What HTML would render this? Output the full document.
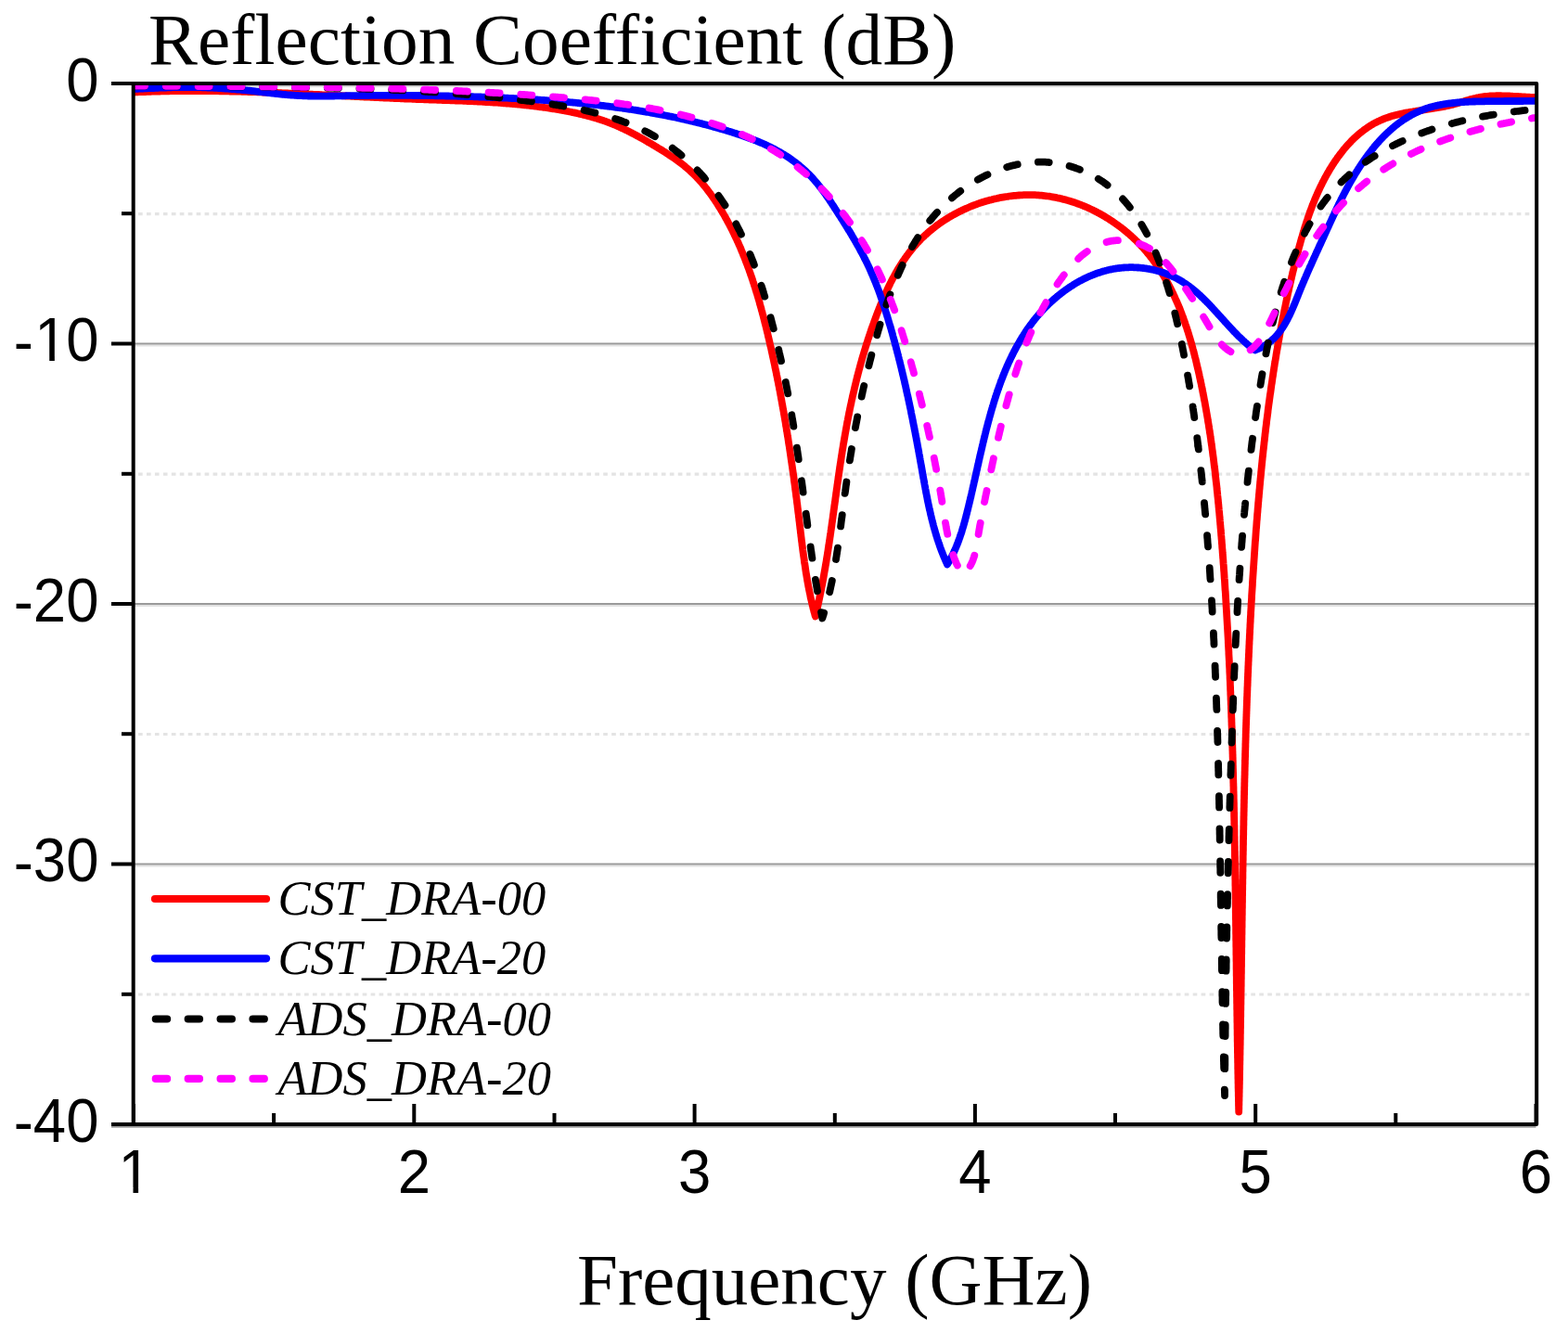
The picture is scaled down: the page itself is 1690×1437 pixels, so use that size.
<!DOCTYPE html>
<html><head><meta charset="utf-8"><title>Reflection Coefficient</title>
<style>html,body{margin:0;padding:0;background:#fff;}svg{display:block;}text{font-variant-ligatures:none;font-feature-settings:'liga' 0,'clig' 0;font-kerning:normal;}</style>
</head><body>
<svg width="1690" height="1437" viewBox="0 0 1690 1437">
<rect width="100%" height="100%" fill="#ffffff"/>
<line x1="149.0" y1="230.6" x2="1652.5" y2="230.6" stroke="#e4e4e4" stroke-width="3.2" stroke-dasharray="4.7 4.25"/>
<line x1="149.0" y1="511.1" x2="1652.5" y2="511.1" stroke="#e4e4e4" stroke-width="3.2" stroke-dasharray="4.7 4.25"/>
<line x1="149.0" y1="791.5" x2="1652.5" y2="791.5" stroke="#e4e4e4" stroke-width="3.2" stroke-dasharray="4.7 4.25"/>
<line x1="149.0" y1="1072.0" x2="1652.5" y2="1072.0" stroke="#e4e4e4" stroke-width="3.2" stroke-dasharray="4.7 4.25"/>
<line x1="144.0" y1="372.5" x2="1655.5" y2="372.5" stroke="#e2e2e2" stroke-width="2"/>
<line x1="144.0" y1="370.5" x2="1655.5" y2="370.5" stroke="#9a9a9a" stroke-width="2"/>
<line x1="144.0" y1="653.0" x2="1655.5" y2="653.0" stroke="#e2e2e2" stroke-width="2"/>
<line x1="144.0" y1="651.0" x2="1655.5" y2="651.0" stroke="#9a9a9a" stroke-width="2"/>
<line x1="144.0" y1="933.5" x2="1655.5" y2="933.5" stroke="#e2e2e2" stroke-width="2"/>
<line x1="144.0" y1="931.5" x2="1655.5" y2="931.5" stroke="#9a9a9a" stroke-width="2"/>
<line x1="144.0" y1="92.8" x2="1653.5" y2="92.8" stroke="#c8c8c8" stroke-width="2"/>
<defs><clipPath id="pc"><rect x="144.0" y="70.0" width="1511.5" height="1162.0"/></clipPath></defs>
<g fill="none" stroke-linejoin="round" clip-path="url(#pc)">
<path d="M144.0,99.5 L145.4,99.4 L146.8,99.4 L148.2,99.3 L149.6,99.2 L151.0,99.2 L152.4,99.1 L153.9,99.1 L155.3,99.0 L156.7,99.0 L158.1,98.9 L159.5,98.9 L160.9,98.8 L162.3,98.8 L163.7,98.7 L165.1,98.7 L166.5,98.6 L167.9,98.6 L169.3,98.6 L170.7,98.5 L172.1,98.5 L173.6,98.4 L175.0,98.4 L176.4,98.4 L177.8,98.4 L179.2,98.3 L180.6,98.3 L182.0,98.3 L183.4,98.2 L184.8,98.2 L186.2,98.2 L187.6,98.2 L189.0,98.2 L190.4,98.1 L191.8,98.1 L193.2,98.1 L194.6,98.1 L196.1,98.1 L197.5,98.1 L198.9,98.1 L200.3,98.1 L201.7,98.1 L203.1,98.0 L204.5,98.0 L205.9,98.0 L207.3,98.0 L208.7,98.0 L210.1,98.0 L211.5,98.0 L212.9,98.0 L214.3,98.0 L215.7,98.0 L217.1,98.1 L218.5,98.1 L219.9,98.1 L221.3,98.1 L222.8,98.1 L224.2,98.1 L225.6,98.1 L227.0,98.1 L228.4,98.1 L229.8,98.2 L231.2,98.2 L232.6,98.2 L234.0,98.2 L235.4,98.2 L236.8,98.3 L238.2,98.3 L239.6,98.3 L241.0,98.3 L242.4,98.4 L243.8,98.4 L245.2,98.4 L246.6,98.4 L248.0,98.5 L249.4,98.5 L250.8,98.5 L252.3,98.6 L253.7,98.6 L255.1,98.6 L256.5,98.7 L257.9,98.7 L259.3,98.7 L260.7,98.8 L262.1,98.8 L263.5,98.8 L264.9,98.9 L266.3,98.9 L267.7,99.0 L269.1,99.0 L270.5,99.0 L271.9,99.1 L273.3,99.1 L274.7,99.2 L276.1,99.2 L277.5,99.3 L278.9,99.3 L280.3,99.4 L281.7,99.4 L283.1,99.5 L284.5,99.5 L286.0,99.6 L287.4,99.6 L288.8,99.7 L290.2,99.7 L291.6,99.8 L293.0,99.8 L294.4,99.9 L295.8,99.9 L297.2,100.0 L298.6,100.0 L300.0,100.1 L301.4,100.2 L302.8,100.2 L304.2,100.3 L305.6,100.3 L307.0,100.4 L308.4,100.4 L309.8,100.5 L311.2,100.6 L312.6,100.6 L314.0,100.7 L315.4,100.7 L316.8,100.8 L318.2,100.9 L319.7,100.9 L321.1,101.0 L322.5,101.1 L323.9,101.1 L325.3,101.2 L326.7,101.3 L328.1,101.3 L329.5,101.4 L330.9,101.4 L332.3,101.5 L333.7,101.6 L335.1,101.6 L336.5,101.7 L337.9,101.8 L339.3,101.8 L340.7,101.9 L342.1,102.0 L343.5,102.0 L344.9,102.1 L346.3,102.2 L347.7,102.3 L349.1,102.3 L350.5,102.4 L352.0,102.5 L353.4,102.5 L354.8,102.6 L356.2,102.7 L357.6,102.7 L359.0,102.8 L360.4,102.9 L361.8,102.9 L363.2,103.0 L364.6,103.1 L366.0,103.1 L367.4,103.2 L368.8,103.3 L370.2,103.4 L371.6,103.4 L373.0,103.5 L374.4,103.6 L375.8,103.6 L377.2,103.7 L378.6,103.8 L380.0,103.8 L381.5,103.9 L382.9,104.0 L384.3,104.1 L385.7,104.1 L387.1,104.2 L388.5,104.3 L389.9,104.3 L391.3,104.4 L392.7,104.5 L394.1,104.5 L395.5,104.6 L396.9,104.7 L398.3,104.7 L399.7,104.8 L401.1,104.9 L402.5,104.9 L403.9,105.0 L405.3,105.1 L406.8,105.1 L408.2,105.2 L409.6,105.3 L411.0,105.3 L412.4,105.4 L413.8,105.5 L415.2,105.5 L416.6,105.6 L418.0,105.7 L419.4,105.7 L420.8,105.8 L422.2,105.8 L423.6,105.9 L425.0,106.0 L426.4,106.0 L427.8,106.1 L429.3,106.2 L430.7,106.2 L432.1,106.3 L433.5,106.3 L434.9,106.4 L436.3,106.5 L437.7,106.5 L439.1,106.6 L440.5,106.6 L441.9,106.7 L443.3,106.7 L444.7,106.8 L446.1,106.8 L447.5,106.9 L449.0,107.0 L450.4,107.0 L451.8,107.1 L453.2,107.1 L454.6,107.2 L456.0,107.2 L457.4,107.3 L458.8,107.3 L460.2,107.4 L461.6,107.4 L463.0,107.5 L464.4,107.5 L465.9,107.6 L467.3,107.6 L468.7,107.7 L470.1,107.7 L471.5,107.8 L472.9,107.8 L474.3,107.9 L475.7,107.9 L477.1,108.0 L478.5,108.0 L479.9,108.1 L481.3,108.1 L482.7,108.2 L484.2,108.2 L485.6,108.3 L487.0,108.3 L488.4,108.4 L489.8,108.4 L491.2,108.5 L492.6,108.5 L494.0,108.6 L495.4,108.6 L496.8,108.7 L498.2,108.7 L499.6,108.8 L501.0,108.9 L502.4,108.9 L503.9,109.0 L505.3,109.0 L506.7,109.1 L508.1,109.2 L509.5,109.2 L510.9,109.3 L512.3,109.4 L513.7,109.4 L515.1,109.5 L516.5,109.6 L517.9,109.7 L519.3,109.7 L520.7,109.8 L522.1,109.9 L523.5,110.0 L524.9,110.0 L526.3,110.1 L527.7,110.2 L529.1,110.3 L530.5,110.4 L532.0,110.5 L533.4,110.6 L534.8,110.7 L536.2,110.7 L537.6,110.8 L539.0,110.9 L540.4,111.0 L541.8,111.1 L543.2,111.3 L544.6,111.4 L546.0,111.5 L547.4,111.6 L548.8,111.7 L550.2,111.8 L551.6,111.9 L553.0,112.1 L554.4,112.2 L555.8,112.3 L557.2,112.4 L558.6,112.6 L560.0,112.7 L561.3,112.8 L562.7,113.0 L564.1,113.1 L565.5,113.3 L566.9,113.4 L568.3,113.6 L569.7,113.7 L571.1,113.9 L572.5,114.0 L573.9,114.2 L575.3,114.4 L576.7,114.5 L578.1,114.7 L579.5,114.9 L580.9,115.1 L582.3,115.3 L583.6,115.4 L585.0,115.6 L586.4,115.8 L587.8,116.0 L589.2,116.2 L590.6,116.4 L592.0,116.6 L593.4,116.8 L594.8,117.1 L596.1,117.3 L597.5,117.5 L598.9,117.7 L600.3,118.0 L601.7,118.2 L603.1,118.4 L604.5,118.7 L605.8,118.9 L607.2,119.2 L608.6,119.4 L610.0,119.7 L611.4,120.0 L612.7,120.2 L614.1,120.5 L615.5,120.8 L616.9,121.1 L618.3,121.3 L619.6,121.6 L621.0,121.9 L622.4,122.2 L623.8,122.6 L625.1,122.9 L626.5,123.2 L627.9,123.5 L629.2,123.9 L630.6,124.2 L631.9,124.5 L633.3,124.9 L634.7,125.3 L636.0,125.6 L637.4,126.0 L638.7,126.4 L640.1,126.8 L641.4,127.2 L642.8,127.6 L644.1,128.0 L645.4,128.4 L646.8,128.8 L648.1,129.3 L649.4,129.7 L650.7,130.2 L652.1,130.6 L653.4,131.1 L654.7,131.6 L656.0,132.1 L657.3,132.6 L658.6,133.1 L659.9,133.6 L661.2,134.1 L662.5,134.7 L663.8,135.2 L665.1,135.8 L666.4,136.3 L667.7,136.9 L668.9,137.5 L670.2,138.1 L671.5,138.7 L672.8,139.3 L674.0,139.9 L675.3,140.5 L676.5,141.1 L677.8,141.7 L679.1,142.4 L680.3,143.0 L681.6,143.7 L682.8,144.3 L684.0,145.0 L685.3,145.6 L686.5,146.3 L687.8,147.0 L689.0,147.7 L690.2,148.3 L691.5,149.0 L692.7,149.7 L693.9,150.4 L695.2,151.1 L696.4,151.8 L697.6,152.6 L698.8,153.3 L700.1,154.0 L701.3,154.7 L702.5,155.4 L703.7,156.1 L705.0,156.9 L706.2,157.6 L707.4,158.3 L708.6,159.1 L709.8,159.8 L711.0,160.5 L712.2,161.3 L713.5,162.0 L714.7,162.8 L715.9,163.5 L717.1,164.3 L718.3,165.1 L719.5,165.8 L720.6,166.6 L721.8,167.4 L723.0,168.2 L724.2,169.0 L725.3,169.7 L726.5,170.5 L727.7,171.4 L728.8,172.2 L730.0,173.0 L731.1,173.8 L732.2,174.7 L733.4,175.5 L734.5,176.4 L735.6,177.2 L736.7,178.1 L737.8,179.0 L738.8,179.9 L739.9,180.8 L741.0,181.7 L742.0,182.6 L743.1,183.5 L744.1,184.5 L745.1,185.4 L746.1,186.4 L747.2,187.4 L748.1,188.3 L749.1,189.3 L750.1,190.3 L751.1,191.3 L752.0,192.3 L753.0,193.4 L753.9,194.4 L754.8,195.4 L755.8,196.5 L756.7,197.5 L757.6,198.6 L758.5,199.7 L759.4,200.8 L760.3,201.9 L761.1,202.9 L762.0,204.0 L762.8,205.2 L763.7,206.3 L764.5,207.4 L765.4,208.5 L766.2,209.7 L767.0,210.8 L767.8,211.9 L768.6,213.1 L769.4,214.2 L770.2,215.4 L771.0,216.6 L771.8,217.7 L772.5,218.9 L773.3,220.1 L774.0,221.3 L774.8,222.5 L775.5,223.6 L776.3,224.8 L777.0,226.0 L777.7,227.2 L778.4,228.4 L779.2,229.7 L779.9,230.9 L780.6,232.1 L781.3,233.3 L781.9,234.5 L782.6,235.7 L783.3,237.0 L784.0,238.2 L784.6,239.4 L785.3,240.7 L786.0,241.9 L786.6,243.1 L787.3,244.4 L787.9,245.6 L788.5,246.9 L789.2,248.1 L789.8,249.4 L790.4,250.6 L791.0,251.9 L791.6,253.2 L792.2,254.4 L792.8,255.7 L793.4,256.9 L794.0,258.2 L794.6,259.5 L795.2,260.8 L795.8,262.0 L796.3,263.3 L796.9,264.6 L797.5,265.9 L798.0,267.2 L798.6,268.5 L799.1,269.8 L799.6,271.1 L800.2,272.4 L800.7,273.7 L801.2,275.0 L801.8,276.3 L802.3,277.6 L802.8,278.9 L803.3,280.2 L803.8,281.5 L804.3,282.8 L804.8,284.1 L805.3,285.4 L805.8,286.7 L806.3,288.1 L806.8,289.4 L807.3,290.7 L807.7,292.0 L808.2,293.4 L808.7,294.7 L809.1,296.0 L809.6,297.3 L810.1,298.7 L810.5,300.0 L811.0,301.3 L811.4,302.7 L811.8,304.0 L812.3,305.4 L812.7,306.7 L813.1,308.0 L813.6,309.4 L814.0,310.7 L814.4,312.1 L814.8,313.4 L815.2,314.8 L815.7,316.1 L816.1,317.5 L816.5,318.8 L816.9,320.2 L817.3,321.5 L817.7,322.9 L818.1,324.3 L818.5,325.6 L818.8,327.0 L819.2,328.3 L819.6,329.7 L820.0,331.1 L820.4,332.4 L820.7,333.8 L821.1,335.1 L821.5,336.5 L821.8,337.9 L822.2,339.2 L822.6,340.6 L822.9,342.0 L823.3,343.4 L823.6,344.7 L824.0,346.1 L824.3,347.5 L824.7,348.8 L825.0,350.2 L825.4,351.6 L825.7,352.9 L826.0,354.3 L826.4,355.7 L826.7,357.1 L827.0,358.4 L827.4,359.8 L827.7,361.2 L828.0,362.6 L828.3,363.9 L828.7,365.3 L829.0,366.7 L829.3,368.1 L829.6,369.4 L829.9,370.8 L830.2,372.2 L830.6,373.6 L830.9,374.9 L831.2,376.3 L831.5,377.7 L831.8,379.1 L832.1,380.5 L832.4,381.8 L832.7,383.2 L833.0,384.6 L833.3,386.0 L833.6,387.3 L833.9,388.7 L834.2,390.1 L834.5,391.5 L834.8,392.8 L835.1,394.2 L835.3,395.6 L835.6,397.0 L835.9,398.4 L836.2,399.7 L836.5,401.1 L836.8,402.5 L837.0,403.9 L837.3,405.2 L837.6,406.6 L837.9,408.0 L838.1,409.4 L838.4,410.8 L838.7,412.1 L839.0,413.5 L839.2,414.9 L839.5,416.3 L839.8,417.6 L840.0,419.0 L840.3,420.4 L840.6,421.8 L840.8,423.2 L841.1,424.5 L841.3,425.9 L841.6,427.3 L841.8,428.7 L842.1,430.1 L842.3,431.4 L842.6,432.8 L842.8,434.2 L843.1,435.6 L843.3,437.0 L843.6,438.3 L843.8,439.7 L844.1,441.1 L844.3,442.5 L844.6,443.9 L844.8,445.2 L845.0,446.6 L845.3,448.0 L845.5,449.4 L845.8,450.8 L846.0,452.2 L846.2,453.5 L846.5,454.9 L846.7,456.3 L846.9,457.7 L847.1,459.1 L847.4,460.4 L847.6,461.8 L847.8,463.2 L848.0,464.6 L848.3,466.0 L848.5,467.4 L848.7,468.8 L848.9,470.1 L849.2,471.5 L849.4,472.9 L849.6,474.3 L849.8,475.7 L850.0,477.1 L850.2,478.4 L850.4,479.8 L850.7,481.2 L850.9,482.6 L851.1,484.0 L851.3,485.4 L851.5,486.8 L851.7,488.1 L851.9,489.5 L852.1,490.9 L852.3,492.3 L852.5,493.7 L852.7,495.1 L852.9,496.5 L853.1,497.9 L853.3,499.2 L853.5,500.6 L853.7,502.0 L853.9,503.4 L854.1,504.8 L854.3,506.2 L854.5,507.6 L854.7,509.0 L854.9,510.4 L855.1,511.8 L855.3,513.1 L855.5,514.5 L855.7,515.9 L855.8,517.3 L856.0,518.7 L856.2,520.1 L856.4,521.5 L856.6,522.9 L856.8,524.3 L857.0,525.7 L857.1,527.1 L857.3,528.5 L857.5,529.8 L857.7,531.2 L857.9,532.6 L858.0,534.0 L858.2,535.4 L858.4,536.8 L858.6,538.2 L858.8,539.6 L858.9,541.0 L859.1,542.4 L859.3,543.8 L859.5,545.2 L859.6,546.6 L859.8,548.0 L860.0,549.4 L860.1,550.8 L860.3,552.2 L860.5,553.6 L860.7,555.0 L860.8,556.4 L861.0,557.8 L861.2,559.2 L861.3,560.6 L861.5,562.0 L861.7,563.4 L861.8,564.8 L862.0,566.2 L862.2,567.6 L862.3,569.0 L862.5,570.4 L862.7,571.8 L862.8,573.2 L863.0,574.6 L863.2,576.0 L863.3,577.4 L863.5,578.8 L863.7,580.2 L863.8,581.6 L864.0,583.0 L864.2,584.4 L864.4,585.8 L864.5,587.2 L864.7,588.6 L864.9,590.0 L865.1,591.4 L865.2,592.8 L865.4,594.2 L865.6,595.6 L865.8,597.0 L866.0,598.4 L866.2,599.8 L866.4,601.1 L866.6,602.5 L866.8,603.9 L866.9,605.3 L867.1,606.7 L867.4,608.1 L867.6,609.5 L867.8,610.9 L868.0,612.3 L868.2,613.7 L868.4,615.1 L868.6,616.5 L868.8,617.9 L869.1,619.3 L869.3,620.6 L869.5,622.0 L869.8,623.4 L870.0,624.8 L870.2,626.2 L870.5,627.6 L870.7,628.9 L871.0,630.3 L871.2,631.7 L871.5,633.1 L871.8,634.5 L872.0,635.8 L872.3,637.2 L872.6,638.6 L872.9,640.0 L873.2,641.3 L873.4,642.7 L873.7,644.1 L874.0,645.5 L874.3,646.8 L874.7,648.2 L875.0,649.6 L875.3,650.9 L875.6,652.3 L876.0,653.7 L876.3,655.0 L876.6,656.4 L877.0,657.7 L877.3,659.1 L877.7,660.4 L878.1,661.8 L878.4,663.1 L878.8,664.5 L878.8,664.5 L879.2,662.8 L879.6,661.1 L880.0,659.4 L880.4,657.8 L880.8,656.1 L881.2,654.4 L881.5,652.7 L881.9,651.0 L882.3,649.3 L882.6,647.6 L883.0,645.9 L883.3,644.2 L883.7,642.5 L884.0,640.9 L884.4,639.2 L884.7,637.5 L885.1,635.8 L885.4,634.1 L885.7,632.4 L886.1,630.7 L886.4,629.0 L886.7,627.3 L887.0,625.6 L887.3,623.9 L887.6,622.2 L887.9,620.5 L888.2,618.8 L888.5,617.1 L888.8,615.4 L889.1,613.7 L889.4,612.0 L889.7,610.2 L890.0,608.5 L890.3,606.8 L890.6,605.1 L890.8,603.4 L891.1,601.7 L891.4,600.0 L891.7,598.3 L891.9,596.6 L892.2,594.9 L892.5,593.2 L892.7,591.5 L893.0,589.8 L893.3,588.0 L893.5,586.3 L893.8,584.6 L894.0,582.9 L894.3,581.2 L894.5,579.5 L894.8,577.8 L895.0,576.1 L895.3,574.3 L895.5,572.6 L895.8,570.9 L896.0,569.2 L896.3,567.5 L896.5,565.8 L896.7,564.1 L897.0,562.4 L897.2,560.6 L897.5,558.9 L897.7,557.2 L897.9,555.5 L898.2,553.8 L898.4,552.1 L898.6,550.3 L898.9,548.6 L899.1,546.9 L899.3,545.2 L899.6,543.5 L899.8,541.8 L900.1,540.1 L900.3,538.3 L900.5,536.6 L900.8,534.9 L901.0,533.2 L901.2,531.5 L901.5,529.8 L901.7,528.0 L902.0,526.3 L902.2,524.6 L902.4,522.9 L902.7,521.2 L902.9,519.5 L903.2,517.8 L903.4,516.0 L903.6,514.3 L903.9,512.6 L904.1,510.9 L904.4,509.2 L904.6,507.5 L904.9,505.8 L905.1,504.0 L905.4,502.3 L905.6,500.6 L905.9,498.9 L906.2,497.2 L906.4,495.5 L906.7,493.8 L906.9,492.1 L907.2,490.3 L907.5,488.6 L907.7,486.9 L908.0,485.2 L908.3,483.5 L908.6,481.8 L908.8,480.1 L909.1,478.4 L909.4,476.7 L909.7,475.0 L910.0,473.3 L910.3,471.5 L910.6,469.8 L910.9,468.1 L911.2,466.4 L911.5,464.7 L911.8,463.0 L912.1,461.3 L912.4,459.6 L912.7,457.9 L913.0,456.2 L913.3,454.5 L913.7,452.8 L914.0,451.1 L914.3,449.4 L914.7,447.7 L915.0,446.0 L915.3,444.3 L915.7,442.6 L916.0,440.9 L916.4,439.2 L916.7,437.5 L917.1,435.8 L917.5,434.1 L917.8,432.4 L918.2,430.7 L918.6,429.0 L918.9,427.3 L919.3,425.7 L919.7,424.0 L920.1,422.3 L920.5,420.6 L920.9,418.9 L921.3,417.2 L921.7,415.5 L922.1,413.8 L922.5,412.2 L922.9,410.5 L923.3,408.8 L923.7,407.1 L924.2,405.4 L924.6,403.8 L925.0,402.1 L925.5,400.4 L925.9,398.7 L926.4,397.1 L926.8,395.4 L927.3,393.7 L927.7,392.0 L928.2,390.4 L928.7,388.7 L929.1,387.0 L929.6,385.4 L930.1,383.7 L930.6,382.0 L931.1,380.4 L931.6,378.7 L932.1,377.0 L932.6,375.4 L933.1,373.7 L933.6,372.1 L934.1,370.4 L934.7,368.7 L935.2,367.1 L935.7,365.4 L936.3,363.8 L936.8,362.1 L937.4,360.5 L937.9,358.8 L938.5,357.2 L939.0,355.5 L939.6,353.9 L940.2,352.2 L940.8,350.6 L941.4,349.0 L942.0,347.3 L942.6,345.7 L943.2,344.1 L943.8,342.4 L944.4,340.8 L945.0,339.2 L945.6,337.5 L946.3,335.9 L946.9,334.3 L947.5,332.6 L948.2,331.0 L948.8,329.4 L949.5,327.8 L950.2,326.2 L950.8,324.6 L951.5,322.9 L952.2,321.3 L952.9,319.7 L953.6,318.1 L954.3,316.5 L955.0,315.0 L955.8,313.4 L956.5,311.8 L957.3,310.2 L958.0,308.6 L958.8,307.1 L959.5,305.5 L960.3,304.0 L961.1,302.4 L961.9,300.9 L962.7,299.4 L963.6,297.8 L964.4,296.3 L965.2,294.8 L966.1,293.3 L966.9,291.8 L967.8,290.3 L968.7,288.8 L969.6,287.4 L970.5,285.9 L971.4,284.5 L972.4,283.0 L973.3,281.6 L974.3,280.2 L975.3,278.8 L976.2,277.4 L977.2,276.0 L978.3,274.6 L979.3,273.2 L980.3,271.9 L981.4,270.5 L982.5,269.2 L983.5,267.9 L984.6,266.6 L985.7,265.3 L986.9,264.0 L988.0,262.7 L989.2,261.4 L990.4,260.2 L991.5,259.0 L992.7,257.7 L994.0,256.5 L995.2,255.4 L996.4,254.2 L997.7,253.0 L999.0,251.9 L1000.3,250.7 L1001.6,249.6 L1002.9,248.5 L1004.2,247.4 L1005.5,246.3 L1006.9,245.3 L1008.3,244.2 L1009.6,243.2 L1011.0,242.1 L1012.4,241.1 L1013.8,240.1 L1015.3,239.2 L1016.7,238.2 L1018.1,237.3 L1019.6,236.3 L1021.1,235.4 L1022.5,234.5 L1024.0,233.6 L1025.5,232.7 L1027.0,231.9 L1028.6,231.0 L1030.1,230.2 L1031.6,229.4 L1033.2,228.6 L1034.7,227.8 L1036.3,227.1 L1037.8,226.3 L1039.4,225.6 L1041.0,224.9 L1042.6,224.2 L1044.2,223.5 L1045.8,222.8 L1047.4,222.1 L1049.0,221.5 L1050.7,220.9 L1052.3,220.3 L1053.9,219.7 L1055.6,219.1 L1057.3,218.6 L1058.9,218.0 L1060.6,217.5 L1062.2,217.0 L1063.9,216.5 L1065.6,216.1 L1067.3,215.6 L1069.0,215.2 L1070.7,214.7 L1072.4,214.3 L1074.1,214.0 L1075.8,213.6 L1077.5,213.2 L1079.2,212.9 L1080.9,212.6 L1082.6,212.3 L1084.4,212.0 L1086.1,211.8 L1087.8,211.5 L1089.5,211.3 L1091.3,211.1 L1093.0,210.9 L1094.7,210.8 L1096.5,210.6 L1098.2,210.5 L1099.9,210.4 L1101.7,210.3 L1103.4,210.2 L1105.2,210.2 L1106.9,210.1 L1108.6,210.1 L1110.4,210.1 L1112.1,210.1 L1113.8,210.2 L1115.6,210.2 L1117.3,210.3 L1119.0,210.4 L1120.8,210.6 L1122.5,210.7 L1124.2,210.9 L1125.9,211.1 L1127.7,211.3 L1129.4,211.5 L1131.1,211.7 L1132.8,212.0 L1134.5,212.3 L1136.2,212.6 L1137.9,212.9 L1139.6,213.3 L1141.3,213.6 L1143.0,214.0 L1144.7,214.4 L1146.4,214.9 L1148.1,215.3 L1149.7,215.8 L1151.4,216.2 L1153.1,216.7 L1154.7,217.2 L1156.4,217.8 L1158.0,218.3 L1159.7,218.9 L1161.3,219.5 L1163.0,220.1 L1164.6,220.7 L1166.2,221.3 L1167.8,222.0 L1169.4,222.6 L1171.0,223.3 L1172.6,224.0 L1174.2,224.8 L1175.8,225.5 L1177.4,226.2 L1178.9,227.0 L1180.5,227.8 L1182.0,228.6 L1183.6,229.4 L1185.1,230.2 L1186.6,231.1 L1188.2,231.9 L1189.7,232.8 L1191.2,233.7 L1192.6,234.6 L1194.1,235.5 L1195.6,236.4 L1197.1,237.4 L1198.5,238.4 L1200.0,239.3 L1201.4,240.3 L1202.8,241.3 L1204.2,242.3 L1205.6,243.4 L1207.0,244.4 L1208.4,245.4 L1209.8,246.5 L1211.2,247.6 L1212.5,248.7 L1213.8,249.8 L1215.2,250.9 L1216.5,252.0 L1217.8,253.2 L1219.1,254.3 L1220.4,255.5 L1221.6,256.6 L1222.9,257.8 L1224.1,259.0 L1225.4,260.2 L1226.6,261.4 L1227.8,262.7 L1229.0,263.9 L1230.1,265.2 L1231.3,266.4 L1232.5,267.7 L1233.6,269.0 L1234.7,270.3 L1235.8,271.6 L1236.9,272.9 L1238.0,274.2 L1239.1,275.5 L1240.1,276.9 L1241.2,278.2 L1242.2,279.6 L1243.2,280.9 L1244.2,282.3 L1245.2,283.7 L1246.2,285.1 L1247.2,286.5 L1248.1,287.9 L1249.1,289.3 L1250.0,290.7 L1250.9,292.1 L1251.8,293.6 L1252.7,295.0 L1253.6,296.5 L1254.5,297.9 L1255.4,299.4 L1256.2,300.9 L1257.1,302.4 L1257.9,303.9 L1258.7,305.4 L1259.5,306.9 L1260.3,308.4 L1261.1,309.9 L1261.9,311.4 L1262.7,313.0 L1263.4,314.5 L1264.2,316.0 L1264.9,317.6 L1265.6,319.1 L1266.3,320.7 L1267.0,322.3 L1267.7,323.8 L1268.4,325.4 L1269.1,327.0 L1269.8,328.6 L1270.5,330.2 L1271.1,331.8 L1271.8,333.4 L1272.4,335.0 L1273.0,336.6 L1273.6,338.2 L1274.2,339.9 L1274.9,341.5 L1275.4,343.1 L1276.0,344.8 L1276.6,346.4 L1277.2,348.1 L1277.7,349.7 L1278.3,351.4 L1278.9,353.0 L1279.4,354.7 L1279.9,356.3 L1280.5,358.0 L1281.0,359.7 L1281.5,361.3 L1282.0,363.0 L1282.5,364.7 L1283.0,366.4 L1283.5,368.1 L1284.0,369.7 L1284.4,371.4 L1284.9,373.1 L1285.4,374.8 L1285.8,376.5 L1286.3,378.2 L1286.7,379.9 L1287.2,381.6 L1287.6,383.3 L1288.0,385.0 L1288.5,386.7 L1288.9,388.4 L1289.3,390.1 L1289.7,391.8 L1290.1,393.6 L1290.5,395.3 L1290.9,397.0 L1291.3,398.7 L1291.7,400.4 L1292.1,402.1 L1292.5,403.8 L1292.8,405.5 L1293.2,407.3 L1293.6,409.0 L1293.9,410.7 L1294.3,412.4 L1294.7,414.1 L1295.0,415.8 L1295.4,417.5 L1295.7,419.2 L1296.1,421.0 L1296.4,422.7 L1296.7,424.4 L1297.1,426.1 L1297.4,427.8 L1297.7,429.5 L1298.0,431.2 L1298.4,432.9 L1298.7,434.7 L1299.0,436.4 L1299.3,438.1 L1299.6,439.8 L1299.9,441.5 L1300.2,443.2 L1300.5,444.9 L1300.8,446.7 L1301.1,448.4 L1301.4,450.1 L1301.7,451.8 L1301.9,453.5 L1302.2,455.2 L1302.5,456.9 L1302.8,458.6 L1303.0,460.4 L1303.3,462.1 L1303.6,463.8 L1303.8,465.5 L1304.1,467.2 L1304.4,468.9 L1304.6,470.6 L1304.9,472.4 L1305.1,474.1 L1305.3,475.8 L1305.6,477.5 L1305.8,479.2 L1306.1,480.9 L1306.3,482.6 L1306.5,484.4 L1306.8,486.1 L1307.0,487.8 L1307.2,489.5 L1307.4,491.2 L1307.7,492.9 L1307.9,494.7 L1308.1,496.4 L1308.3,498.1 L1308.5,499.8 L1308.7,501.5 L1308.9,503.2 L1309.2,504.9 L1309.4,506.7 L1309.6,508.4 L1309.8,510.1 L1310.0,511.8 L1310.1,513.5 L1310.3,515.2 L1310.5,517.0 L1310.7,518.7 L1310.9,520.4 L1311.1,522.1 L1311.3,523.8 L1311.5,525.5 L1311.6,527.3 L1311.8,529.0 L1312.0,530.7 L1312.2,532.4 L1312.3,534.1 L1312.5,535.8 L1312.7,537.6 L1312.9,539.3 L1313.0,541.0 L1313.2,542.7 L1313.4,544.4 L1313.5,546.2 L1313.7,547.9 L1313.8,549.6 L1314.0,551.3 L1314.2,553.0 L1314.3,554.8 L1314.5,556.5 L1314.6,558.2 L1314.8,559.9 L1314.9,561.6 L1315.1,563.3 L1315.2,565.1 L1315.4,566.8 L1315.5,568.5 L1315.7,570.2 L1315.8,571.9 L1316.0,573.7 L1316.1,575.4 L1316.2,577.1 L1316.4,578.8 L1316.5,580.6 L1316.7,582.3 L1316.8,584.0 L1316.9,585.7 L1317.1,587.4 L1317.2,589.2 L1317.3,590.9 L1317.5,592.6 L1317.6,594.3 L1317.7,596.0 L1317.9,597.8 L1318.0,599.5 L1318.1,601.2 L1318.3,602.9 L1318.4,604.7 L1318.5,606.4 L1318.6,608.1 L1318.8,609.8 L1318.9,611.5 L1319.0,613.3 L1319.1,615.0 L1319.3,616.7 L1319.4,618.4 L1319.5,620.2 L1319.6,621.9 L1319.7,623.6 L1319.9,625.3 L1320.0,627.1 L1320.1,628.8 L1320.2,630.5 L1320.3,632.2 L1320.4,634.0 L1320.5,635.7 L1320.7,637.4 L1320.8,639.1 L1320.9,640.9 L1321.0,642.6 L1321.1,644.3 L1321.2,646.0 L1321.3,647.8 L1321.4,649.5 L1321.5,651.2 L1321.6,652.9 L1321.7,654.7 L1321.8,656.4 L1321.9,658.1 L1322.0,659.8 L1322.1,661.6 L1322.2,663.3 L1322.3,665.0 L1322.4,666.8 L1322.5,668.5 L1322.6,670.2 L1322.7,671.9 L1322.8,673.7 L1322.9,675.4 L1323.0,677.1 L1323.1,678.8 L1323.2,680.6 L1323.3,682.3 L1323.4,684.0 L1323.5,685.8 L1323.6,687.5 L1323.7,689.2 L1323.8,690.9 L1323.8,692.7 L1323.9,694.4 L1324.0,696.1 L1324.1,697.9 L1324.2,699.6 L1324.3,701.3 L1324.4,703.0 L1324.4,704.8 L1324.5,706.5 L1324.6,708.2 L1324.7,710.0 L1324.8,711.7 L1324.9,713.4 L1324.9,715.1 L1325.0,716.9 L1325.1,718.6 L1325.2,720.3 L1325.3,722.1 L1325.3,723.8 L1325.4,725.5 L1325.5,727.3 L1325.6,729.0 L1325.6,730.7 L1325.7,732.4 L1325.8,734.2 L1325.9,735.9 L1325.9,737.6 L1326.0,739.4 L1326.1,741.1 L1326.1,742.8 L1326.2,744.6 L1326.3,746.3 L1326.3,748.0 L1326.4,749.7 L1326.5,751.5 L1326.5,753.2 L1326.6,754.9 L1326.7,756.7 L1326.7,758.4 L1326.8,760.1 L1326.9,761.9 L1326.9,763.6 L1327.0,765.3 L1327.1,767.1 L1327.1,768.8 L1327.2,770.5 L1327.2,772.3 L1327.3,774.0 L1327.4,775.7 L1327.4,777.5 L1327.5,779.2 L1327.5,780.9 L1327.6,782.6 L1327.7,784.4 L1327.7,786.1 L1327.8,787.8 L1327.8,789.6 L1327.9,791.3 L1327.9,793.0 L1328.0,794.8 L1328.0,796.5 L1328.1,798.2 L1328.1,800.0 L1328.2,801.7 L1328.3,803.4 L1328.3,805.2 L1328.4,806.9 L1328.4,808.6 L1328.5,810.4 L1328.5,812.1 L1328.6,813.8 L1328.6,815.6 L1328.7,817.3 L1328.7,819.0 L1328.8,820.8 L1328.8,822.5 L1328.8,824.2 L1328.9,826.0 L1328.9,827.7 L1329.0,829.4 L1329.0,831.2 L1329.1,832.9 L1329.1,834.6 L1329.2,836.4 L1329.2,838.1 L1329.2,839.8 L1329.3,841.6 L1329.3,843.3 L1329.4,845.0 L1329.4,846.8 L1329.5,848.5 L1329.5,850.2 L1329.5,852.0 L1329.6,853.7 L1329.6,855.4 L1329.7,857.2 L1329.7,858.9 L1329.7,860.6 L1329.8,862.4 L1329.8,864.1 L1329.9,865.8 L1329.9,867.6 L1329.9,869.3 L1330.0,871.0 L1330.0,872.8 L1330.0,874.5 L1330.1,876.3 L1330.1,878.0 L1330.1,879.7 L1330.2,881.5 L1330.2,883.2 L1330.3,884.9 L1330.3,886.7 L1330.3,888.4 L1330.4,890.1 L1330.4,891.9 L1330.4,893.6 L1330.5,895.3 L1330.5,897.1 L1330.5,898.8 L1330.5,900.5 L1330.6,902.3 L1330.6,904.0 L1330.6,905.7 L1330.7,907.5 L1330.7,909.2 L1330.7,910.9 L1330.8,912.7 L1330.8,914.4 L1330.8,916.1 L1330.9,917.9 L1330.9,919.6 L1330.9,921.3 L1330.9,923.1 L1331.0,924.8 L1331.0,926.6 L1331.0,928.3 L1331.1,930.0 L1331.1,931.8 L1331.1,933.5 L1331.1,935.2 L1331.2,937.0 L1331.2,938.7 L1331.2,940.4 L1331.2,942.2 L1331.3,943.9 L1331.3,945.6 L1331.3,947.4 L1331.4,949.1 L1331.4,950.8 L1331.4,952.6 L1331.4,954.3 L1331.5,956.0 L1331.5,957.8 L1331.5,959.5 L1331.5,961.2 L1331.6,963.0 L1331.6,964.7 L1331.6,966.4 L1331.6,968.2 L1331.7,969.9 L1331.7,971.7 L1331.7,973.4 L1331.7,975.1 L1331.8,976.9 L1331.8,978.6 L1331.8,980.3 L1331.8,982.1 L1331.8,983.8 L1331.9,985.5 L1331.9,987.3 L1331.9,989.0 L1331.9,990.7 L1332.0,992.5 L1332.0,994.2 L1332.0,995.9 L1332.0,997.7 L1332.1,999.4 L1332.1,1001.1 L1332.1,1002.9 L1332.1,1004.6 L1332.1,1006.3 L1332.2,1008.1 L1332.2,1009.8 L1332.2,1011.5 L1332.2,1013.3 L1332.3,1015.0 L1332.3,1016.7 L1332.3,1018.5 L1332.3,1020.2 L1332.4,1021.9 L1332.4,1023.7 L1332.4,1025.4 L1332.4,1027.1 L1332.4,1028.9 L1332.5,1030.6 L1332.5,1032.3 L1332.5,1034.1 L1332.5,1035.8 L1332.6,1037.5 L1332.6,1039.3 L1332.6,1041.0 L1332.6,1042.7 L1332.6,1044.5 L1332.7,1046.2 L1332.7,1047.9 L1332.7,1049.7 L1332.7,1051.4 L1332.8,1053.1 L1332.8,1054.9 L1332.8,1056.6 L1332.8,1058.3 L1332.8,1060.1 L1332.9,1061.8 L1332.9,1063.5 L1332.9,1065.3 L1332.9,1067.0 L1333.0,1068.7 L1333.0,1070.5 L1333.0,1072.2 L1333.0,1073.9 L1333.1,1075.7 L1333.1,1077.4 L1333.1,1079.1 L1333.1,1080.9 L1333.2,1082.6 L1333.2,1084.3 L1333.2,1086.1 L1333.2,1087.8 L1333.3,1089.5 L1333.3,1091.3 L1333.3,1093.0 L1333.3,1094.7 L1333.4,1096.5 L1333.4,1098.2 L1333.4,1099.9 L1333.4,1101.7 L1333.5,1103.4 L1333.5,1105.1 L1333.5,1106.8 L1333.5,1108.6 L1333.6,1110.3 L1333.6,1112.0 L1333.6,1113.8 L1333.6,1115.5 L1333.7,1117.2 L1333.7,1119.0 L1333.7,1120.7 L1333.7,1122.4 L1333.8,1124.2 L1333.8,1125.9 L1333.8,1127.6 L1333.9,1129.3 L1333.9,1131.1 L1333.9,1132.8 L1333.9,1134.5 L1334.0,1136.3 L1334.0,1138.0 L1334.0,1139.7 L1334.1,1141.5 L1334.1,1143.2 L1334.1,1144.9 L1334.2,1146.6 L1334.2,1148.4 L1334.2,1150.1 L1334.2,1151.8 L1334.3,1153.6 L1334.3,1155.3 L1334.3,1157.0 L1334.4,1158.8 L1334.4,1160.5 L1334.4,1162.2 L1334.5,1163.9 L1334.5,1165.7 L1334.5,1167.4 L1334.6,1169.1 L1334.6,1170.9 L1334.6,1172.6 L1334.7,1174.3 L1334.7,1176.0 L1334.8,1177.8 L1334.8,1179.5 L1334.8,1181.2 L1334.9,1183.0 L1334.9,1184.7 L1334.9,1186.4 L1335.0,1188.1 L1335.0,1189.9 L1335.0,1191.6 L1335.1,1193.3 L1335.1,1195.0 L1335.2,1196.8 L1335.2,1198.5 L1335.2,1198.5 L1335.2,1197.0 L1335.3,1195.5 L1335.3,1194.0 L1335.3,1192.5 L1335.4,1191.0 L1335.4,1189.5 L1335.4,1188.0 L1335.5,1186.4 L1335.5,1184.9 L1335.5,1183.4 L1335.6,1181.9 L1335.6,1180.4 L1335.6,1178.9 L1335.7,1177.4 L1335.7,1175.9 L1335.7,1174.4 L1335.8,1172.9 L1335.8,1171.4 L1335.8,1169.9 L1335.9,1168.4 L1335.9,1166.9 L1335.9,1165.4 L1336.0,1163.9 L1336.0,1162.3 L1336.0,1160.8 L1336.0,1159.3 L1336.1,1157.8 L1336.1,1156.3 L1336.1,1154.8 L1336.2,1153.3 L1336.2,1151.8 L1336.2,1150.3 L1336.2,1148.8 L1336.3,1147.3 L1336.3,1145.8 L1336.3,1144.3 L1336.4,1142.8 L1336.4,1141.2 L1336.4,1139.7 L1336.4,1138.2 L1336.5,1136.7 L1336.5,1135.2 L1336.5,1133.7 L1336.5,1132.2 L1336.6,1130.7 L1336.6,1129.2 L1336.6,1127.7 L1336.7,1126.2 L1336.7,1124.7 L1336.7,1123.2 L1336.7,1121.7 L1336.8,1120.2 L1336.8,1118.6 L1336.8,1117.1 L1336.8,1115.6 L1336.9,1114.1 L1336.9,1112.6 L1336.9,1111.1 L1336.9,1109.6 L1337.0,1108.1 L1337.0,1106.6 L1337.0,1105.1 L1337.0,1103.6 L1337.1,1102.1 L1337.1,1100.6 L1337.1,1099.1 L1337.1,1097.5 L1337.2,1096.0 L1337.2,1094.5 L1337.2,1093.0 L1337.2,1091.5 L1337.2,1090.0 L1337.3,1088.5 L1337.3,1087.0 L1337.3,1085.5 L1337.3,1084.0 L1337.4,1082.5 L1337.4,1081.0 L1337.4,1079.5 L1337.4,1078.0 L1337.5,1076.4 L1337.5,1074.9 L1337.5,1073.4 L1337.5,1071.9 L1337.5,1070.4 L1337.6,1068.9 L1337.6,1067.4 L1337.6,1065.9 L1337.6,1064.4 L1337.7,1062.9 L1337.7,1061.4 L1337.7,1059.9 L1337.7,1058.4 L1337.7,1056.8 L1337.8,1055.3 L1337.8,1053.8 L1337.8,1052.3 L1337.8,1050.8 L1337.9,1049.3 L1337.9,1047.8 L1337.9,1046.3 L1337.9,1044.8 L1337.9,1043.3 L1338.0,1041.8 L1338.0,1040.3 L1338.0,1038.8 L1338.0,1037.3 L1338.0,1035.7 L1338.1,1034.2 L1338.1,1032.7 L1338.1,1031.2 L1338.1,1029.7 L1338.2,1028.2 L1338.2,1026.7 L1338.2,1025.2 L1338.2,1023.7 L1338.2,1022.2 L1338.3,1020.7 L1338.3,1019.2 L1338.3,1017.7 L1338.3,1016.1 L1338.3,1014.6 L1338.4,1013.1 L1338.4,1011.6 L1338.4,1010.1 L1338.4,1008.6 L1338.5,1007.1 L1338.5,1005.6 L1338.5,1004.1 L1338.5,1002.6 L1338.5,1001.1 L1338.6,999.6 L1338.6,998.1 L1338.6,996.6 L1338.6,995.0 L1338.6,993.5 L1338.7,992.0 L1338.7,990.5 L1338.7,989.0 L1338.7,987.5 L1338.8,986.0 L1338.8,984.5 L1338.8,983.0 L1338.8,981.5 L1338.8,980.0 L1338.9,978.5 L1338.9,977.0 L1338.9,975.4 L1338.9,973.9 L1339.0,972.4 L1339.0,970.9 L1339.0,969.4 L1339.0,967.9 L1339.0,966.4 L1339.1,964.9 L1339.1,963.4 L1339.1,961.9 L1339.1,960.4 L1339.2,958.9 L1339.2,957.4 L1339.2,955.8 L1339.2,954.3 L1339.3,952.8 L1339.3,951.3 L1339.3,949.8 L1339.3,948.3 L1339.4,946.8 L1339.4,945.3 L1339.4,943.8 L1339.4,942.3 L1339.4,940.8 L1339.5,939.3 L1339.5,937.8 L1339.5,936.3 L1339.5,934.7 L1339.6,933.2 L1339.6,931.7 L1339.6,930.2 L1339.6,928.7 L1339.7,927.2 L1339.7,925.7 L1339.7,924.2 L1339.7,922.7 L1339.8,921.2 L1339.8,919.7 L1339.8,918.2 L1339.9,916.7 L1339.9,915.1 L1339.9,913.6 L1339.9,912.1 L1340.0,910.6 L1340.0,909.1 L1340.0,907.6 L1340.0,906.1 L1340.1,904.6 L1340.1,903.1 L1340.1,901.6 L1340.2,900.1 L1340.2,898.6 L1340.2,897.1 L1340.2,895.6 L1340.3,894.0 L1340.3,892.5 L1340.3,891.0 L1340.4,889.5 L1340.4,888.0 L1340.4,886.5 L1340.4,885.0 L1340.5,883.5 L1340.5,882.0 L1340.5,880.5 L1340.6,879.0 L1340.6,877.5 L1340.6,876.0 L1340.7,874.4 L1340.7,872.9 L1340.7,871.4 L1340.8,869.9 L1340.8,868.4 L1340.8,866.9 L1340.9,865.4 L1340.9,863.9 L1340.9,862.4 L1341.0,860.9 L1341.0,859.4 L1341.0,857.9 L1341.1,856.4 L1341.1,854.9 L1341.1,853.3 L1341.2,851.8 L1341.2,850.3 L1341.2,848.8 L1341.3,847.3 L1341.3,845.8 L1341.3,844.3 L1341.4,842.8 L1341.4,841.3 L1341.4,839.8 L1341.5,838.3 L1341.5,836.8 L1341.6,835.3 L1341.6,833.8 L1341.6,832.2 L1341.7,830.7 L1341.7,829.2 L1341.7,827.7 L1341.8,826.2 L1341.8,824.7 L1341.9,823.2 L1341.9,821.7 L1341.9,820.2 L1342.0,818.7 L1342.0,817.2 L1342.1,815.7 L1342.1,814.2 L1342.1,812.7 L1342.2,811.2 L1342.2,809.6 L1342.3,808.1 L1342.3,806.6 L1342.4,805.1 L1342.4,803.6 L1342.4,802.1 L1342.5,800.6 L1342.5,799.1 L1342.6,797.6 L1342.6,796.1 L1342.7,794.6 L1342.7,793.1 L1342.7,791.6 L1342.8,790.1 L1342.8,788.6 L1342.9,787.0 L1342.9,785.5 L1343.0,784.0 L1343.0,782.5 L1343.1,781.0 L1343.1,779.5 L1343.2,778.0 L1343.2,776.5 L1343.3,775.0 L1343.3,773.5 L1343.4,772.0 L1343.4,770.5 L1343.5,769.0 L1343.5,767.5 L1343.6,766.0 L1343.6,764.4 L1343.7,762.9 L1343.7,761.4 L1343.8,759.9 L1343.8,758.4 L1343.9,756.9 L1343.9,755.4 L1344.0,753.9 L1344.0,752.4 L1344.1,750.9 L1344.2,749.4 L1344.2,747.9 L1344.3,746.4 L1344.3,744.9 L1344.4,743.4 L1344.4,741.9 L1344.5,740.3 L1344.6,738.8 L1344.6,737.3 L1344.7,735.8 L1344.7,734.3 L1344.8,732.8 L1344.8,731.3 L1344.9,729.8 L1345.0,728.3 L1345.0,726.8 L1345.1,725.3 L1345.2,723.8 L1345.2,722.3 L1345.3,720.8 L1345.3,719.3 L1345.4,717.8 L1345.5,716.3 L1345.5,714.7 L1345.6,713.2 L1345.7,711.7 L1345.7,710.2 L1345.8,708.7 L1345.9,707.2 L1345.9,705.7 L1346.0,704.2 L1346.1,702.7 L1346.1,701.2 L1346.2,699.7 L1346.3,698.2 L1346.3,696.7 L1346.4,695.2 L1346.5,693.7 L1346.5,692.2 L1346.6,690.7 L1346.7,689.2 L1346.8,687.6 L1346.8,686.1 L1346.9,684.6 L1347.0,683.1 L1347.1,681.6 L1347.1,680.1 L1347.2,678.6 L1347.3,677.1 L1347.4,675.6 L1347.4,674.1 L1347.5,672.6 L1347.6,671.1 L1347.7,669.6 L1347.7,668.1 L1347.8,666.6 L1347.9,665.1 L1348.0,663.6 L1348.1,662.1 L1348.1,660.6 L1348.2,659.0 L1348.3,657.5 L1348.4,656.0 L1348.5,654.5 L1348.5,653.0 L1348.6,651.5 L1348.7,650.0 L1348.8,648.5 L1348.9,647.0 L1349.0,645.5 L1349.1,644.0 L1349.1,642.5 L1349.2,641.0 L1349.3,639.5 L1349.4,638.0 L1349.5,636.5 L1349.6,635.0 L1349.7,633.5 L1349.8,632.0 L1349.9,630.5 L1349.9,629.0 L1350.0,627.4 L1350.1,625.9 L1350.2,624.4 L1350.3,622.9 L1350.4,621.4 L1350.5,619.9 L1350.6,618.4 L1350.7,616.9 L1350.8,615.4 L1350.9,613.9 L1351.0,612.4 L1351.1,610.9 L1351.2,609.4 L1351.3,607.9 L1351.4,606.4 L1351.5,604.9 L1351.6,603.4 L1351.7,601.9 L1351.8,600.4 L1351.9,598.9 L1352.0,597.4 L1352.1,595.9 L1352.2,594.4 L1352.3,592.9 L1352.4,591.3 L1352.5,589.8 L1352.6,588.3 L1352.7,586.8 L1352.8,585.3 L1352.9,583.8 L1353.1,582.3 L1353.2,580.8 L1353.3,579.3 L1353.4,577.8 L1353.5,576.3 L1353.6,574.8 L1353.7,573.3 L1353.8,571.8 L1353.9,570.3 L1354.1,568.8 L1354.2,567.3 L1354.3,565.8 L1354.4,564.3 L1354.5,562.8 L1354.6,561.3 L1354.8,559.8 L1354.9,558.3 L1355.0,556.8 L1355.1,555.3 L1355.2,553.8 L1355.4,552.3 L1355.5,550.8 L1355.6,549.3 L1355.7,547.8 L1355.9,546.2 L1356.0,544.7 L1356.1,543.2 L1356.2,541.7 L1356.4,540.2 L1356.5,538.7 L1356.6,537.2 L1356.8,535.7 L1356.9,534.2 L1357.0,532.7 L1357.2,531.2 L1357.3,529.7 L1357.4,528.2 L1357.6,526.7 L1357.7,525.2 L1357.8,523.7 L1358.0,522.2 L1358.1,520.7 L1358.2,519.2 L1358.4,517.7 L1358.5,516.2 L1358.7,514.7 L1358.8,513.2 L1359.0,511.7 L1359.1,510.2 L1359.2,508.7 L1359.4,507.2 L1359.5,505.7 L1359.7,504.2 L1359.8,502.7 L1360.0,501.2 L1360.1,499.7 L1360.3,498.2 L1360.4,496.7 L1360.6,495.2 L1360.7,493.7 L1360.9,492.2 L1361.1,490.7 L1361.2,489.2 L1361.4,487.7 L1361.5,486.2 L1361.7,484.7 L1361.9,483.2 L1362.0,481.7 L1362.2,480.2 L1362.4,478.7 L1362.5,477.2 L1362.7,475.7 L1362.9,474.2 L1363.0,472.7 L1363.2,471.2 L1363.4,469.7 L1363.5,468.2 L1363.7,466.7 L1363.9,465.2 L1364.1,463.8 L1364.2,462.3 L1364.4,460.8 L1364.6,459.3 L1364.8,457.8 L1365.0,456.3 L1365.1,454.8 L1365.3,453.3 L1365.5,451.8 L1365.7,450.3 L1365.9,448.8 L1366.1,447.3 L1366.3,445.8 L1366.5,444.3 L1366.6,442.8 L1366.8,441.3 L1367.0,439.8 L1367.2,438.3 L1367.4,436.8 L1367.6,435.3 L1367.8,433.9 L1368.0,432.4 L1368.2,430.9 L1368.4,429.4 L1368.6,427.9 L1368.8,426.4 L1369.0,424.9 L1369.3,423.4 L1369.5,421.9 L1369.7,420.4 L1369.9,418.9 L1370.1,417.4 L1370.3,416.0 L1370.5,414.5 L1370.8,413.0 L1371.0,411.5 L1371.2,410.0 L1371.4,408.5 L1371.6,407.0 L1371.9,405.5 L1372.1,404.0 L1372.3,402.5 L1372.5,401.1 L1372.8,399.6 L1373.0,398.1 L1373.2,396.6 L1373.5,395.1 L1373.7,393.6 L1373.9,392.1 L1374.2,390.6 L1374.4,389.2 L1374.7,387.7 L1374.9,386.2 L1375.2,384.7 L1375.4,383.2 L1375.6,381.7 L1375.9,380.2 L1376.1,378.8 L1376.4,377.3 L1376.7,375.8 L1376.9,374.3 L1377.2,372.8 L1377.4,371.3 L1377.7,369.9 L1377.9,368.4 L1378.2,366.9 L1378.5,365.4 L1378.7,363.9 L1379.0,362.4 L1379.3,361.0 L1379.5,359.5 L1379.8,358.0 L1380.1,356.5 L1380.4,355.0 L1380.6,353.6 L1380.9,352.1 L1381.2,350.6 L1381.5,349.1 L1381.8,347.6 L1382.1,346.2 L1382.3,344.7 L1382.6,343.2 L1382.9,341.7 L1383.2,340.2 L1383.5,338.8 L1383.8,337.3 L1384.1,335.8 L1384.4,334.3 L1384.7,332.9 L1385.0,331.4 L1385.3,329.9 L1385.6,328.4 L1385.9,327.0 L1386.2,325.5 L1386.5,324.0 L1386.9,322.5 L1387.2,321.1 L1387.5,319.6 L1387.8,318.1 L1388.1,316.6 L1388.4,315.2 L1388.8,313.7 L1389.1,312.2 L1389.4,310.8 L1389.7,309.3 L1390.1,307.8 L1390.4,306.3 L1390.7,304.9 L1391.1,303.4 L1391.4,301.9 L1391.8,300.5 L1392.1,299.0 L1392.4,297.5 L1392.8,296.1 L1393.1,294.6 L1393.5,293.1 L1393.8,291.7 L1394.2,290.2 L1394.6,288.7 L1394.9,287.3 L1395.3,285.8 L1395.6,284.3 L1396.0,282.9 L1396.4,281.4 L1396.7,279.9 L1397.1,278.5 L1397.5,277.0 L1397.8,275.5 L1398.2,274.1 L1398.6,272.6 L1399.0,271.2 L1399.4,269.7 L1399.7,268.2 L1400.1,266.8 L1400.5,265.3 L1400.9,263.9 L1401.3,262.4 L1401.7,261.0 L1402.1,259.5 L1402.5,258.1 L1402.9,256.6 L1403.4,255.2 L1403.8,253.7 L1404.2,252.3 L1404.6,250.8 L1405.1,249.4 L1405.5,247.9 L1405.9,246.5 L1406.4,245.0 L1406.8,243.6 L1407.3,242.2 L1407.7,240.7 L1408.2,239.3 L1408.7,237.9 L1409.2,236.4 L1409.6,235.0 L1410.1,233.6 L1410.6,232.2 L1411.1,230.8 L1411.6,229.3 L1412.1,227.9 L1412.7,226.5 L1413.2,225.1 L1413.7,223.7 L1414.2,222.3 L1414.8,220.9 L1415.3,219.5 L1415.9,218.1 L1416.5,216.7 L1417.0,215.3 L1417.6,213.9 L1418.2,212.5 L1418.8,211.2 L1419.4,209.8 L1420.0,208.4 L1420.6,207.0 L1421.2,205.7 L1421.9,204.3 L1422.5,202.9 L1423.1,201.6 L1423.8,200.2 L1424.5,198.9 L1425.1,197.5 L1425.8,196.2 L1426.5,194.8 L1427.2,193.5 L1427.9,192.2 L1428.6,190.8 L1429.4,189.5 L1430.1,188.2 L1430.8,186.9 L1431.6,185.6 L1432.4,184.2 L1433.1,182.9 L1433.9,181.6 L1434.7,180.4 L1435.5,179.1 L1436.3,177.8 L1437.2,176.5 L1438.0,175.2 L1438.8,174.0 L1439.7,172.7 L1440.6,171.5 L1441.4,170.2 L1442.3,169.0 L1443.2,167.8 L1444.1,166.6 L1445.0,165.4 L1446.0,164.2 L1446.9,163.0 L1447.8,161.8 L1448.8,160.6 L1449.8,159.5 L1450.7,158.3 L1451.7,157.2 L1452.7,156.1 L1453.8,155.0 L1454.8,153.9 L1455.8,152.8 L1456.8,151.7 L1457.9,150.7 L1459.0,149.6 L1460.0,148.6 L1461.1,147.6 L1462.2,146.6 L1463.3,145.6 L1464.5,144.7 L1465.6,143.7 L1466.7,142.8 L1467.9,141.9 L1469.1,141.0 L1470.2,140.1 L1471.4,139.2 L1472.6,138.4 L1473.8,137.5 L1475.0,136.7 L1476.3,135.9 L1477.5,135.1 L1478.8,134.4 L1480.0,133.6 L1481.3,132.9 L1482.6,132.2 L1483.9,131.6 L1485.2,130.9 L1486.6,130.3 L1487.9,129.7 L1489.3,129.1 L1490.6,128.5 L1492.0,128.0 L1493.4,127.4 L1494.8,126.9 L1496.2,126.5 L1497.6,126.0 L1499.0,125.5 L1500.4,125.1 L1501.9,124.7 L1503.3,124.3 L1504.8,123.9 L1506.3,123.6 L1507.7,123.2 L1509.2,122.9 L1510.7,122.5 L1512.2,122.2 L1513.7,121.9 L1515.2,121.6 L1516.7,121.3 L1518.2,121.1 L1519.7,120.8 L1521.3,120.5 L1522.8,120.3 L1524.3,120.0 L1525.8,119.8 L1527.4,119.5 L1528.9,119.3 L1530.4,119.1 L1532.0,118.8 L1533.5,118.6 L1535.0,118.4 L1536.6,118.1 L1538.1,117.9 L1539.6,117.7 L1541.2,117.5 L1542.7,117.2 L1544.2,117.0 L1545.8,116.7 L1547.3,116.5 L1548.8,116.2 L1550.3,116.0 L1551.8,115.7 L1553.3,115.4 L1554.8,115.1 L1556.3,114.9 L1557.8,114.6 L1559.3,114.2 L1560.8,113.9 L1562.3,113.6 L1563.7,113.2 L1565.2,112.9 L1566.6,112.5 L1568.1,112.1 L1569.5,111.7 L1570.9,111.3 L1572.3,110.9 L1573.8,110.4 L1575.2,110.0 L1576.6,109.6 L1578.0,109.2 L1579.4,108.7 L1580.8,108.3 L1582.2,107.9 L1583.6,107.5 L1585.0,107.1 L1586.4,106.7 L1587.9,106.4 L1589.3,106.0 L1590.7,105.7 L1592.1,105.3 L1593.6,105.1 L1595.0,104.8 L1596.5,104.5 L1598.0,104.3 L1599.4,104.1 L1600.9,103.9 L1602.4,103.8 L1603.9,103.7 L1605.4,103.5 L1606.9,103.5 L1608.4,103.4 L1609.9,103.3 L1611.4,103.3 L1612.9,103.2 L1614.5,103.2 L1616.0,103.2 L1617.5,103.2 L1619.1,103.3 L1620.6,103.3 L1622.1,103.4 L1623.7,103.4 L1625.2,103.5 L1626.8,103.5 L1628.3,103.6 L1629.8,103.7 L1631.4,103.8 L1632.9,103.9 L1634.5,104.0 L1636.0,104.0 L1637.5,104.1 L1639.1,104.2 L1640.6,104.3 L1642.1,104.4 L1643.6,104.5 L1645.1,104.6 L1646.7,104.7 L1648.2,104.7 L1649.7,104.8 L1651.2,104.9 L1652.7,104.9 L1654.1,104.9 L1655.6,105.0 L1657.1,105.0 L1658.5,105.0 L1660.0,105.0" stroke="#ff0000" stroke-width="7.8" stroke-linecap="round"/>
<path d="M144.0,96.0 L145.4,95.9 L146.9,95.9 L148.3,95.8 L149.8,95.7 L151.2,95.7 L152.7,95.6 L154.1,95.5 L155.6,95.4 L157.0,95.4 L158.5,95.3 L159.9,95.2 L161.4,95.2 L162.9,95.1 L164.3,95.0 L165.8,95.0 L167.2,94.9 L168.7,94.8 L170.1,94.8 L171.6,94.7 L173.0,94.7 L174.5,94.6 L175.9,94.6 L177.4,94.5 L178.8,94.5 L180.3,94.4 L181.7,94.4 L183.2,94.3 L184.6,94.3 L186.1,94.2 L187.5,94.2 L189.0,94.2 L190.4,94.1 L191.9,94.1 L193.4,94.1 L194.8,94.1 L196.3,94.1 L197.7,94.1 L199.2,94.0 L200.6,94.0 L202.1,94.0 L203.5,94.0 L205.0,94.0 L206.4,94.1 L207.9,94.1 L209.3,94.1 L210.8,94.1 L212.2,94.1 L213.7,94.2 L215.1,94.2 L216.6,94.2 L218.0,94.3 L219.5,94.3 L220.9,94.4 L222.4,94.4 L223.8,94.5 L225.3,94.5 L226.7,94.6 L228.2,94.6 L229.6,94.7 L231.1,94.8 L232.5,94.9 L234.0,94.9 L235.4,95.0 L236.9,95.1 L238.3,95.2 L239.8,95.3 L241.2,95.4 L242.7,95.5 L244.1,95.6 L245.6,95.7 L247.0,95.8 L248.5,95.9 L249.9,96.0 L251.4,96.1 L252.8,96.2 L254.2,96.4 L255.7,96.5 L257.1,96.6 L258.6,96.7 L260.0,96.9 L261.5,97.0 L262.9,97.2 L264.4,97.3 L265.8,97.4 L267.3,97.6 L268.7,97.7 L270.2,97.9 L271.6,98.0 L273.0,98.2 L274.5,98.4 L275.9,98.5 L277.4,98.7 L278.8,98.9 L280.3,99.0 L281.7,99.2 L283.2,99.4 L284.6,99.5 L286.0,99.7 L287.5,99.9 L288.9,100.0 L290.4,100.2 L291.8,100.4 L293.3,100.5 L294.7,100.7 L296.2,100.9 L297.6,101.0 L299.0,101.2 L300.5,101.3 L301.9,101.5 L303.4,101.6 L304.8,101.8 L306.3,101.9 L307.7,102.0 L309.2,102.2 L310.6,102.3 L312.1,102.4 L313.5,102.5 L315.0,102.6 L316.4,102.7 L317.8,102.8 L319.3,102.9 L320.7,103.0 L322.2,103.1 L323.6,103.2 L325.1,103.2 L326.5,103.3 L328.0,103.3 L329.4,103.4 L330.9,103.4 L332.3,103.5 L333.8,103.5 L335.2,103.5 L336.7,103.5 L338.1,103.6 L339.6,103.6 L341.0,103.6 L342.5,103.6 L343.9,103.6 L345.4,103.6 L346.8,103.6 L348.3,103.6 L349.8,103.6 L351.2,103.6 L352.7,103.6 L354.1,103.5 L355.6,103.5 L357.0,103.5 L358.5,103.5 L359.9,103.5 L361.4,103.4 L362.8,103.4 L364.3,103.4 L365.7,103.4 L367.2,103.3 L368.6,103.3 L370.1,103.3 L371.5,103.3 L373.0,103.2 L374.4,103.2 L375.9,103.2 L377.4,103.2 L378.8,103.2 L380.3,103.1 L381.7,103.1 L383.2,103.1 L384.6,103.1 L386.1,103.1 L387.5,103.0 L389.0,103.0 L390.4,103.0 L391.9,103.0 L393.3,103.0 L394.8,103.0 L396.2,103.0 L397.7,103.0 L399.1,102.9 L400.6,102.9 L402.0,102.9 L403.5,102.9 L404.9,102.9 L406.4,102.9 L407.8,102.9 L409.3,102.9 L410.8,102.9 L412.2,102.9 L413.7,102.9 L415.1,102.9 L416.6,102.9 L418.0,102.9 L419.5,102.9 L420.9,102.9 L422.4,102.9 L423.8,102.9 L425.3,102.9 L426.7,102.9 L428.2,102.9 L429.6,102.9 L431.1,102.9 L432.5,102.9 L434.0,102.9 L435.4,102.9 L436.9,102.9 L438.3,102.9 L439.8,102.9 L441.2,102.9 L442.7,102.9 L444.1,102.9 L445.6,103.0 L447.0,103.0 L448.5,103.0 L449.9,103.0 L451.4,103.0 L452.8,103.0 L454.3,103.0 L455.8,103.1 L457.2,103.1 L458.7,103.1 L460.1,103.1 L461.6,103.1 L463.0,103.2 L464.5,103.2 L465.9,103.2 L467.4,103.2 L468.8,103.3 L470.3,103.3 L471.7,103.3 L473.2,103.3 L474.6,103.4 L476.1,103.4 L477.5,103.4 L479.0,103.4 L480.4,103.5 L481.9,103.5 L483.3,103.5 L484.8,103.6 L486.2,103.6 L487.7,103.6 L489.1,103.7 L490.6,103.7 L492.0,103.7 L493.5,103.8 L494.9,103.8 L496.4,103.9 L497.8,103.9 L499.3,103.9 L500.7,104.0 L502.2,104.0 L503.6,104.1 L505.1,104.1 L506.5,104.2 L508.0,104.2 L509.4,104.2 L510.9,104.3 L512.3,104.3 L513.8,104.4 L515.2,104.4 L516.7,104.5 L518.2,104.5 L519.6,104.6 L521.1,104.6 L522.5,104.7 L524.0,104.8 L525.4,104.8 L526.9,104.9 L528.3,104.9 L529.8,105.0 L531.2,105.0 L532.7,105.1 L534.1,105.2 L535.6,105.2 L537.0,105.3 L538.5,105.3 L539.9,105.4 L541.4,105.5 L542.8,105.5 L544.3,105.6 L545.7,105.7 L547.2,105.7 L548.6,105.8 L550.1,105.9 L551.5,106.0 L553.0,106.0 L554.4,106.1 L555.9,106.2 L557.3,106.3 L558.8,106.3 L560.2,106.4 L561.7,106.5 L563.1,106.6 L564.6,106.7 L566.0,106.7 L567.5,106.8 L568.9,106.9 L570.4,107.0 L571.8,107.1 L573.3,107.2 L574.7,107.3 L576.2,107.3 L577.6,107.4 L579.1,107.5 L580.5,107.6 L582.0,107.7 L583.4,107.8 L584.9,107.9 L586.3,108.0 L587.8,108.1 L589.2,108.2 L590.7,108.3 L592.1,108.4 L593.6,108.5 L595.0,108.6 L596.5,108.7 L597.9,108.9 L599.4,109.0 L600.8,109.1 L602.3,109.2 L603.7,109.3 L605.2,109.4 L606.6,109.6 L608.1,109.7 L609.5,109.8 L611.0,109.9 L612.4,110.0 L613.9,110.2 L615.3,110.3 L616.7,110.4 L618.2,110.6 L619.6,110.7 L621.1,110.8 L622.5,111.0 L624.0,111.1 L625.4,111.3 L626.9,111.4 L628.3,111.5 L629.8,111.7 L631.2,111.8 L632.6,112.0 L634.1,112.1 L635.5,112.3 L637.0,112.4 L638.4,112.6 L639.9,112.8 L641.3,112.9 L642.7,113.1 L644.2,113.2 L645.6,113.4 L647.1,113.6 L648.5,113.8 L650.0,113.9 L651.4,114.1 L652.8,114.3 L654.3,114.5 L655.7,114.6 L657.2,114.8 L658.6,115.0 L660.0,115.2 L661.5,115.4 L662.9,115.6 L664.4,115.8 L665.8,116.0 L667.2,116.1 L668.7,116.3 L670.1,116.5 L671.5,116.8 L673.0,117.0 L674.4,117.2 L675.8,117.4 L677.3,117.6 L678.7,117.8 L680.1,118.0 L681.6,118.2 L683.0,118.5 L684.4,118.7 L685.9,118.9 L687.3,119.1 L688.7,119.4 L690.2,119.6 L691.6,119.8 L693.0,120.1 L694.5,120.3 L695.9,120.6 L697.3,120.8 L698.8,121.0 L700.2,121.3 L701.6,121.6 L703.0,121.8 L704.5,122.1 L705.9,122.3 L707.3,122.6 L708.8,122.9 L710.2,123.1 L711.6,123.4 L713.0,123.7 L714.5,123.9 L715.9,124.2 L717.3,124.5 L718.7,124.8 L720.2,125.1 L721.6,125.4 L723.0,125.6 L724.4,125.9 L725.8,126.2 L727.3,126.5 L728.7,126.8 L730.1,127.1 L731.5,127.5 L732.9,127.8 L734.4,128.1 L735.8,128.4 L737.2,128.7 L738.6,129.0 L740.0,129.4 L741.4,129.7 L742.9,130.0 L744.3,130.4 L745.7,130.7 L747.1,131.0 L748.5,131.4 L749.9,131.7 L751.3,132.1 L752.8,132.4 L754.2,132.8 L755.6,133.1 L757.0,133.5 L758.4,133.9 L759.8,134.2 L761.2,134.6 L762.6,135.0 L764.0,135.3 L765.4,135.7 L766.8,136.1 L768.2,136.5 L769.6,136.9 L771.1,137.3 L772.5,137.7 L773.9,138.1 L775.3,138.5 L776.7,138.9 L778.1,139.3 L779.5,139.7 L780.9,140.1 L782.3,140.5 L783.7,140.9 L785.1,141.4 L786.5,141.8 L787.9,142.2 L789.3,142.7 L790.6,143.1 L792.0,143.6 L793.4,144.0 L794.8,144.5 L796.2,144.9 L797.6,145.4 L799.0,145.8 L800.4,146.3 L801.7,146.8 L803.1,147.3 L804.5,147.8 L805.9,148.3 L807.2,148.8 L808.6,149.3 L810.0,149.8 L811.3,150.3 L812.7,150.8 L814.0,151.4 L815.4,151.9 L816.7,152.5 L818.1,153.0 L819.4,153.6 L820.7,154.2 L822.1,154.7 L823.4,155.3 L824.7,155.9 L826.0,156.5 L827.3,157.1 L828.6,157.8 L829.9,158.4 L831.2,159.0 L832.5,159.7 L833.8,160.3 L835.1,161.0 L836.3,161.7 L837.6,162.4 L838.9,163.1 L840.1,163.8 L841.4,164.5 L842.6,165.2 L843.9,166.0 L845.1,166.7 L846.3,167.5 L847.5,168.2 L848.7,169.0 L849.9,169.8 L851.1,170.6 L852.3,171.5 L853.5,172.3 L854.6,173.1 L855.8,174.0 L857.0,174.9 L858.1,175.7 L859.2,176.6 L860.4,177.5 L861.5,178.5 L862.6,179.4 L863.7,180.3 L864.8,181.3 L865.9,182.2 L866.9,183.2 L868.0,184.2 L869.1,185.2 L870.1,186.2 L871.1,187.2 L872.2,188.2 L873.2,189.3 L874.2,190.3 L875.2,191.3 L876.2,192.4 L877.1,193.5 L878.1,194.6 L879.0,195.7 L880.0,196.8 L880.9,197.9 L881.8,199.0 L882.7,200.1 L883.6,201.3 L884.5,202.4 L885.4,203.6 L886.3,204.7 L887.2,205.9 L888.0,207.1 L888.9,208.2 L889.7,209.4 L890.5,210.6 L891.4,211.8 L892.2,213.0 L893.0,214.2 L893.8,215.4 L894.6,216.6 L895.5,217.8 L896.3,219.1 L897.1,220.3 L897.9,221.5 L898.7,222.7 L899.4,223.9 L900.2,225.2 L901.0,226.4 L901.8,227.6 L902.6,228.8 L903.4,230.1 L904.2,231.3 L905.0,232.5 L905.8,233.7 L906.5,235.0 L907.3,236.2 L908.1,237.4 L908.9,238.6 L909.6,239.9 L910.4,241.1 L911.2,242.3 L912.0,243.6 L912.7,244.8 L913.5,246.0 L914.2,247.3 L915.0,248.5 L915.8,249.7 L916.5,251.0 L917.3,252.2 L918.0,253.5 L918.7,254.7 L919.5,256.0 L920.2,257.2 L921.0,258.5 L921.7,259.7 L922.4,261.0 L923.1,262.2 L923.8,263.5 L924.5,264.7 L925.3,266.0 L926.0,267.3 L926.7,268.5 L927.3,269.8 L928.0,271.1 L928.7,272.4 L929.4,273.6 L930.1,274.9 L930.7,276.2 L931.4,277.5 L932.0,278.8 L932.7,280.1 L933.3,281.3 L934.0,282.6 L934.6,283.9 L935.2,285.2 L935.9,286.6 L936.5,287.9 L937.1,289.2 L937.7,290.5 L938.3,291.8 L938.8,293.1 L939.4,294.5 L940.0,295.8 L940.6,297.1 L941.1,298.5 L941.7,299.8 L942.2,301.1 L942.8,302.5 L943.3,303.8 L943.9,305.2 L944.4,306.5 L944.9,307.9 L945.5,309.2 L946.0,310.6 L946.5,311.9 L947.0,313.3 L947.5,314.7 L948.0,316.0 L948.5,317.4 L949.0,318.8 L949.4,320.1 L949.9,321.5 L950.4,322.9 L950.9,324.3 L951.3,325.6 L951.8,327.0 L952.3,328.4 L952.7,329.8 L953.2,331.2 L953.6,332.6 L954.1,333.9 L954.5,335.3 L954.9,336.7 L955.4,338.1 L955.8,339.5 L956.2,340.9 L956.7,342.3 L957.1,343.7 L957.5,345.1 L957.9,346.5 L958.3,347.9 L958.7,349.3 L959.2,350.7 L959.6,352.0 L960.0,353.4 L960.4,354.8 L960.8,356.2 L961.2,357.6 L961.6,359.0 L962.0,360.4 L962.3,361.8 L962.7,363.2 L963.1,364.6 L963.5,366.0 L963.9,367.4 L964.3,368.8 L964.6,370.2 L965.0,371.6 L965.4,373.0 L965.8,374.5 L966.1,375.9 L966.5,377.3 L966.9,378.7 L967.2,380.1 L967.6,381.5 L968.0,382.9 L968.3,384.3 L968.7,385.7 L969.0,387.1 L969.4,388.5 L969.7,389.9 L970.1,391.3 L970.4,392.7 L970.8,394.1 L971.1,395.5 L971.5,396.9 L971.8,398.4 L972.1,399.8 L972.5,401.2 L972.8,402.6 L973.1,404.0 L973.5,405.4 L973.8,406.8 L974.1,408.2 L974.5,409.6 L974.8,411.1 L975.1,412.5 L975.4,413.9 L975.8,415.3 L976.1,416.7 L976.4,418.1 L976.7,419.5 L977.0,420.9 L977.3,422.4 L977.6,423.8 L977.9,425.2 L978.3,426.6 L978.6,428.0 L978.9,429.4 L979.2,430.9 L979.5,432.3 L979.8,433.7 L980.1,435.1 L980.4,436.5 L980.7,438.0 L981.0,439.4 L981.3,440.8 L981.6,442.2 L981.9,443.6 L982.1,445.1 L982.4,446.5 L982.7,447.9 L983.0,449.3 L983.3,450.7 L983.6,452.2 L983.9,453.6 L984.1,455.0 L984.4,456.4 L984.7,457.9 L985.0,459.3 L985.3,460.7 L985.5,462.1 L985.8,463.6 L986.1,465.0 L986.4,466.4 L986.6,467.8 L986.9,469.3 L987.2,470.7 L987.5,472.1 L987.7,473.5 L988.0,475.0 L988.3,476.4 L988.5,477.8 L988.8,479.3 L989.1,480.7 L989.3,482.1 L989.6,483.5 L989.9,485.0 L990.1,486.4 L990.4,487.8 L990.6,489.3 L990.9,490.7 L991.2,492.1 L991.4,493.6 L991.7,495.0 L991.9,496.4 L992.2,497.9 L992.4,499.3 L992.7,500.7 L993.0,502.2 L993.2,503.6 L993.5,505.0 L993.7,506.5 L994.0,507.9 L994.2,509.4 L994.5,510.8 L994.7,512.2 L995.0,513.7 L995.2,515.1 L995.5,516.5 L995.8,518.0 L996.0,519.4 L996.3,520.8 L996.5,522.3 L996.8,523.7 L997.1,525.1 L997.3,526.6 L997.6,528.0 L997.9,529.4 L998.1,530.9 L998.4,532.3 L998.7,533.7 L999.0,535.2 L999.3,536.6 L999.5,538.0 L999.8,539.4 L1000.1,540.9 L1000.4,542.3 L1000.7,543.7 L1001.0,545.1 L1001.3,546.6 L1001.6,548.0 L1001.9,549.4 L1002.3,550.8 L1002.6,552.2 L1002.9,553.6 L1003.2,555.1 L1003.6,556.5 L1003.9,557.9 L1004.2,559.3 L1004.6,560.7 L1005.0,562.1 L1005.3,563.5 L1005.7,564.9 L1006.0,566.3 L1006.4,567.7 L1006.8,569.1 L1007.2,570.5 L1007.6,571.9 L1008.0,573.3 L1008.4,574.7 L1008.8,576.0 L1009.2,577.4 L1009.6,578.8 L1010.1,580.2 L1010.5,581.6 L1011.0,582.9 L1011.4,584.3 L1011.9,585.7 L1012.4,587.0 L1012.8,588.4 L1013.3,589.8 L1013.8,591.1 L1014.3,592.5 L1014.8,593.8 L1015.3,595.2 L1015.9,596.5 L1016.4,597.9 L1016.9,599.2 L1017.5,600.5 L1018.1,601.9 L1018.6,603.2 L1019.2,604.5 L1019.8,605.9 L1020.4,607.2 L1021.0,608.5 L1021.0,608.5 L1021.5,607.7 L1022.0,606.8 L1022.5,605.9 L1023.0,605.1 L1023.5,604.2 L1024.0,603.4 L1024.5,602.5 L1024.9,601.6 L1025.4,600.8 L1025.8,599.9 L1026.3,599.0 L1026.7,598.1 L1027.2,597.2 L1027.6,596.3 L1028.0,595.4 L1028.4,594.6 L1028.8,593.7 L1029.2,592.8 L1029.6,591.9 L1030.0,591.0 L1030.4,590.0 L1030.8,589.1 L1031.1,588.2 L1031.5,587.3 L1031.9,586.4 L1032.2,585.5 L1032.6,584.6 L1032.9,583.6 L1033.3,582.7 L1033.6,581.8 L1033.9,580.9 L1034.3,579.9 L1034.6,579.0 L1034.9,578.1 L1035.2,577.1 L1035.5,576.2 L1035.9,575.2 L1036.2,574.3 L1036.5,573.4 L1036.8,572.4 L1037.0,571.5 L1037.3,570.5 L1037.6,569.6 L1037.9,568.6 L1038.2,567.7 L1038.5,566.7 L1038.7,565.8 L1039.0,564.8 L1039.3,563.9 L1039.5,562.9 L1039.8,561.9 L1040.1,561.0 L1040.3,560.0 L1040.6,559.1 L1040.8,558.1 L1041.1,557.1 L1041.3,556.2 L1041.6,555.2 L1041.8,554.2 L1042.1,553.3 L1042.3,552.3 L1042.5,551.3 L1042.8,550.4 L1043.0,549.4 L1043.3,548.4 L1043.5,547.5 L1043.7,546.5 L1044.0,545.5 L1044.2,544.6 L1044.4,543.6 L1044.7,542.6 L1044.9,541.7 L1045.1,540.7 L1045.4,539.7 L1045.6,538.8 L1045.8,537.8 L1046.0,536.8 L1046.3,535.9 L1046.5,534.9 L1046.7,533.9 L1046.9,533.0 L1047.2,532.0 L1047.4,531.0 L1047.6,530.0 L1047.8,529.1 L1048.1,528.1 L1048.3,527.1 L1048.5,526.2 L1048.7,525.2 L1048.9,524.2 L1049.2,523.2 L1049.4,522.3 L1049.6,521.3 L1049.8,520.3 L1050.0,519.4 L1050.3,518.4 L1050.5,517.4 L1050.7,516.4 L1050.9,515.5 L1051.1,514.5 L1051.3,513.5 L1051.6,512.6 L1051.8,511.6 L1052.0,510.6 L1052.2,509.6 L1052.4,508.7 L1052.6,507.7 L1052.9,506.7 L1053.1,505.8 L1053.3,504.8 L1053.5,503.8 L1053.7,502.8 L1053.9,501.9 L1054.2,500.9 L1054.4,499.9 L1054.6,499.0 L1054.8,498.0 L1055.0,497.0 L1055.2,496.0 L1055.5,495.1 L1055.7,494.1 L1055.9,493.1 L1056.1,492.2 L1056.3,491.2 L1056.6,490.2 L1056.8,489.2 L1057.0,488.3 L1057.2,487.3 L1057.5,486.3 L1057.7,485.4 L1057.9,484.4 L1058.1,483.4 L1058.4,482.5 L1058.6,481.5 L1058.8,480.5 L1059.0,479.6 L1059.3,478.6 L1059.5,477.6 L1059.7,476.6 L1060.0,475.7 L1060.2,474.7 L1060.4,473.7 L1060.7,472.8 L1060.9,471.8 L1061.1,470.8 L1061.4,469.9 L1061.6,468.9 L1061.8,468.0 L1062.1,467.0 L1062.3,466.0 L1062.6,465.1 L1062.8,464.1 L1063.0,463.1 L1063.3,462.2 L1063.5,461.2 L1063.8,460.2 L1064.0,459.3 L1064.3,458.3 L1064.5,457.4 L1064.8,456.4 L1065.0,455.4 L1065.3,454.5 L1065.6,453.5 L1065.8,452.6 L1066.1,451.6 L1066.3,450.6 L1066.6,449.7 L1066.9,448.7 L1067.1,447.8 L1067.4,446.8 L1067.7,445.8 L1067.9,444.9 L1068.2,443.9 L1068.5,443.0 L1068.8,442.0 L1069.0,441.1 L1069.3,440.1 L1069.6,439.2 L1069.9,438.2 L1070.2,437.3 L1070.5,436.3 L1070.7,435.3 L1071.0,434.4 L1071.3,433.4 L1071.6,432.5 L1071.9,431.5 L1072.2,430.6 L1072.5,429.7 L1072.8,428.7 L1073.1,427.8 L1073.4,426.8 L1073.7,425.9 L1074.0,424.9 L1074.4,424.0 L1074.7,423.0 L1075.0,422.1 L1075.3,421.1 L1075.6,420.2 L1076.0,419.3 L1076.3,418.3 L1076.6,417.4 L1077.0,416.4 L1077.3,415.5 L1077.6,414.6 L1078.0,413.6 L1078.3,412.7 L1078.6,411.8 L1079.0,410.8 L1079.3,409.9 L1079.7,409.0 L1080.1,408.0 L1080.4,407.1 L1080.8,406.2 L1081.1,405.3 L1081.5,404.3 L1081.9,403.4 L1082.2,402.5 L1082.6,401.6 L1083.0,400.6 L1083.4,399.7 L1083.7,398.8 L1084.1,397.9 L1084.5,397.0 L1084.9,396.1 L1085.3,395.2 L1085.7,394.2 L1086.1,393.3 L1086.5,392.4 L1086.9,391.5 L1087.3,390.6 L1087.7,389.7 L1088.2,388.8 L1088.6,387.9 L1089.0,387.0 L1089.4,386.1 L1089.9,385.2 L1090.3,384.3 L1090.7,383.4 L1091.2,382.6 L1091.6,381.7 L1092.0,380.8 L1092.5,379.9 L1092.9,379.0 L1093.4,378.1 L1093.9,377.3 L1094.3,376.4 L1094.8,375.5 L1095.3,374.6 L1095.7,373.8 L1096.2,372.9 L1096.7,372.0 L1097.2,371.2 L1097.7,370.3 L1098.2,369.5 L1098.7,368.6 L1099.2,367.8 L1099.7,366.9 L1100.2,366.0 L1100.7,365.2 L1101.2,364.4 L1101.7,363.5 L1102.2,362.7 L1102.8,361.8 L1103.3,361.0 L1103.8,360.2 L1104.4,359.3 L1104.9,358.5 L1105.5,357.7 L1106.0,356.9 L1106.6,356.0 L1107.1,355.2 L1107.7,354.4 L1108.3,353.6 L1108.8,352.8 L1109.4,352.0 L1110.0,351.2 L1110.6,350.4 L1111.2,349.6 L1111.8,348.8 L1112.4,348.0 L1113.0,347.2 L1113.6,346.4 L1114.2,345.6 L1114.8,344.9 L1115.4,344.1 L1116.1,343.3 L1116.7,342.5 L1117.3,341.8 L1118.0,341.0 L1118.6,340.2 L1119.3,339.5 L1119.9,338.7 L1120.6,338.0 L1121.2,337.2 L1121.9,336.5 L1122.6,335.7 L1123.3,335.0 L1124.0,334.3 L1124.6,333.5 L1125.3,332.8 L1126.0,332.1 L1126.7,331.4 L1127.4,330.6 L1128.1,329.9 L1128.9,329.2 L1129.6,328.5 L1130.3,327.8 L1131.0,327.1 L1131.8,326.4 L1132.5,325.7 L1133.2,325.0 L1134.0,324.4 L1134.7,323.7 L1135.5,323.0 L1136.3,322.3 L1137.0,321.7 L1137.8,321.0 L1138.6,320.4 L1139.3,319.7 L1140.1,319.1 L1140.9,318.4 L1141.7,317.8 L1142.5,317.2 L1143.3,316.5 L1144.1,315.9 L1144.9,315.3 L1145.7,314.7 L1146.5,314.1 L1147.3,313.5 L1148.1,312.9 L1148.9,312.3 L1149.8,311.7 L1150.6,311.2 L1151.4,310.6 L1152.2,310.0 L1153.1,309.5 L1153.9,308.9 L1154.8,308.4 L1155.6,307.8 L1156.5,307.3 L1157.3,306.7 L1158.2,306.2 L1159.0,305.7 L1159.9,305.2 L1160.8,304.7 L1161.6,304.2 L1162.5,303.7 L1163.4,303.2 L1164.3,302.7 L1165.1,302.3 L1166.0,301.8 L1166.9,301.3 L1167.8,300.9 L1168.7,300.4 L1169.6,300.0 L1170.5,299.6 L1171.4,299.1 L1172.3,298.7 L1173.2,298.3 L1174.1,297.9 L1175.0,297.5 L1176.0,297.1 L1176.9,296.7 L1177.8,296.4 L1178.7,296.0 L1179.6,295.7 L1180.6,295.3 L1181.5,295.0 L1182.4,294.6 L1183.4,294.3 L1184.3,294.0 L1185.2,293.7 L1186.2,293.4 L1187.1,293.1 L1188.1,292.8 L1189.0,292.5 L1190.0,292.2 L1190.9,292.0 L1191.9,291.7 L1192.8,291.5 L1193.8,291.2 L1194.7,291.0 L1195.7,290.8 L1196.7,290.6 L1197.6,290.4 L1198.6,290.2 L1199.6,290.0 L1200.5,289.8 L1201.5,289.7 L1202.5,289.5 L1203.4,289.4 L1204.4,289.2 L1205.4,289.1 L1206.4,289.0 L1207.4,288.9 L1208.3,288.8 L1209.3,288.7 L1210.3,288.6 L1211.3,288.5 L1212.3,288.4 L1213.2,288.4 L1214.2,288.3 L1215.2,288.3 L1216.2,288.3 L1217.2,288.2 L1218.2,288.2 L1219.2,288.2 L1220.2,288.2 L1221.1,288.2 L1222.1,288.3 L1223.1,288.3 L1224.1,288.3 L1225.1,288.4 L1226.1,288.5 L1227.0,288.5 L1228.0,288.6 L1229.0,288.7 L1230.0,288.8 L1231.0,288.9 L1232.0,289.0 L1232.9,289.1 L1233.9,289.3 L1234.9,289.4 L1235.9,289.5 L1236.8,289.7 L1237.8,289.9 L1238.8,290.0 L1239.7,290.2 L1240.7,290.4 L1241.7,290.6 L1242.6,290.8 L1243.6,291.0 L1244.6,291.3 L1245.5,291.5 L1246.5,291.8 L1247.4,292.0 L1248.4,292.3 L1249.3,292.5 L1250.2,292.8 L1251.2,293.1 L1252.1,293.4 L1253.1,293.7 L1254.0,294.0 L1254.9,294.3 L1255.8,294.7 L1256.8,295.0 L1257.7,295.4 L1258.6,295.7 L1259.5,296.1 L1260.4,296.5 L1261.3,296.9 L1262.2,297.2 L1263.1,297.6 L1264.0,298.1 L1264.9,298.5 L1265.8,298.9 L1266.7,299.3 L1267.5,299.8 L1268.4,300.2 L1269.3,300.7 L1270.1,301.2 L1271.0,301.6 L1271.8,302.1 L1272.7,302.6 L1273.5,303.1 L1274.3,303.6 L1275.2,304.2 L1276.0,304.7 L1276.8,305.2 L1277.6,305.8 L1278.4,306.3 L1279.3,306.9 L1280.1,307.5 L1280.9,308.0 L1281.6,308.6 L1282.4,309.2 L1283.2,309.8 L1284.0,310.4 L1284.8,311.0 L1285.5,311.6 L1286.3,312.3 L1287.1,312.9 L1287.8,313.5 L1288.6,314.2 L1289.3,314.8 L1290.1,315.5 L1290.8,316.1 L1291.6,316.8 L1292.3,317.5 L1293.1,318.1 L1293.8,318.8 L1294.5,319.5 L1295.2,320.2 L1296.0,320.9 L1296.7,321.6 L1297.4,322.3 L1298.1,323.0 L1298.8,323.7 L1299.6,324.4 L1300.3,325.1 L1301.0,325.9 L1301.7,326.6 L1302.4,327.3 L1303.1,328.0 L1303.8,328.8 L1304.5,329.5 L1305.2,330.2 L1305.9,331.0 L1306.6,331.7 L1307.3,332.5 L1307.9,333.2 L1308.6,334.0 L1309.3,334.7 L1310.0,335.5 L1310.7,336.2 L1311.4,337.0 L1312.1,337.7 L1312.7,338.5 L1313.4,339.2 L1314.1,340.0 L1314.8,340.7 L1315.5,341.5 L1316.2,342.2 L1316.8,343.0 L1317.5,343.8 L1318.2,344.5 L1318.9,345.3 L1319.6,346.0 L1320.2,346.8 L1320.9,347.5 L1321.6,348.3 L1322.3,349.0 L1323.0,349.8 L1323.6,350.5 L1324.3,351.3 L1325.0,352.0 L1325.7,352.8 L1326.4,353.5 L1327.1,354.2 L1327.8,355.0 L1328.5,355.7 L1329.1,356.4 L1329.8,357.2 L1330.5,357.9 L1331.2,358.6 L1331.9,359.3 L1332.6,360.1 L1333.3,360.8 L1334.0,361.5 L1334.7,362.2 L1335.4,362.9 L1336.2,363.6 L1336.9,364.3 L1337.6,364.9 L1338.3,365.6 L1339.0,366.3 L1339.7,367.0 L1340.5,367.6 L1341.2,368.3 L1341.9,369.0 L1342.7,369.6 L1343.4,370.3 L1344.1,370.9 L1344.9,371.5 L1345.6,372.2 L1346.4,372.8 L1347.1,373.4 L1347.9,374.0 L1348.6,374.6 L1349.4,375.2 L1350.2,375.8 L1350.9,376.4 L1351.7,376.9 L1352.5,377.5 L1352.5,377.5 L1353.4,377.2 L1354.2,376.9 L1355.1,376.5 L1355.9,376.2 L1356.7,375.8 L1357.6,375.5 L1358.4,375.1 L1359.2,374.7 L1359.9,374.3 L1360.7,373.9 L1361.5,373.5 L1362.2,373.1 L1362.9,372.6 L1363.7,372.2 L1364.4,371.7 L1365.1,371.3 L1365.8,370.8 L1366.5,370.3 L1367.2,369.8 L1367.8,369.3 L1368.5,368.8 L1369.1,368.3 L1369.8,367.7 L1370.4,367.2 L1371.0,366.6 L1371.6,366.1 L1372.3,365.5 L1372.8,364.9 L1373.4,364.4 L1374.0,363.8 L1374.6,363.2 L1375.2,362.6 L1375.7,361.9 L1376.3,361.3 L1376.8,360.7 L1377.3,360.1 L1377.9,359.4 L1378.4,358.8 L1378.9,358.1 L1379.4,357.5 L1379.9,356.8 L1380.4,356.1 L1380.9,355.4 L1381.3,354.8 L1381.8,354.1 L1382.3,353.4 L1382.7,352.7 L1383.2,352.0 L1383.6,351.2 L1384.1,350.5 L1384.5,349.8 L1385.0,349.1 L1385.4,348.3 L1385.8,347.6 L1386.2,346.9 L1386.6,346.1 L1387.0,345.4 L1387.5,344.6 L1387.9,343.8 L1388.2,343.1 L1388.6,342.3 L1389.0,341.5 L1389.4,340.8 L1389.8,340.0 L1390.2,339.2 L1390.5,338.4 L1390.9,337.6 L1391.3,336.8 L1391.6,336.0 L1392.0,335.2 L1392.3,334.4 L1392.7,333.6 L1393.1,332.8 L1393.4,332.0 L1393.7,331.2 L1394.1,330.4 L1394.4,329.6 L1394.8,328.8 L1395.1,328.0 L1395.5,327.2 L1395.8,326.3 L1396.1,325.5 L1396.5,324.7 L1396.8,323.9 L1397.1,323.1 L1397.5,322.2 L1397.8,321.4 L1398.1,320.6 L1398.4,319.8 L1398.8,319.0 L1399.1,318.1 L1399.4,317.3 L1399.8,316.5 L1400.1,315.7 L1400.4,314.9 L1400.7,314.0 L1401.1,313.2 L1401.4,312.4 L1401.7,311.6 L1402.1,310.8 L1402.4,310.0 L1402.7,309.1 L1403.1,308.3 L1403.4,307.5 L1403.8,306.7 L1404.1,305.9 L1404.4,305.1 L1404.8,304.3 L1405.1,303.5 L1405.5,302.7 L1405.8,301.9 L1406.1,301.1 L1406.5,300.3 L1406.8,299.5 L1407.2,298.7 L1407.5,297.9 L1407.9,297.1 L1408.2,296.3 L1408.6,295.5 L1408.9,294.7 L1409.2,293.9 L1409.6,293.1 L1409.9,292.3 L1410.3,291.5 L1410.6,290.7 L1411.0,289.9 L1411.3,289.1 L1411.7,288.3 L1412.0,287.5 L1412.4,286.7 L1412.8,285.9 L1413.1,285.2 L1413.5,284.4 L1413.8,283.6 L1414.2,282.8 L1414.5,282.0 L1414.9,281.2 L1415.2,280.4 L1415.6,279.6 L1415.9,278.9 L1416.3,278.1 L1416.6,277.3 L1417.0,276.5 L1417.4,275.7 L1417.7,274.9 L1418.1,274.2 L1418.4,273.4 L1418.8,272.6 L1419.1,271.8 L1419.5,271.0 L1419.9,270.3 L1420.2,269.5 L1420.6,268.7 L1420.9,267.9 L1421.3,267.2 L1421.6,266.4 L1422.0,265.6 L1422.3,264.8 L1422.7,264.0 L1423.1,263.3 L1423.4,262.5 L1423.8,261.7 L1424.1,260.9 L1424.5,260.2 L1424.8,259.4 L1425.2,258.6 L1425.5,257.8 L1425.9,257.1 L1426.3,256.3 L1426.6,255.5 L1427.0,254.7 L1427.3,253.9 L1427.7,253.2 L1428.0,252.4 L1428.4,251.6 L1428.7,250.8 L1429.1,250.1 L1429.4,249.3 L1429.8,248.5 L1430.1,247.7 L1430.5,247.0 L1430.8,246.2 L1431.2,245.4 L1431.6,244.6 L1431.9,243.9 L1432.3,243.1 L1432.6,242.3 L1433.0,241.5 L1433.3,240.8 L1433.7,240.0 L1434.0,239.2 L1434.4,238.4 L1434.7,237.7 L1435.1,236.9 L1435.5,236.1 L1435.8,235.3 L1436.2,234.6 L1436.5,233.8 L1436.9,233.0 L1437.3,232.2 L1437.6,231.5 L1438.0,230.7 L1438.3,229.9 L1438.7,229.1 L1439.1,228.4 L1439.4,227.6 L1439.8,226.8 L1440.2,226.1 L1440.5,225.3 L1440.9,224.5 L1441.3,223.7 L1441.6,223.0 L1442.0,222.2 L1442.4,221.4 L1442.8,220.6 L1443.1,219.9 L1443.5,219.1 L1443.9,218.3 L1444.3,217.6 L1444.7,216.8 L1445.1,216.0 L1445.4,215.2 L1445.8,214.5 L1446.2,213.7 L1446.6,212.9 L1447.0,212.2 L1447.4,211.4 L1447.8,210.6 L1448.2,209.8 L1448.6,209.1 L1449.0,208.3 L1449.4,207.5 L1449.8,206.8 L1450.2,206.0 L1450.6,205.2 L1451.0,204.4 L1451.4,203.7 L1451.8,202.9 L1452.3,202.1 L1452.7,201.4 L1453.1,200.6 L1453.5,199.8 L1453.9,199.1 L1454.4,198.3 L1454.8,197.5 L1455.2,196.8 L1455.7,196.0 L1456.1,195.2 L1456.5,194.5 L1457.0,193.7 L1457.4,192.9 L1457.9,192.2 L1458.3,191.4 L1458.8,190.7 L1459.2,189.9 L1459.7,189.1 L1460.1,188.4 L1460.6,187.6 L1461.0,186.9 L1461.5,186.1 L1462.0,185.4 L1462.4,184.6 L1462.9,183.9 L1463.4,183.1 L1463.8,182.4 L1464.3,181.6 L1464.8,180.9 L1465.3,180.1 L1465.7,179.4 L1466.2,178.7 L1466.7,177.9 L1467.2,177.2 L1467.7,176.5 L1468.2,175.7 L1468.7,175.0 L1469.2,174.3 L1469.7,173.5 L1470.2,172.8 L1470.7,172.1 L1471.2,171.4 L1471.7,170.7 L1472.2,169.9 L1472.7,169.2 L1473.3,168.5 L1473.8,167.8 L1474.3,167.1 L1474.8,166.4 L1475.4,165.7 L1475.9,165.0 L1476.4,164.3 L1477.0,163.6 L1477.5,162.9 L1478.0,162.2 L1478.6,161.5 L1479.1,160.8 L1479.7,160.2 L1480.2,159.5 L1480.8,158.8 L1481.3,158.1 L1481.9,157.5 L1482.4,156.8 L1483.0,156.1 L1483.6,155.5 L1484.1,154.8 L1484.7,154.2 L1485.3,153.5 L1485.9,152.9 L1486.4,152.2 L1487.0,151.6 L1487.6,151.0 L1488.2,150.3 L1488.8,149.7 L1489.4,149.1 L1490.0,148.4 L1490.6,147.8 L1491.2,147.2 L1491.8,146.6 L1492.4,146.0 L1493.0,145.4 L1493.6,144.8 L1494.2,144.2 L1494.9,143.6 L1495.5,143.0 L1496.1,142.4 L1496.7,141.8 L1497.4,141.3 L1498.0,140.7 L1498.6,140.1 L1499.3,139.6 L1499.9,139.0 L1500.5,138.4 L1501.2,137.9 L1501.8,137.3 L1502.5,136.8 L1503.1,136.3 L1503.8,135.7 L1504.5,135.2 L1505.1,134.7 L1505.8,134.2 L1506.5,133.6 L1507.1,133.1 L1507.8,132.6 L1508.5,132.1 L1509.2,131.6 L1509.9,131.1 L1510.6,130.7 L1511.2,130.2 L1511.9,129.7 L1512.6,129.2 L1513.3,128.8 L1514.0,128.3 L1514.7,127.9 L1515.5,127.4 L1516.2,127.0 L1516.9,126.5 L1517.6,126.1 L1518.3,125.7 L1519.1,125.3 L1519.8,124.8 L1520.5,124.4 L1521.2,124.0 L1522.0,123.6 L1522.7,123.2 L1523.5,122.8 L1524.2,122.5 L1525.0,122.1 L1525.7,121.7 L1526.5,121.4 L1527.2,121.0 L1528.0,120.6 L1528.8,120.3 L1529.5,120.0 L1530.3,119.6 L1531.1,119.3 L1531.9,119.0 L1532.7,118.7 L1533.4,118.4 L1534.2,118.1 L1535.0,117.8 L1535.8,117.5 L1536.6,117.2 L1537.4,116.9 L1538.2,116.7 L1539.0,116.4 L1539.9,116.1 L1540.7,115.9 L1541.5,115.6 L1542.3,115.4 L1543.1,115.2 L1544.0,115.0 L1544.8,114.7 L1545.6,114.5 L1546.5,114.3 L1547.3,114.1 L1548.2,113.9 L1549.0,113.7 L1549.8,113.5 L1550.7,113.4 L1551.5,113.2 L1552.4,113.0 L1553.3,112.9 L1554.1,112.7 L1555.0,112.5 L1555.8,112.4 L1556.7,112.3 L1557.6,112.1 L1558.4,112.0 L1559.3,111.8 L1560.2,111.7 L1561.0,111.6 L1561.9,111.5 L1562.8,111.4 L1563.7,111.3 L1564.5,111.2 L1565.4,111.1 L1566.3,111.0 L1567.2,110.9 L1568.1,110.8 L1568.9,110.7 L1569.8,110.6 L1570.7,110.5 L1571.6,110.4 L1572.5,110.4 L1573.4,110.3 L1574.3,110.2 L1575.1,110.2 L1576.0,110.1 L1576.9,110.1 L1577.8,110.0 L1578.7,109.9 L1579.6,109.9 L1580.5,109.8 L1581.4,109.8 L1582.3,109.8 L1583.1,109.7 L1584.0,109.7 L1584.9,109.6 L1585.8,109.6 L1586.7,109.6 L1587.6,109.5 L1588.5,109.5 L1589.4,109.5 L1590.3,109.5 L1591.1,109.4 L1592.0,109.4 L1592.9,109.4 L1593.8,109.4 L1594.7,109.4 L1595.6,109.3 L1596.4,109.3 L1597.3,109.3 L1598.2,109.3 L1599.1,109.3 L1599.9,109.3 L1600.8,109.2 L1601.7,109.2 L1602.6,109.2 L1603.4,109.2 L1604.3,109.2 L1605.2,109.2 L1606.0,109.2 L1606.9,109.2 L1607.8,109.2 L1608.6,109.1 L1609.5,109.1 L1610.4,109.1 L1611.2,109.1 L1612.1,109.1 L1612.9,109.1 L1613.8,109.1 L1614.6,109.1 L1615.5,109.1 L1616.4,109.1 L1617.2,109.1 L1618.1,109.1 L1618.9,109.1 L1619.8,109.1 L1620.6,109.1 L1621.5,109.0 L1622.3,109.0 L1623.2,109.0 L1624.0,109.0 L1624.9,109.0 L1625.7,109.0 L1626.6,109.0 L1627.4,109.0 L1628.3,109.0 L1629.1,109.0 L1630.0,109.0 L1630.8,109.0 L1631.7,109.0 L1632.5,109.0 L1633.4,109.0 L1634.2,109.0 L1635.1,109.0 L1635.9,109.0 L1636.8,109.0 L1637.6,109.0 L1638.5,109.0 L1639.3,109.0 L1640.2,109.0 L1641.0,109.0 L1641.9,109.0 L1642.7,108.9 L1643.6,108.9 L1644.4,108.9 L1645.3,108.9 L1646.2,108.9 L1647.0,108.9 L1647.9,108.9 L1648.7,108.9 L1649.6,108.9 L1650.5,108.9 L1651.3,108.9 L1652.2,108.9 L1653.0,108.9 L1653.9,108.9 L1654.8,108.9 L1655.6,108.9 L1656.5,108.8 L1657.4,108.8 L1658.3,108.8 L1659.1,108.8 L1660.0,108.8" stroke="#0000ff" stroke-width="7.8" stroke-linecap="butt"/>
<path d="M144.0,92.5 L145.6,92.5 L147.2,92.5 L148.7,92.6 L150.3,92.6 L151.9,92.6 L153.5,92.6 L155.1,92.6 L156.7,92.7 L158.2,92.7 L159.8,92.7 L161.4,92.7 L163.0,92.7 L164.6,92.7 L166.1,92.8 L167.7,92.8 L169.3,92.8 L170.9,92.8 L172.4,92.8 L174.0,92.8 L175.6,92.8 L177.2,92.9 L178.8,92.9 L180.3,92.9 L181.9,92.9 L183.5,92.9 L185.1,92.9 L186.6,92.9 L188.2,93.0 L189.8,93.0 L191.4,93.0 L192.9,93.0 L194.5,93.0 L196.1,93.0 L197.7,93.0 L199.2,93.0 L200.8,93.0 L202.4,93.1 L203.9,93.1 L205.5,93.1 L207.1,93.1 L208.7,93.1 L210.2,93.1 L211.8,93.1 L213.4,93.1 L215.0,93.1 L216.5,93.1 L218.1,93.2 L219.7,93.2 L221.2,93.2 L222.8,93.2 L224.4,93.2 L225.9,93.2 L227.5,93.2 L229.1,93.2 L230.7,93.2 L232.2,93.2 L233.8,93.2 L235.4,93.3 L236.9,93.3 L238.5,93.3 L240.1,93.3 L241.6,93.3 L243.2,93.3 L244.8,93.3 L246.3,93.3 L247.9,93.3 L249.5,93.3 L251.0,93.4 L252.6,93.4 L254.2,93.4 L255.7,93.4 L257.3,93.4 L258.9,93.4 L260.4,93.4 L262.0,93.4 L263.6,93.4 L265.1,93.4 L266.7,93.5 L268.3,93.5 L269.8,93.5 L271.4,93.5 L273.0,93.5 L274.5,93.5 L276.1,93.5 L277.7,93.5 L279.2,93.6 L280.8,93.6 L282.4,93.6 L283.9,93.6 L285.5,93.6 L287.0,93.6 L288.6,93.6 L290.2,93.7 L291.7,93.7 L293.3,93.7 L294.9,93.7 L296.4,93.7 L298.0,93.7 L299.6,93.8 L301.1,93.8 L302.7,93.8 L304.2,93.8 L305.8,93.8 L307.4,93.8 L308.9,93.9 L310.5,93.9 L312.1,93.9 L313.6,93.9 L315.2,93.9 L316.7,94.0 L318.3,94.0 L319.9,94.0 L321.4,94.0 L323.0,94.1 L324.6,94.1 L326.1,94.1 L327.7,94.1 L329.2,94.2 L330.8,94.2 L332.4,94.2 L333.9,94.2 L335.5,94.3 L337.0,94.3 L338.6,94.3 L340.2,94.3 L341.7,94.4 L343.3,94.4 L344.9,94.4 L346.4,94.5 L348.0,94.5 L349.5,94.5 L351.1,94.6 L352.7,94.6 L354.2,94.6 L355.8,94.7 L357.3,94.7 L358.9,94.7 L360.5,94.8 L362.0,94.8 L363.6,94.9 L365.1,94.9 L366.7,94.9 L368.3,95.0 L369.8,95.0 L371.4,95.1 L373.0,95.1 L374.5,95.1 L376.1,95.2 L377.6,95.2 L379.2,95.3 L380.8,95.3 L382.3,95.4 L383.9,95.4 L385.4,95.5 L387.0,95.5 L388.6,95.6 L390.1,95.6 L391.7,95.7 L393.2,95.7 L394.8,95.8 L396.4,95.8 L397.9,95.9 L399.5,95.9 L401.0,96.0 L402.6,96.1 L404.2,96.1 L405.7,96.2 L407.3,96.2 L408.9,96.3 L410.4,96.4 L412.0,96.4 L413.5,96.5 L415.1,96.5 L416.7,96.6 L418.2,96.7 L419.8,96.7 L421.3,96.8 L422.9,96.9 L424.5,97.0 L426.0,97.0 L427.6,97.1 L429.2,97.2 L430.7,97.3 L432.3,97.3 L433.8,97.4 L435.4,97.5 L437.0,97.6 L438.5,97.6 L440.1,97.7 L441.7,97.8 L443.2,97.9 L444.8,98.0 L446.3,98.1 L447.9,98.1 L449.5,98.2 L451.0,98.3 L452.6,98.4 L454.2,98.5 L455.7,98.6 L457.3,98.7 L458.9,98.8 L460.4,98.9 L462.0,99.0 L463.6,99.1 L465.1,99.2 L466.7,99.3 L468.2,99.4 L469.8,99.5 L471.4,99.6 L472.9,99.7 L474.5,99.8 L476.1,99.9 L477.6,100.0 L479.2,100.1 L480.8,100.2 L482.3,100.4 L483.9,100.5 L485.5,100.6 L487.0,100.7 L488.6,100.8 L490.2,100.9 L491.7,101.1 L493.3,101.2 L494.9,101.3 L496.4,101.4 L498.0,101.6 L499.6,101.7 L501.1,101.8 L502.7,102.0 L504.3,102.1 L505.8,102.2 L507.4,102.4 L509.0,102.5 L510.5,102.6 L512.1,102.8 L513.7,102.9 L515.3,103.1 L516.8,103.2 L518.4,103.3 L520.0,103.5 L521.5,103.6 L523.1,103.8 L524.7,103.9 L526.2,104.1 L527.8,104.2 L529.4,104.4 L531.0,104.6 L532.5,104.7 L534.1,104.9 L535.7,105.0 L537.2,105.2 L538.8,105.4 L540.4,105.5 L542.0,105.7 L543.5,105.9 L545.1,106.1 L546.7,106.2 L548.3,106.4 L549.8,106.6 L551.4,106.8 L553.0,106.9 L554.6,107.1 L556.1,107.3 L557.7,107.5 L559.3,107.7 L560.9,107.9 L562.4,108.1 L564.0,108.2 L565.6,108.4 L567.2,108.6 L568.7,108.8 L570.3,109.0 L571.9,109.2 L573.5,109.4 L575.1,109.6 L576.6,109.8 L578.2,110.1 L579.8,110.3 L581.4,110.5 L582.9,110.7 L584.5,110.9 L586.1,111.1 L587.7,111.4 L589.2,111.6 L590.8,111.8 L592.4,112.1 L594.0,112.3 L595.5,112.5 L597.1,112.8 L598.7,113.0 L600.3,113.3 L601.8,113.5 L603.4,113.8 L605.0,114.0 L606.5,114.3 L608.1,114.6 L609.6,114.9 L611.2,115.1 L612.8,115.4 L614.3,115.7 L615.9,116.0 L617.4,116.3 L619.0,116.6 L620.5,116.9 L622.1,117.2 L623.6,117.5 L625.2,117.9 L626.7,118.2 L628.3,118.5 L629.8,118.9 L631.3,119.2 L632.9,119.6 L634.4,119.9 L635.9,120.3 L637.5,120.7 L639.0,121.0 L640.5,121.4 L642.0,121.8 L643.6,122.2 L645.1,122.6 L646.6,123.0 L648.1,123.4 L649.6,123.8 L651.1,124.3 L652.6,124.7 L654.1,125.2 L655.6,125.6 L657.1,126.1 L658.5,126.5 L660.0,127.0 L661.5,127.5 L663.0,128.0 L664.4,128.5 L665.9,129.0 L667.4,129.5 L668.8,130.0 L670.3,130.5 L671.7,131.1 L673.2,131.6 L674.6,132.2 L676.1,132.7 L677.5,133.3 L678.9,133.9 L680.4,134.5 L681.8,135.1 L683.2,135.7 L684.6,136.3 L686.0,136.9 L687.4,137.6 L688.8,138.2 L690.2,138.9 L691.6,139.5 L693.0,140.2 L694.4,140.9 L695.7,141.6 L697.1,142.3 L698.5,143.0 L699.8,143.7 L701.2,144.5 L702.5,145.2 L703.9,146.0 L705.2,146.7 L706.5,147.5 L707.8,148.3 L709.2,149.1 L710.5,149.9 L711.8,150.8 L713.1,151.6 L714.4,152.4 L715.7,153.3 L716.9,154.1 L718.2,155.0 L719.5,155.9 L720.8,156.8 L722.0,157.7 L723.3,158.6 L724.5,159.5 L725.8,160.5 L727.0,161.4 L728.2,162.4 L729.4,163.3 L730.6,164.3" stroke="#000000" stroke-width="7.8" stroke-linecap="round" stroke-dasharray="12.100 22.700" stroke-dashoffset="0.00"/>
<path d="M730.6,164.3 L731.9,165.3 L733.1,166.3 L734.3,167.3 L735.4,168.3 L736.6,169.3 L737.8,170.3 L739.0,171.3 L740.1,172.4 L741.3,173.4 L742.4,174.5 L743.6,175.5 L744.7,176.6 L745.8,177.7 L747.0,178.8 L748.1,179.9 L749.2,181.0 L750.3,182.1 L751.4,183.2 L752.5,184.4 L753.5,185.5 L754.6,186.6 L755.7,187.8 L756.7,188.9 L757.8,190.1 L758.8,191.3 L759.8,192.5 L760.9,193.6 L761.9,194.8 L762.9,196.0 L763.9,197.2 L764.9,198.5 L765.9,199.7 L766.9,200.9 L767.8,202.1 L768.8,203.4 L769.8,204.6 L770.7,205.9 L771.7,207.1 L772.6,208.4 L773.5,209.7 L774.4,210.9 L775.3,212.2 L776.2,213.5 L777.1,214.8 L778.0,216.1 L778.9,217.4 L779.8,218.7 L780.6,220.0 L781.5,221.3 L782.3,222.6 L783.2,223.9 L784.0,225.3 L784.8,226.6 L785.6,228.0 L786.4,229.3 L787.2,230.6 L788.0,232.0 L788.8,233.4 L789.6,234.7 L790.4,236.1 L791.1,237.5 L791.9,238.8 L792.6,240.2 L793.4,241.6 L794.1,243.0 L794.8,244.4 L795.5,245.8 L796.2,247.2 L797.0,248.6 L797.7,250.0 L798.3,251.4 L799.0,252.8 L799.7,254.2 L800.4,255.7 L801.1,257.1 L801.7,258.5 L802.4,260.0 L803.0,261.4 L803.7,262.8 L804.3,264.3 L804.9,265.7 L805.6,267.2 L806.2,268.6 L806.8,270.1 L807.4,271.5 L808.0,273.0 L808.6,274.5 L809.2,275.9 L809.8,277.4 L810.3,278.9 L810.9,280.3 L811.5,281.8 L812.0,283.3 L812.6,284.8 L813.2,286.3 L813.7,287.8 L814.2,289.2 L814.8,290.7 L815.3,292.2 L815.8,293.7 L816.4,295.2 L816.9,296.7 L817.4,298.2 L817.9,299.7 L818.4,301.2 L818.9,302.7 L819.4,304.2 L819.9,305.7 L820.4,307.3 L820.9,308.8 L821.4,310.3 L821.8,311.8 L822.3,313.3 L822.8,314.8 L823.2,316.3 L823.7,317.9 L824.2,319.4 L824.6,320.9 L825.1,322.4 L825.5,324.0 L826.0,325.5 L826.4,327.0 L826.8,328.5 L827.3,330.1 L827.7,331.6 L828.1,333.1 L828.5,334.6 L829.0,336.2 L829.4,337.7 L829.8,339.2 L830.2,340.7 L830.6,342.3 L831.0,343.8 L831.4,345.3 L831.8,346.9 L832.2,348.4 L832.6,349.9 L833.0,351.4 L833.4,353.0 L833.8,354.5 L834.2,356.0 L834.6,357.6 L834.9,359.1 L835.3,360.6 L835.7,362.1 L836.1,363.7 L836.4,365.2 L836.8,366.7 L837.2,368.2 L837.6,369.8 L837.9,371.3 L838.3,372.8 L838.6,374.3 L839.0,375.9 L839.3,377.4 L839.7,378.9 L840.0,380.5 L840.4,382.0 L840.7,383.5 L841.1,385.0 L841.4,386.6 L841.8,388.1 L842.1,389.6 L842.4,391.1 L842.8,392.7 L843.1,394.2 L843.4,395.7 L843.7,397.3 L844.1,398.8 L844.4,400.3 L844.7,401.8 L845.0,403.4 L845.3,404.9 L845.7,406.4 L846.0,408.0 L846.3,409.5 L846.6,411.0 L846.9,412.5 L847.2,414.1 L847.5,415.6 L847.8,417.1 L848.1,418.7 L848.4,420.2 L848.7,421.7 L849.0,423.3 L849.3,424.8 L849.5,426.3 L849.8,427.9 L850.1,429.4 L850.4,430.9 L850.7,432.5 L851.0,434.0 L851.2,435.5 L851.5,437.1 L851.8,438.6 L852.1,440.1 L852.3,441.7 L852.6,443.2 L852.9,444.7 L853.1,446.3 L853.4,447.8 L853.6,449.4 L853.9,450.9 L854.2,452.4 L854.4,454.0 L854.7,455.5 L854.9,457.1 L855.2,458.6 L855.4,460.2 L855.7,461.7 L855.9,463.2 L856.2,464.8 L856.4,466.3 L856.6,467.9 L856.9,469.4 L857.1,471.0 L857.4,472.5 L857.6,474.1 L857.8,475.6 L858.1,477.2 L858.3,478.7 L858.5,480.2 L858.8,481.8 L859.0,483.3 L859.2,484.9 L859.5,486.4 L859.7,488.0 L859.9,489.5 L860.1,491.1 L860.4,492.6 L860.6,494.2 L860.8,495.8 L861.0,497.3 L861.2,498.9 L861.5,500.4 L861.7,502.0 L861.9,503.5 L862.1,505.1 L862.3,506.6 L862.5,508.2 L862.8,509.7 L863.0,511.3 L863.2,512.8 L863.4,514.4 L863.6,515.9 L863.8,517.5 L864.0,519.1 L864.3,520.6 L864.5,522.2 L864.7,523.7 L864.9,525.3 L865.1,526.8 L865.3,528.4 L865.5,529.9 L865.7,531.5 L865.9,533.1 L866.1,534.6 L866.4,536.2 L866.6,537.7 L866.8,539.3 L867.0,540.8 L867.2,542.4 L867.4,544.0 L867.6,545.5 L867.8,547.1 L868.0,548.6 L868.2,550.2 L868.4,551.7 L868.6,553.3 L868.9,554.9 L869.1,556.4 L869.3,558.0 L869.5,559.5 L869.7,561.1 L869.9,562.6 L870.1,564.2 L870.3,565.8 L870.5,567.3 L870.8,568.9 L871.0,570.4 L871.2,572.0 L871.4,573.5 L871.6,575.1 L871.8,576.7 L872.0,578.2 L872.3,579.8 L872.5,581.3 L872.7,582.9 L872.9,584.4 L873.1,586.0 L873.4,587.6 L873.6,589.1 L873.8,590.7 L874.0,592.2 L874.2,593.8 L874.5,595.3 L874.7,596.9 L874.9,598.4 L875.1,600.0 L875.4,601.5 L875.6,603.1 L875.8,604.7 L876.1,606.2 L876.3,607.8 L876.5,609.3 L876.8,610.9 L877.0,612.4 L877.2,614.0 L877.5,615.5 L877.7,617.1 L878.0,618.6 L878.2,620.2 L878.5,621.7 L878.7,623.3 L878.9,624.8 L879.2,626.4 L879.4,627.9 L879.7,629.5 L880.0,631.0 L880.2,632.6 L880.5,634.1 L880.7,635.7 L881.0,637.2 L881.2,638.7 L881.5,640.3 L881.8,641.8 L882.0,643.4 L882.3,644.9 L882.6,646.5 L882.9,648.0 L883.1,649.6 L883.4,651.1 L883.7,652.6 L884.0,654.2 L884.3,655.7 L884.5,657.3 L884.8,658.8 L885.1,660.3 L885.4,661.9 L885.7,663.4 L886.0,665.0 L886.3,666.5 L886.8,665.0 L887.3,663.4 L887.8,661.9 L888.2,660.3 L888.7,658.8 L889.2,657.2 L889.6,655.7 L890.1,654.1 L890.5,652.6 L890.9,651.0 L891.3,649.5 L891.8,647.9 L892.2,646.3 L892.6,644.8 L893.0,643.2 L893.3,641.6 L893.7,640.0 L894.1,638.4 L894.5,636.9 L894.8,635.3 L895.2,633.7 L895.5,632.1 L895.9,630.5 L896.2,628.9 L896.6,627.3 L896.9,625.7 L897.2,624.1 L897.5,622.5 L897.8,620.9 L898.1,619.3 L898.4,617.7 L898.7,616.1 L899.0,614.5 L899.3,612.9 L899.6,611.3 L899.9,609.7 L900.2,608.1 L900.4,606.5 L900.7,604.9 L901.0,603.2 L901.2,601.6 L901.5,600.0 L901.7,598.4 L902.0,596.8 L902.2,595.1 L902.5,593.5 L902.7,591.9 L903.0,590.3 L903.2,588.6 L903.4,587.0 L903.7,585.4 L903.9,583.8 L904.1,582.1 L904.4,580.5 L904.6,578.9 L904.8,577.3 L905.0,575.6 L905.2,574.0 L905.4,572.4 L905.7,570.7 L905.9,569.1 L906.1,567.5 L906.3,565.9 L906.5,564.2 L906.7,562.6 L906.9,561.0 L907.1,559.3 L907.4,557.7 L907.6,556.1 L907.8,554.5 L908.0,552.8 L908.2,551.2 L908.4,549.6 L908.6,547.9 L908.8,546.3 L909.0,544.7 L909.2,543.1 L909.4,541.4 L909.7,539.8 L909.9,538.2 L910.1,536.6 L910.3,535.0 L910.5,533.3 L910.7,531.7 L911.0,530.1 L911.2,528.5 L911.4,526.9 L911.6,525.3 L911.8,523.6 L912.1,522.0 L912.3,520.4 L912.5,518.8 L912.8,517.2 L913.0,515.6 L913.2,514.0 L913.5,512.4 L913.7,510.8 L913.9,509.1 L914.2,507.5 L914.4,505.9 L914.7,504.3 L914.9,502.7 L915.2,501.1 L915.4,499.5 L915.7,497.9 L915.9,496.3 L916.2,494.7 L916.4,493.1 L916.7,491.5 L916.9,489.9 L917.2,488.3 L917.5,486.7 L917.7,485.1 L918.0,483.5 L918.3,481.9 L918.5,480.3 L918.8,478.7 L919.1,477.1 L919.3,475.5 L919.6,474.0 L919.9,472.4 L920.2,470.8 L920.5,469.2 L920.7,467.6" stroke="#000000" stroke-width="7.8" stroke-linecap="round" stroke-dasharray="12.477 23.407" stroke-dashoffset="7.50"/>
<path d="M920.7,467.6 L921.0,466.0 L921.3,464.4 L921.6,462.8 L921.9,461.2 L922.2,459.6 L922.5,458.0 L922.8,456.4 L923.1,454.9 L923.4,453.3 L923.7,451.7 L924.0,450.1 L924.3,448.5 L924.6,446.9 L925.0,445.3 L925.3,443.8 L925.6,442.2 L925.9,440.6 L926.2,439.0 L926.6,437.4 L926.9,435.8 L927.2,434.2 L927.5,432.7 L927.9,431.1 L928.2,429.5 L928.6,427.9 L928.9,426.3 L929.2,424.7 L929.6,423.2 L929.9,421.6 L930.3,420.0 L930.6,418.4 L931.0,416.8 L931.4,415.2 L931.7,413.7 L932.1,412.1 L932.5,410.5 L932.8,408.9 L933.2,407.3 L933.6,405.7 L933.9,404.2 L934.3,402.6 L934.7,401.0 L935.1,399.4 L935.5,397.8 L935.9,396.3 L936.3,394.7 L936.7,393.1 L937.1,391.5 L937.5,389.9 L937.9,388.3 L938.3,386.8 L938.7,385.2 L939.1,383.6 L939.5,382.0 L939.9,380.4 L940.3,378.8 L940.8,377.3 L941.2,375.7 L941.6,374.1 L942.0,372.5 L942.5,370.9 L942.9,369.3 L943.4,367.8 L943.8,366.2 L944.3,364.6 L944.7,363.0 L945.2,361.4 L945.6,359.8 L946.1,358.2 L946.5,356.7 L947.0,355.1 L947.5,353.5 L947.9,351.9 L948.4,350.3 L948.9,348.7 L949.4,347.2 L949.9,345.6 L950.4,344.0 L950.9,342.4 L951.4,340.8 L951.9,339.3 L952.4,337.7 L952.9,336.1 L953.4,334.5 L953.9,333.0 L954.5,331.4 L955.0,329.8 L955.5,328.3 L956.1,326.7 L956.6,325.1 L957.2,323.6 L957.7,322.0 L958.3,320.5 L958.8,318.9 L959.4,317.4 L960.0,315.8 L960.6,314.3 L961.2,312.7 L961.8,311.2 L962.4,309.7 L963.0,308.1 L963.6,306.6 L964.2,305.1 L964.8,303.5 L965.5,302.0 L966.1,300.5 L966.7,299.0 L967.4,297.5 L968.1,296.0 L968.7,294.5 L969.4,293.0 L970.1,291.5 L970.7,290.0 L971.4,288.5 L972.1,287.0 L972.8,285.6 L973.6,284.1 L974.3,282.6 L975.0,281.2 L975.7,279.7 L976.5,278.3 L977.2,276.8 L978.0,275.4 L978.7,273.9 L979.5,272.5 L980.3,271.1 L981.1,269.7 L981.9,268.2 L982.7,266.8 L983.5,265.4 L984.3,264.0 L985.2,262.6 L986.0,261.3 L986.8,259.9 L987.7,258.5 L988.6,257.2 L989.4,255.8 L990.3,254.4 L991.2,253.1 L992.1,251.8 L993.0,250.4 L993.9,249.1 L994.9,247.8 L995.8,246.5 L996.8,245.2 L997.7,243.9 L998.7,242.6 L999.6,241.3 L1000.6,240.0 L1001.6,238.8 L1002.6,237.5 L1003.7,236.3 L1004.7,235.0 L1005.7,233.8 L1006.8,232.6 L1007.8,231.4 L1008.9,230.2 L1010.0,229.0 L1011.1,227.8 L1012.2,226.6 L1013.3,225.4 L1014.4,224.3 L1015.5,223.1 L1016.7,222.0 L1017.8,220.8 L1019.0,219.7 L1020.2,218.6 L1021.3,217.5 L1022.5,216.4 L1023.8,215.3 L1025.0,214.2 L1026.2,213.1 L1027.5,212.1 L1028.7,211.0 L1030.0,210.0 L1031.3,209.0 L1032.6,207.9 L1033.9,206.9 L1035.2,205.9 L1036.5,205.0 L1037.8,204.0 L1039.2,203.0 L1040.5,202.1 L1041.9,201.1 L1043.3,200.2 L1044.7,199.3 L1046.1,198.4 L1047.5,197.5 L1048.9,196.7 L1050.3,195.8 L1051.7,195.0 L1053.2,194.1 L1054.6,193.3 L1056.1,192.5 L1057.5,191.7 L1059.0,190.9 L1060.5,190.2 L1061.9,189.4 L1063.4,188.7 L1064.9,188.0 L1066.4,187.3 L1067.9,186.6 L1069.5,186.0 L1071.0,185.3 L1072.5,184.7 L1074.0,184.1 L1075.6,183.5 L1077.1,182.9 L1078.7,182.4 L1080.2,181.8 L1081.8,181.3 L1083.3,180.8 L1084.9,180.3 L1086.5,179.8 L1088.1,179.4 L1089.6,178.9 L1091.2,178.5 L1092.8,178.1 L1094.4,177.8 L1096.0,177.4 L1097.6,177.1 L1099.2,176.8 L1100.8,176.5 L1102.4,176.2 L1104.0,175.9 L1105.6,175.7 L1107.2,175.5 L1108.8,175.3 L1110.4,175.2 L1112.0,175.0 L1113.6,174.9 L1115.3,174.8 L1116.9,174.7 L1118.5,174.7 L1120.1,174.6 L1121.7,174.6 L1123.3,174.6 L1124.9,174.7 L1126.5,174.7 L1128.2,174.8 L1129.8,174.9 L1131.4,175.1 L1133.0,175.2 L1134.6,175.4 L1136.2,175.6 L1137.8,175.8 L1139.4,176.1 L1141.0,176.4 L1142.6,176.7 L1144.2,177.0 L1145.7,177.3 L1147.3,177.7 L1148.9,178.1 L1150.5,178.5 L1152.0,178.9 L1153.6,179.3 L1155.1,179.8 L1156.7,180.3 L1158.2,180.8 L1159.7,181.3 L1161.3,181.9 L1162.8,182.4 L1164.3,183.0 L1165.8,183.6 L1167.3,184.3 L1168.8,184.9 L1170.3,185.6 L1171.7,186.3 L1173.2,187.0 L1174.6,187.7 L1176.1,188.4 L1177.5,189.2 L1178.9,190.0 L1180.4,190.8 L1181.8,191.6 L1183.1,192.4 L1184.5,193.3 L1185.9,194.1 L1187.2,195.0 L1188.6,195.9 L1189.9,196.8 L1191.2,197.8 L1192.5,198.7 L1193.8,199.7 L1195.1,200.7 L1196.3,201.7 L1197.6,202.7 L1198.8,203.7 L1200.0,204.8 L1201.2,205.8 L1202.4,206.9 L1203.6,208.0 L1204.8,209.1 L1205.9,210.2 L1207.1,211.3 L1208.2,212.5 L1209.3,213.7 L1210.4,214.8 L1211.5,216.0 L1212.5,217.2 L1213.6,218.4 L1214.6,219.7 L1215.7,220.9 L1216.7,222.2 L1217.7,223.4 L1218.7,224.7 L1219.7,226.0 L1220.6,227.3 L1221.6,228.6 L1222.5,229.9 L1223.5,231.2 L1224.4,232.6 L1225.3,233.9 L1226.2,235.3 L1227.1,236.7 L1228.0,238.1 L1228.8,239.4 L1229.7,240.8 L1230.5,242.2 L1231.4,243.7 L1232.2,245.1 L1233.0,246.5 L1233.8,248.0 L1234.6,249.4 L1235.4,250.9 L1236.2,252.3 L1236.9,253.8 L1237.7,255.3 L1238.4,256.8 L1239.1,258.3 L1239.9,259.8 L1240.6,261.3 L1241.3,262.8 L1242.0,264.3 L1242.7,265.8 L1243.3,267.3 L1244.0,268.9 L1244.7,270.4 L1245.3,271.9 L1246.0,273.5 L1246.6,275.0 L1247.2,276.6 L1247.8,278.1 L1248.5,279.7 L1249.1,281.2 L1249.7,282.8 L1250.2,284.4 L1250.8,285.9 L1251.4,287.5 L1252.0,289.1 L1252.5,290.7 L1253.1,292.2 L1253.6,293.8 L1254.2,295.4 L1254.7,297.0 L1255.2,298.5 L1255.7,300.1 L1256.2,301.7 L1256.7,303.3 L1257.2,304.9 L1257.7,306.4 L1258.2,308.0 L1258.7,309.6 L1259.2,311.2 L1259.6,312.8 L1260.1,314.3 L1260.6,315.9 L1261.0,317.5 L1261.5,319.1 L1261.9,320.7 L1262.3,322.2 L1262.8,323.8 L1263.2,325.4 L1263.6,327.0 L1264.0,328.6 L1264.4,330.1 L1264.9,331.7 L1265.3,333.3 L1265.7,334.9 L1266.1,336.5 L1266.4,338.0 L1266.8,339.6 L1267.2,341.2 L1267.6,342.8 L1268.0,344.4 L1268.3,346.0 L1268.7,347.5 L1269.1,349.1 L1269.4,350.7 L1269.8,352.3 L1270.1,353.9 L1270.5,355.4 L1270.8,357.0 L1271.2,358.6 L1271.5,360.2 L1271.9,361.8 L1272.2,363.4 L1272.5,365.0 L1272.8,366.5 L1273.2,368.1 L1273.5,369.7 L1273.8,371.3 L1274.1,372.9 L1274.5,374.5 L1274.8,376.1 L1275.1,377.7 L1275.4,379.3 L1275.7,380.8 L1276.0,382.4 L1276.3,384.0 L1276.6,385.6 L1276.9,387.2 L1277.2,388.8 L1277.5,390.4 L1277.8,392.0 L1278.1,393.6 L1278.4,395.2 L1278.7,396.8 L1279.0,398.4 L1279.3,400.0 L1279.6,401.6 L1279.9,403.2 L1280.1,404.8 L1280.4,406.4 L1280.7,408.0 L1281.0,409.6 L1281.2,411.2 L1281.5,412.8 L1281.8,414.4 L1282.0,416.0 L1282.3,417.6 L1282.6,419.2 L1282.8,420.8 L1283.1,422.4 L1283.4,424.0 L1283.6,425.6 L1283.9,427.2 L1284.1,428.8 L1284.4,430.4 L1284.6,432.0 L1284.9,433.6 L1285.1,435.3 L1285.4,436.9 L1285.6,438.5 L1285.8,440.1 L1286.1,441.7 L1286.3,443.3 L1286.5,444.9 L1286.8,446.5 L1287.0,448.1 L1287.2,449.7 L1287.5,451.4 L1287.7,453.0 L1287.9,454.6 L1288.1,456.2 L1288.4,457.8 L1288.6,459.4 L1288.8,461.0 L1289.0,462.6 L1289.2,464.3 L1289.5,465.9 L1289.7,467.5 L1289.9,469.1 L1290.1,470.7 L1290.3,472.3 L1290.5,474.0 L1290.7,475.6 L1290.9,477.2 L1291.1,478.8 L1291.3,480.4" stroke="#000000" stroke-width="7.8" stroke-linecap="round" stroke-dasharray="11.892 22.309" stroke-dashoffset="27.58"/>
<path d="M1291.3,480.4 L1291.5,482.0 L1291.7,483.7 L1291.9,485.3 L1292.1,486.9 L1292.3,488.5 L1292.5,490.1 L1292.7,491.8 L1292.9,493.4 L1293.1,495.0 L1293.3,496.6 L1293.4,498.2 L1293.6,499.9 L1293.8,501.5 L1294.0,503.1 L1294.2,504.7 L1294.3,506.3 L1294.5,508.0 L1294.7,509.6 L1294.9,511.2 L1295.1,512.8 L1295.2,514.5 L1295.4,516.1 L1295.6,517.7 L1295.7,519.3 L1295.9,520.9 L1296.1,522.6 L1296.2,524.2 L1296.4,525.8 L1296.6,527.4 L1296.7,529.1 L1296.9,530.7 L1297.0,532.3 L1297.2,533.9 L1297.4,535.6 L1297.5,537.2 L1297.7,538.8 L1297.8,540.4 L1298.0,542.1 L1298.1,543.7 L1298.3,545.3 L1298.4,546.9 L1298.6,548.6 L1298.7,550.2 L1298.9,551.8 L1299.0,553.4 L1299.2,555.1 L1299.3,556.7 L1299.5,558.3 L1299.6,560.0 L1299.7,561.6 L1299.9,563.2 L1300.0,564.8 L1300.2,566.5 L1300.3,568.1 L1300.4,569.7 L1300.6,571.3 L1300.7,573.0 L1300.8,574.6 L1301.0,576.2 L1301.1,577.8 L1301.2,579.5 L1301.4,581.1 L1301.5,582.7 L1301.6,584.4 L1301.7,586.0 L1301.9,587.6 L1302.0,589.2 L1302.1,590.9 L1302.2,592.5 L1302.4,594.1 L1302.5,595.8 L1302.6,597.4 L1302.7,599.0 L1302.8,600.6 L1303.0,602.3 L1303.1,603.9 L1303.2,605.5 L1303.3,607.1 L1303.4,608.8 L1303.6,610.4 L1303.7,612.0 L1303.8,613.7 L1303.9,615.3 L1304.0,616.9 L1304.1,618.5 L1304.2,620.2 L1304.3,621.8 L1304.4,623.4 L1304.6,625.0 L1304.7,626.7 L1304.8,628.3 L1304.9,629.9 L1305.0,631.6 L1305.1,633.2 L1305.2,634.8 L1305.3,636.4 L1305.4,638.1 L1305.5,639.7 L1305.6,641.3 L1305.7,643.0 L1305.8,644.6 L1305.9,646.2 L1306.0,647.8 L1306.1,649.5 L1306.2,651.1 L1306.3,652.7 L1306.4,654.4 L1306.5,656.0 L1306.6,657.6 L1306.6,659.2 L1306.7,660.9 L1306.8,662.5 L1306.9,664.1 L1307.0,665.8 L1307.1,667.4 L1307.2,669.0 L1307.3,670.6 L1307.4,672.3 L1307.5,673.9 L1307.5,675.5 L1307.6,677.2 L1307.7,678.8 L1307.8,680.4 L1307.9,682.0 L1308.0,683.7 L1308.0,685.3 L1308.1,686.9 L1308.2,688.6 L1308.3,690.2 L1308.4,691.8 L1308.4,693.4 L1308.5,695.1 L1308.6,696.7 L1308.7,698.3 L1308.8,700.0 L1308.8,701.6 L1308.9,703.2 L1309.0,704.9 L1309.1,706.5 L1309.1,708.1 L1309.2,709.7 L1309.3,711.4 L1309.3,713.0 L1309.4,714.6 L1309.5,716.3 L1309.6,717.9 L1309.6,719.5 L1309.7,721.1 L1309.8,722.8 L1309.8,724.4 L1309.9,726.0 L1310.0,727.7 L1310.0,729.3 L1310.1,730.9 L1310.2,732.6 L1310.2,734.2 L1310.3,735.8 L1310.4,737.4 L1310.4,739.1 L1310.5,740.7 L1310.5,742.3 L1310.6,744.0 L1310.7,745.6 L1310.7,747.2 L1310.8,748.9 L1310.8,750.5 L1310.9,752.1 L1311.0,753.7 L1311.0,755.4 L1311.1,757.0 L1311.1,758.6 L1311.2,760.3 L1311.2,761.9 L1311.3,763.5 L1311.4,765.1 L1311.4,766.8 L1311.5,768.4 L1311.5,770.0 L1311.6,771.7 L1311.6,773.3 L1311.7,774.9 L1311.7,776.6 L1311.8,778.2 L1311.8,779.8 L1311.9,781.4 L1311.9,783.1 L1312.0,784.7 L1312.0,786.3 L1312.1,788.0 L1312.1,789.6 L1312.2,791.2 L1312.2,792.9 L1312.3,794.5 L1312.3,796.1 L1312.4,797.8 L1312.4,799.4 L1312.5,801.0 L1312.5,802.6 L1312.6,804.3 L1312.6,805.9 L1312.6,807.5 L1312.7,809.2 L1312.7,810.8 L1312.8,812.4 L1312.8,814.1 L1312.9,815.7 L1312.9,817.3 L1312.9,818.9 L1313.0,820.6 L1313.0,822.2 L1313.1,823.8 L1313.1,825.5 L1313.1,827.1 L1313.2,828.7 L1313.2,830.4 L1313.3,832.0 L1313.3,833.6 L1313.3,835.3 L1313.4,836.9 L1313.4,838.5 L1313.5,840.1 L1313.5,841.8 L1313.5,843.4 L1313.6,845.0 L1313.6,846.7 L1313.6,848.3 L1313.7,849.9 L1313.7,851.6 L1313.7,853.2 L1313.8,854.8 L1313.8,856.4 L1313.9,858.1 L1313.9,859.7 L1313.9,861.3 L1314.0,863.0 L1314.0,864.6 L1314.0,866.2 L1314.1,867.9 L1314.1,869.5 L1314.1,871.1 L1314.1,872.8 L1314.2,874.4 L1314.2,876.0 L1314.2,877.6 L1314.3,879.3 L1314.3,880.9 L1314.3,882.5 L1314.4,884.2 L1314.4,885.8 L1314.4,887.4 L1314.5,889.1 L1314.5,890.7 L1314.5,892.3 L1314.5,894.0 L1314.6,895.6 L1314.6,897.2 L1314.6,898.9 L1314.7,900.5 L1314.7,902.1 L1314.7,903.7 L1314.7,905.4 L1314.8,907.0 L1314.8,908.6 L1314.8,910.3 L1314.9,911.9 L1314.9,913.5 L1314.9,915.2 L1314.9,916.8 L1315.0,918.4 L1315.0,920.1 L1315.0,921.7 L1315.1,923.3 L1315.1,924.9 L1315.1,926.6 L1315.1,928.2 L1315.2,929.8 L1315.2,931.5 L1315.2,933.1 L1315.2,934.7 L1315.3,936.4 L1315.3,938.0 L1315.3,939.6 L1315.3,941.3 L1315.4,942.9 L1315.4,944.5 L1315.4,946.2 L1315.4,947.8 L1315.5,949.4 L1315.5,951.0 L1315.5,952.7 L1315.5,954.3 L1315.6,955.9 L1315.6,957.6 L1315.6,959.2 L1315.6,960.8 L1315.7,962.5 L1315.7,964.1 L1315.7,965.7 L1315.7,967.4 L1315.8,969.0 L1315.8,970.6 L1315.8,972.2 L1315.8,973.9 L1315.9,975.5 L1315.9,977.1 L1315.9,978.8 L1315.9,980.4 L1316.0,982.0 L1316.0,983.7 L1316.0,985.3 L1316.0,986.9 L1316.1,988.6 L1316.1,990.2 L1316.1,991.8 L1316.1,993.5 L1316.1,995.1 L1316.2,996.7 L1316.2,998.3 L1316.2,1000.0 L1316.2,1001.6 L1316.3,1003.2 L1316.3,1004.9 L1316.3,1006.5 L1316.3,1008.1 L1316.4,1009.8 L1316.4,1011.4 L1316.4,1013.0 L1316.4,1014.7 L1316.5,1016.3 L1316.5,1017.9 L1316.5,1019.6 L1316.5,1021.2 L1316.6,1022.8 L1316.6,1024.4 L1316.6,1026.1 L1316.6,1027.7 L1316.7,1029.3 L1316.7,1031.0 L1316.7,1032.6 L1316.8,1034.2 L1316.8,1035.9 L1316.8,1037.5 L1316.8,1039.1 L1316.9,1040.8 L1316.9,1042.4 L1316.9,1044.0 L1316.9,1045.6 L1317.0,1047.3 L1317.0,1048.9 L1317.0,1050.5 L1317.1,1052.2 L1317.1,1053.8 L1317.1,1055.4 L1317.1,1057.1 L1317.2,1058.7 L1317.2,1060.3 L1317.2,1062.0 L1317.2,1063.6 L1317.3,1065.2 L1317.3,1066.9 L1317.3,1068.5 L1317.4,1070.1 L1317.4,1071.7 L1317.4,1073.4 L1317.5,1075.0 L1317.5,1076.6 L1317.5,1078.3 L1317.5,1079.9 L1317.6,1081.5 L1317.6,1083.2 L1317.6,1084.8 L1317.7,1086.4 L1317.7,1088.1 L1317.7,1089.7 L1317.8,1091.3 L1317.8,1092.9 L1317.8,1094.6 L1317.9,1096.2 L1317.9,1097.8 L1317.9,1099.5 L1318.0,1101.1 L1318.0,1102.7 L1318.0,1104.4 L1318.1,1106.0 L1318.1,1107.6 L1318.1,1109.3 L1318.2,1110.9 L1318.2,1112.5 L1318.2,1114.1 L1318.3,1115.8 L1318.3,1117.4 L1318.4,1119.0 L1318.4,1120.7 L1318.4,1122.3 L1318.5,1123.9 L1318.5,1125.6 L1318.5,1127.2 L1318.6,1128.8 L1318.6,1130.5 L1318.7,1132.1 L1318.7,1133.7 L1318.7,1135.3 L1318.8,1137.0 L1318.8,1138.6 L1318.9,1140.2 L1318.9,1141.9 L1318.9,1143.5 L1319.0,1145.1 L1319.0,1146.8 L1319.1,1148.4 L1319.1,1150.0 L1319.2,1151.7 L1319.2,1153.3 L1319.2,1154.9 L1319.3,1156.5 L1319.3,1158.2 L1319.4,1159.8 L1319.4,1161.4 L1319.5,1163.1 L1319.5,1164.7 L1319.6,1166.3 L1319.6,1168.0 L1319.7,1169.6 L1319.7,1171.2 L1319.8,1172.8 L1319.8,1174.5 L1319.9,1176.1 L1319.9,1177.7 L1320.0,1179.4 L1320.0,1181.0 L1320.0,1179.3 L1320.0,1177.6 L1320.0,1175.9 L1320.0,1174.2 L1320.1,1172.4 L1320.1,1170.7 L1320.1,1169.0 L1320.1,1167.3 L1320.1,1165.6 L1320.1,1163.9 L1320.1,1162.2 L1320.2,1160.5 L1320.2,1158.7 L1320.2,1157.0 L1320.2,1155.3 L1320.2,1153.6 L1320.2,1151.9 L1320.2,1150.2 L1320.3,1148.5 L1320.3,1146.8 L1320.3,1145.1 L1320.3,1143.3 L1320.3,1141.6 L1320.3,1139.9 L1320.4,1138.2 L1320.4,1136.5 L1320.4,1134.8 L1320.4,1133.1 L1320.4,1131.4 L1320.4,1129.6 L1320.5,1127.9 L1320.5,1126.2 L1320.5,1124.5 L1320.5,1122.8 L1320.5,1121.1 L1320.5,1119.4 L1320.6,1117.7 L1320.6,1115.9 L1320.6,1114.2 L1320.6,1112.5 L1320.6,1110.8 L1320.7,1109.1 L1320.7,1107.4 L1320.7,1105.7 L1320.7,1104.0 L1320.7,1102.2 L1320.8,1100.5 L1320.8,1098.8 L1320.8,1097.1 L1320.8,1095.4 L1320.9,1093.7 L1320.9,1092.0 L1320.9,1090.3 L1320.9,1088.6 L1320.9,1086.8 L1321.0,1085.1 L1321.0,1083.4 L1321.0,1081.7 L1321.0,1080.0 L1321.1,1078.3 L1321.1,1076.6 L1321.1,1074.9 L1321.1,1073.1 L1321.1,1071.4 L1321.2,1069.7 L1321.2,1068.0 L1321.2,1066.3 L1321.2,1064.6 L1321.3,1062.9 L1321.3,1061.2 L1321.3,1059.4 L1321.3,1057.7 L1321.4,1056.0 L1321.4,1054.3 L1321.4,1052.6 L1321.5,1050.9 L1321.5,1049.2 L1321.5,1047.5 L1321.5,1045.7 L1321.6,1044.0 L1321.6,1042.3 L1321.6,1040.6 L1321.6,1038.9 L1321.7,1037.2 L1321.7,1035.5 L1321.7,1033.8 L1321.8,1032.0 L1321.8,1030.3 L1321.8,1028.6 L1321.8,1026.9 L1321.9,1025.2 L1321.9,1023.5 L1321.9,1021.8 L1322.0,1020.1 L1322.0,1018.3 L1322.0,1016.6 L1322.1,1014.9 L1322.1,1013.2 L1322.1,1011.5 L1322.2,1009.8 L1322.2,1008.1 L1322.2,1006.4 L1322.2,1004.6 L1322.3,1002.9 L1322.3,1001.2 L1322.3,999.5 L1322.4,997.8 L1322.4,996.1 L1322.4,994.4 L1322.5,992.7 L1322.5,990.9 L1322.5,989.2 L1322.6,987.5 L1322.6,985.8 L1322.6,984.1 L1322.7,982.4 L1322.7,980.7 L1322.8,979.0 L1322.8,977.2 L1322.8,975.5 L1322.9,973.8 L1322.9,972.1 L1322.9,970.4 L1323.0,968.7 L1323.0,967.0 L1323.0,965.3 L1323.1,963.5 L1323.1,961.8 L1323.1,960.1 L1323.2,958.4 L1323.2,956.7 L1323.3,955.0 L1323.3,953.3 L1323.3,951.6 L1323.4,949.8 L1323.4,948.1 L1323.5,946.4 L1323.5,944.7 L1323.5,943.0 L1323.6,941.3 L1323.6,939.6 L1323.7,937.9 L1323.7,936.1 L1323.7,934.4 L1323.8,932.7 L1323.8,931.0 L1323.9,929.3 L1323.9,927.6 L1323.9,925.9 L1324.0,924.2 L1324.0,922.5 L1324.1,920.7 L1324.1,919.0 L1324.2,917.3 L1324.2,915.6 L1324.2,913.9 L1324.3,912.2 L1324.3,910.5 L1324.4,908.8 L1324.4,907.0 L1324.5,905.3 L1324.5,903.6 L1324.5,901.9 L1324.6,900.2 L1324.6,898.5 L1324.7,896.8 L1324.7,895.1 L1324.8,893.3 L1324.8,891.6 L1324.9,889.9 L1324.9,888.2 L1325.0,886.5 L1325.0,884.8 L1325.0,883.1 L1325.1,881.4 L1325.1,879.6 L1325.2,877.9 L1325.2,876.2 L1325.3,874.5 L1325.3,872.8 L1325.4,871.1 L1325.4,869.4 L1325.5,867.7 L1325.5,865.9 L1325.6,864.2 L1325.6,862.5 L1325.7,860.8 L1325.7,859.1 L1325.8,857.4 L1325.8,855.7 L1325.9,854.0 L1325.9,852.2 L1326.0,850.5 L1326.0,848.8 L1326.1,847.1 L1326.1,845.4 L1326.2,843.7 L1326.2,842.0 L1326.3,840.3 L1326.3,838.6 L1326.4,836.8 L1326.4,835.1 L1326.5,833.4 L1326.6,831.7 L1326.6,830.0 L1326.7,828.3 L1326.7,826.6 L1326.8,824.9 L1326.8,823.1 L1326.9,821.4 L1326.9,819.7 L1327.0,818.0 L1327.0,816.3 L1327.1,814.6 L1327.2,812.9 L1327.2,811.2 L1327.3,809.5 L1327.3,807.7 L1327.4,806.0 L1327.4,804.3 L1327.5,802.6 L1327.5,800.9 L1327.6,799.2 L1327.7,797.5 L1327.7,795.8 L1327.8,794.0 L1327.8,792.3 L1327.9,790.6 L1328.0,788.9 L1328.0,787.2 L1328.1,785.5 L1328.1,783.8 L1328.2,782.1 L1328.3,780.4 L1328.3,778.6 L1328.4,776.9 L1328.4,775.2 L1328.5,773.5 L1328.6,771.8 L1328.6,770.1 L1328.7,768.4 L1328.7,766.7 L1328.8,764.9 L1328.9,763.2 L1328.9,761.5 L1329.0,759.8 L1329.1,758.1 L1329.1,756.4 L1329.2,754.7 L1329.2,753.0 L1329.3,751.3 L1329.4,749.5 L1329.4,747.8 L1329.5,746.1 L1329.6,744.4 L1329.6,742.7 L1329.7,741.0 L1329.8,739.3 L1329.8,737.6 L1329.9,735.9 L1330.0,734.1 L1330.1,732.4 L1330.1,730.7 L1330.2,729.0 L1330.3,727.3 L1330.3,725.6 L1330.4,723.9 L1330.5,722.2 L1330.6,720.5 L1330.6,718.8 L1330.7,717.0 L1330.8,715.3 L1330.8,713.6 L1330.9,711.9 L1331.0,710.2 L1331.1,708.5 L1331.2,706.8 L1331.2,705.1 L1331.3,703.4 L1331.4,701.6 L1331.5,699.9 L1331.5,698.2 L1331.6,696.5 L1331.7,694.8 L1331.8,693.1 L1331.9,691.4 L1331.9,689.7 L1332.0,688.0 L1332.1,686.3 L1332.2,684.5 L1332.3,682.8 L1332.4,681.1 L1332.5,679.4 L1332.5,677.7 L1332.6,676.0 L1332.7,674.3 L1332.8,672.6 L1332.9,670.9 L1333.0,669.2 L1333.1,667.5 L1333.2,665.7 L1333.3,664.0 L1333.4,662.3 L1333.5,660.6 L1333.5,658.9 L1333.6,657.2 L1333.7,655.5 L1333.8,653.8 L1333.9,652.1 L1334.0,650.4 L1334.1,648.7 L1334.2,646.9 L1334.3,645.2 L1334.4,643.5 L1334.5,641.8 L1334.6,640.1 L1334.7,638.4 L1334.9,636.7 L1335.0,635.0 L1335.1,633.3 L1335.2,631.6 L1335.3,629.9 L1335.4,628.2 L1335.5,626.5 L1335.6,624.7 L1335.7,623.0 L1335.8,621.3 L1336.0,619.6 L1336.1,617.9 L1336.2,616.2 L1336.3,614.5 L1336.4,612.8 L1336.5,611.1 L1336.7,609.4 L1336.8,607.7 L1336.9,606.0 L1337.0,604.3 L1337.1,602.6 L1337.3,600.8 L1337.4,599.1 L1337.5,597.4 L1337.6,595.7 L1337.8,594.0 L1337.9,592.3 L1338.0,590.6 L1338.2,588.9 L1338.3,587.2 L1338.4,585.5 L1338.6,583.8 L1338.7,582.1 L1338.8,580.4 L1339.0,578.7 L1339.1,577.0 L1339.3,575.3 L1339.4,573.6 L1339.5,571.9 L1339.7,570.1 L1339.8,568.4 L1340.0,566.7 L1340.1,565.0 L1340.3,563.3 L1340.4,561.6 L1340.6,559.9 L1340.7,558.2 L1340.9,556.5 L1341.0,554.8 L1341.2,553.1 L1341.3,551.4 L1341.5,549.7 L1341.7,548.0 L1341.8,546.3 L1342.0,544.6 L1342.1,542.9 L1342.3,541.2 L1342.5,539.5 L1342.6,537.8 L1342.8,536.1 L1343.0,534.4 L1343.1,532.7 L1343.3,531.0 L1343.5,529.3 L1343.7,527.6 L1343.8,525.9 L1344.0,524.2 L1344.2,522.5 L1344.4,520.7 L1344.6,519.0 L1344.7,517.3 L1344.9,515.6 L1345.1,513.9 L1345.3,512.2 L1345.5,510.5 L1345.7,508.8 L1345.9,507.1 L1346.1,505.4 L1346.2,503.7 L1346.4,502.0 L1346.6,500.3 L1346.8,498.6 L1347.0,496.9 L1347.2,495.2 L1347.4,493.5 L1347.6,491.8 L1347.8,490.1 L1348.0,488.4 L1348.3,486.7 L1348.5,485.0 L1348.7,483.3 L1348.9,481.6 L1349.1,479.9 L1349.3,478.2 L1349.5,476.5 L1349.8,474.8 L1350.0,473.1 L1350.2,471.4 L1350.4,469.7 L1350.6,468.1 L1350.9,466.4 L1351.1,464.7 L1351.3,463.0 L1351.6,461.3 L1351.8,459.6 L1352.0,457.9 L1352.3,456.2 L1352.5,454.5 L1352.7,452.8 L1353.0,451.1 L1353.2,449.4 L1353.5,447.7 L1353.7,446.0 L1353.9,444.3 L1354.2,442.6 L1354.4,440.9 L1354.7,439.2 L1355.0,437.5 L1355.2,435.8 L1355.5,434.1 L1355.7,432.4 L1356.0,430.7 L1356.2,429.0 L1356.5,427.3 L1356.8,425.6 L1357.0,424.0 L1357.3,422.3 L1357.6,420.6 L1357.9,418.9" stroke="#000000" stroke-width="7.8" stroke-linecap="round" stroke-dasharray="12.232 22.948" stroke-dashoffset="8.24"/>
<path d="M1357.9,418.9 L1358.1,417.2 L1358.4,415.5 L1358.7,413.8 L1359.0,412.1 L1359.2,410.4 L1359.5,408.7 L1359.8,407.0 L1360.1,405.3 L1360.4,403.6 L1360.7,401.9 L1361.0,400.3 L1361.3,398.6 L1361.6,396.9 L1361.9,395.2 L1362.2,393.5 L1362.5,391.8 L1362.8,390.1 L1363.1,388.4 L1363.4,386.7 L1363.8,385.1 L1364.1,383.4 L1364.4,381.7 L1364.7,380.0 L1365.1,378.3 L1365.4,376.6 L1365.7,375.0 L1366.1,373.3 L1366.4,371.6 L1366.8,369.9 L1367.1,368.2 L1367.5,366.6 L1367.8,364.9 L1368.2,363.2 L1368.6,361.5 L1369.0,359.9 L1369.3,358.2 L1369.7,356.5 L1370.1,354.8 L1370.5,353.2 L1370.9,351.5 L1371.3,349.8 L1371.7,348.2 L1372.1,346.5 L1372.5,344.8 L1372.9,343.2 L1373.3,341.5 L1373.7,339.9 L1374.2,338.2 L1374.6,336.5 L1375.0,334.9 L1375.5,333.2 L1375.9,331.6 L1376.4,329.9 L1376.8,328.3 L1377.3,326.6 L1377.8,325.0 L1378.2,323.3 L1378.7,321.7 L1379.2,320.0 L1379.7,318.4 L1380.2,316.8 L1380.7,315.1 L1381.2,313.5 L1381.7,311.9 L1382.2,310.2 L1382.7,308.6 L1383.3,307.0 L1383.8,305.3 L1384.3,303.7 L1384.9,302.1 L1385.4,300.5 L1386.0,298.9 L1386.6,297.2 L1387.1,295.6 L1387.7,294.0 L1388.3,292.4 L1388.9,290.8 L1389.5,289.2 L1390.1,287.6 L1390.7,286.0 L1391.3,284.4 L1392.0,282.8 L1392.6,281.2 L1393.2,279.6 L1393.9,278.0 L1394.5,276.4 L1395.2,274.8 L1395.9,273.2 L1396.5,271.7 L1397.2,270.1 L1397.9,268.5 L1398.6,266.9 L1399.3,265.4 L1400.0,263.8 L1400.8,262.2 L1401.5,260.7 L1402.2,259.1 L1403.0,257.6 L1403.7,256.0 L1404.5,254.5 L1405.3,253.0 L1406.1,251.4 L1406.8,249.9 L1407.6,248.4 L1408.5,246.9 L1409.3,245.4 L1410.1,243.9 L1410.9,242.4 L1411.8,240.9 L1412.6,239.4 L1413.5,237.9 L1414.4,236.5 L1415.3,235.0 L1416.2,233.5 L1417.1,232.1 L1418.0,230.6 L1418.9,229.2 L1419.9,227.8 L1420.8,226.4 L1421.8,225.0 L1422.7,223.6 L1423.7,222.2 L1424.7,220.8 L1425.7,219.4 L1426.7,218.0 L1427.8,216.7 L1428.8,215.3 L1429.8,214.0 L1430.9,212.7 L1432.0,211.4 L1433.1,210.0 L1434.1,208.7 L1435.3,207.5 L1436.4,206.2 L1437.5,204.9 L1438.6,203.6 L1439.8,202.4 L1440.9,201.2 L1442.1,199.9 L1443.3,198.7 L1444.5,197.5 L1445.7,196.3 L1446.9,195.1 L1448.1,194.0 L1449.3,192.8 L1450.6,191.6 L1451.8,190.5 L1453.1,189.4 L1454.3,188.2 L1455.6,187.1 L1456.9,186.0 L1458.2,185.0 L1459.5,183.9 L1460.8,182.8 L1462.2,181.8 L1463.5,180.7 L1464.8,179.7 L1466.2,178.7 L1467.5,177.7 L1468.9,176.7 L1470.3,175.7 L1471.7,174.7 L1473.1,173.7 L1474.5,172.8 L1475.9,171.8 L1477.3,170.9 L1478.7,169.9 L1480.2,169.0 L1481.6,168.1 L1483.1,167.2 L1484.5,166.3 L1486.0,165.4 L1487.4,164.6 L1488.9,163.7 L1490.4,162.8 L1491.9,162.0 L1493.4,161.2 L1494.9,160.4 L1496.4,159.5 L1497.9,158.7 L1499.4,157.9 L1501.0,157.2 L1502.5,156.4 L1504.0,155.6 L1505.6,154.9 L1507.1,154.1 L1508.7,153.4 L1510.2,152.6 L1511.8,151.9 L1513.4,151.2 L1515.0,150.5 L1516.5,149.8 L1518.1,149.1 L1519.7,148.5 L1521.3,147.8 L1522.9,147.1 L1524.5,146.5 L1526.1,145.8 L1527.7,145.2 L1529.3,144.6 L1531.0,144.0 L1532.6,143.4 L1534.2,142.8 L1535.8,142.2 L1537.5,141.6 L1539.1,141.0 L1540.8,140.5 L1542.4,139.9 L1544.0,139.3 L1545.7,138.8 L1547.3,138.3 L1549.0,137.7 L1550.6,137.2 L1552.3,136.7 L1554.0,136.2 L1555.6,135.7 L1557.3,135.2 L1559.0,134.8 L1560.6,134.3 L1562.3,133.8 L1564.0,133.4 L1565.6,132.9 L1567.3,132.5 L1569.0,132.0 L1570.7,131.6 L1572.3,131.2 L1574.0,130.8 L1575.7,130.4 L1577.4,130.0 L1579.1,129.6 L1580.7,129.2 L1582.4,128.8 L1584.1,128.5 L1585.8,128.1 L1587.5,127.7 L1589.2,127.4 L1590.8,127.1 L1592.5,126.7 L1594.2,126.4 L1595.9,126.1 L1597.6,125.7 L1599.3,125.4 L1601.0,125.1 L1602.6,124.8 L1604.3,124.5 L1606.0,124.2 L1607.7,123.9 L1609.4,123.7 L1611.1,123.4 L1612.8,123.1 L1614.5,122.8 L1616.1,122.6 L1617.8,122.3 L1619.5,122.1 L1621.2,121.8 L1622.9,121.6 L1624.6,121.3 L1626.3,121.1 L1628.0,120.9 L1629.7,120.7 L1631.4,120.4 L1633.0,120.2 L1634.7,120.0 L1636.4,119.8 L1638.1,119.6 L1639.8,119.4 L1641.5,119.2 L1643.2,119.0 L1644.8,118.8 L1646.5,118.6 L1648.2,118.4 L1649.9,118.2 L1651.6,118.1 L1653.3,117.9 L1655.0,117.7 L1656.6,117.5 L1658.3,117.4 L1660.0,117.2" stroke="#000000" stroke-width="7.8" stroke-linecap="round" stroke-dasharray="11.872 22.272" stroke-dashoffset="30.12"/>
<path d="M144.0,92.5 L145.6,92.5 L147.1,92.5 L148.7,92.5 L150.3,92.6 L151.8,92.6 L153.4,92.6 L155.0,92.6 L156.5,92.6 L158.1,92.6 L159.7,92.6 L161.3,92.6 L162.8,92.6 L164.4,92.7 L166.0,92.7 L167.5,92.7 L169.1,92.7 L170.7,92.7 L172.2,92.7 L173.8,92.7 L175.4,92.7 L176.9,92.7 L178.5,92.8 L180.1,92.8 L181.7,92.8 L183.2,92.8 L184.8,92.8 L186.4,92.8 L187.9,92.8 L189.5,92.8 L191.1,92.8 L192.6,92.8 L194.2,92.8 L195.8,92.9 L197.4,92.9 L198.9,92.9 L200.5,92.9 L202.1,92.9 L203.6,92.9 L205.2,92.9 L206.8,92.9 L208.3,92.9 L209.9,92.9 L211.5,92.9 L213.1,93.0 L214.6,93.0 L216.2,93.0 L217.8,93.0 L219.3,93.0 L220.9,93.0 L222.5,93.0 L224.1,93.0 L225.6,93.0 L227.2,93.0 L228.8,93.0 L230.3,93.0 L231.9,93.1 L233.5,93.1 L235.0,93.1 L236.6,93.1 L238.2,93.1 L239.8,93.1 L241.3,93.1 L242.9,93.1 L244.5,93.1 L246.0,93.1 L247.6,93.1 L249.2,93.2 L250.8,93.2 L252.3,93.2 L253.9,93.2 L255.5,93.2 L257.0,93.2 L258.6,93.2 L260.2,93.2 L261.8,93.2 L263.3,93.2 L264.9,93.2 L266.5,93.3 L268.0,93.3 L269.6,93.3 L271.2,93.3 L272.7,93.3 L274.3,93.3 L275.9,93.3 L277.5,93.3 L279.0,93.3 L280.6,93.4 L282.2,93.4 L283.7,93.4 L285.3,93.4 L286.9,93.4 L288.5,93.4 L290.0,93.4 L291.6,93.4 L293.2,93.5 L294.7,93.5 L296.3,93.5 L297.9,93.5 L299.5,93.5 L301.0,93.5 L302.6,93.5 L304.2,93.5 L305.7,93.6 L307.3,93.6 L308.9,93.6 L310.5,93.6 L312.0,93.6 L313.6,93.6 L315.2,93.7 L316.7,93.7 L318.3,93.7 L319.9,93.7 L321.5,93.7 L323.0,93.7 L324.6,93.8 L326.2,93.8 L327.7,93.8 L329.3,93.8 L330.9,93.8 L332.5,93.8 L334.0,93.9 L335.6,93.9 L337.2,93.9 L338.7,93.9 L340.3,93.9 L341.9,94.0 L343.5,94.0 L345.0,94.0 L346.6,94.0 L348.2,94.1 L349.7,94.1 L351.3,94.1 L352.9,94.1 L354.5,94.1 L356.0,94.2 L357.6,94.2 L359.2,94.2 L360.7,94.2 L362.3,94.3 L363.9,94.3 L365.5,94.3 L367.0,94.3 L368.6,94.4 L370.2,94.4 L371.7,94.4 L373.3,94.4 L374.9,94.5 L376.5,94.5 L378.0,94.5 L379.6,94.6 L381.2,94.6 L382.7,94.6 L384.3,94.7 L385.9,94.7 L387.5,94.7 L389.0,94.7 L390.6,94.8 L392.2,94.8 L393.7,94.8 L395.3,94.9 L396.9,94.9 L398.5,94.9 L400.0,95.0 L401.6,95.0 L403.2,95.1 L404.7,95.1 L406.3,95.1 L407.9,95.2 L409.5,95.2 L411.0,95.2 L412.6,95.3 L414.2,95.3 L415.7,95.4 L417.3,95.4 L418.9,95.4 L420.5,95.5 L422.0,95.5 L423.6,95.6 L425.2,95.6 L426.7,95.6 L428.3,95.7 L429.9,95.7 L431.4,95.8 L433.0,95.8 L434.6,95.9 L436.2,95.9 L437.7,96.0 L439.3,96.0 L440.9,96.1 L442.4,96.1 L444.0,96.2 L445.6,96.2 L447.1,96.3 L448.7,96.3 L450.3,96.4 L451.9,96.4 L453.4,96.5 L455.0,96.5 L456.6,96.6 L458.1,96.6 L459.7,96.7 L461.3,96.7 L462.8,96.8 L464.4,96.9 L466.0,96.9 L467.6,97.0 L469.1,97.0 L470.7,97.1 L472.3,97.2 L473.8,97.2 L475.4,97.3 L477.0,97.3 L478.5,97.4 L480.1,97.5 L481.7,97.5 L483.3,97.6 L484.8,97.7 L486.4,97.7 L488.0,97.8 L489.5,97.9 L491.1,97.9 L492.7,98.0 L494.2,98.1 L495.8,98.1 L497.4,98.2 L498.9,98.3 L500.5,98.4 L502.1,98.4 L503.6,98.5 L505.2,98.6 L506.8,98.7 L508.4,98.7 L509.9,98.8 L511.5,98.9 L513.1,99.0 L514.6,99.0 L516.2,99.1 L517.8,99.2 L519.3,99.3 L520.9,99.4 L522.5,99.5 L524.0,99.5 L525.6,99.6 L527.2,99.7 L528.7,99.8 L530.3,99.9 L531.9,100.0 L533.4,100.1 L535.0,100.2 L536.6,100.2 L538.1,100.3 L539.7,100.4 L541.3,100.5 L542.8,100.6 L544.4,100.7 L546.0,100.8 L547.5,100.9 L549.1,101.0 L550.7,101.1 L552.2,101.2 L553.8,101.3 L555.4,101.4 L556.9,101.5 L558.5,101.6 L560.1,101.7 L561.6,101.8 L563.2,101.9 L564.8,102.0 L566.3,102.1 L567.9,102.2 L569.5,102.3 L571.0,102.5 L572.6,102.6 L574.2,102.7 L575.7,102.8 L577.3,102.9 L578.9,103.0 L580.4,103.1 L582.0,103.2 L583.6,103.4 L585.1,103.5 L586.7,103.6 L588.3,103.7 L589.8,103.8 L591.4,104.0 L593.0,104.1 L594.5,104.2 L596.1,104.3 L597.7,104.5 L599.2,104.6 L600.8,104.7 L602.4,104.8 L603.9,105.0 L605.5,105.1 L607.0,105.2 L608.6,105.4 L610.2,105.5 L611.7,105.6 L613.3,105.8 L614.9,105.9 L616.4,106.0 L618.0,106.2 L619.6,106.3 L621.1,106.5 L622.7,106.6 L624.2,106.8 L625.8,106.9 L627.4,107.1 L628.9,107.2 L630.5,107.4 L632.1,107.5 L633.6,107.7 L635.2,107.8 L636.7,108.0 L638.3,108.1 L639.9,108.3 L641.4,108.5 L643.0,108.6 L644.5,108.8 L646.1,109.0 L647.7,109.2 L649.2,109.3 L650.8,109.5 L652.3,109.7 L653.9,109.9 L655.5,110.1 L657.0,110.2 L658.6,110.4 L660.1,110.6 L661.7,110.8 L663.2,111.0 L664.8,111.2 L666.3,111.4 L667.9,111.6 L669.5,111.8 L671.0,112.0 L672.6,112.3 L674.1,112.5 L675.7,112.7 L677.2,112.9 L678.8,113.1 L680.3,113.4 L681.9,113.6 L683.4,113.8 L685.0,114.1 L686.5,114.3 L688.1,114.6 L689.6,114.8 L691.2,115.1 L692.7,115.3 L694.3,115.6 L695.8,115.8 L697.4,116.1 L698.9,116.4 L700.4,116.7 L702.0,116.9 L703.5,117.2 L705.1,117.5 L706.6,117.8 L708.1,118.1 L709.7,118.4 L711.2,118.7 L712.8,119.0 L714.3,119.3 L715.8,119.6 L717.4,119.9 L718.9,120.2 L720.5,120.6 L722.0,120.9 L723.5,121.2 L725.1,121.6 L726.6,121.9 L728.1,122.3 L729.7,122.6 L731.2,123.0 L732.7,123.3 L734.2,123.7 L735.8,124.1 L737.3,124.4 L738.8,124.8 L740.3,125.2 L741.9,125.6 L743.4,126.0 L744.9,126.4 L746.4,126.8 L748.0,127.2 L749.5,127.6 L751.0,128.0 L752.5,128.5 L754.0,128.9 L755.6,129.3 L757.1,129.8 L758.6,130.2 L760.1,130.7 L761.6,131.1 L763.1,131.6 L764.6,132.1 L766.1,132.5 L767.6,133.0 L769.1,133.5 L770.6,134.0 L772.1,134.5 L773.6,135.0 L775.1,135.5 L776.6,136.0 L778.1,136.5 L779.6,137.1 L781.1,137.6 L782.6,138.2 L784.1,138.7 L785.5,139.3 L787.0,139.8 L788.5,140.4 L790.0,141.0 L791.4,141.5 L792.9,142.1 L794.4,142.7 L795.8,143.3 L797.3,143.9 L798.7,144.5 L800.2,145.1 L801.6,145.8 L803.1,146.4 L804.5,147.0 L805.9,147.7 L807.4,148.3 L808.8,149.0 L810.2,149.7 L811.6,150.4 L813.0,151.0 L814.5,151.7 L815.9,152.4 L817.3,153.1 L818.7,153.8 L820.1,154.6 L821.4,155.3 L822.8,156.0 L824.2,156.8 L825.6,157.5 L827.0,158.3 L828.3,159.1 L829.7,159.8 L831.0,160.6 L832.4,161.4 L833.7,162.2 L835.1,163.0 L836.4,163.8 L837.7,164.7 L839.1,165.5 L840.4,166.3 L841.7,167.2 L843.0,168.1 L844.3,168.9 L845.6,169.8 L846.9,170.7 L848.2,171.6 L849.4,172.5 L850.7,173.4 L852.0,174.3 L853.3,175.2 L854.5,176.1 L855.8,177.1 L857.0,178.0 L858.2,179.0 L859.5,180.0 L860.7,180.9 L861.9,181.9 L863.1,182.9 L864.4,183.9 L865.6,184.9 L866.8,185.9 L867.9,186.9 L869.1,187.9 L870.3,189.0 L871.5,190.0 L872.7,191.0 L873.8,192.1 L875.0,193.1 L876.1,194.2 L877.3,195.3 L878.4,196.3 L879.6,197.4 L880.7,198.5 L881.8,199.6 L882.9,200.7 L884.0,201.8 L885.1,202.9 L886.2,204.1 L887.3,205.2 L888.4,206.3 L889.5,207.5 L890.6,208.6 L891.6,209.8 L892.7,210.9 L893.8,212.1 L894.8,213.3 L895.9,214.4 L896.9,215.6 L897.9,216.8 L899.0,218.0 L900.0,219.2 L901.0,220.4" stroke="#ff00ff" stroke-width="7.8" stroke-linecap="round" stroke-dasharray="12.100 22.700" stroke-dashoffset="0.00"/>
<path d="M901.0,220.4 L902.0,221.6 L903.0,222.8 L904.0,224.0 L905.0,225.3 L906.0,226.5 L906.9,227.7 L907.9,229.0 L908.9,230.2 L909.8,231.5 L910.8,232.7 L911.7,234.0 L912.7,235.3 L913.6,236.5 L914.5,237.8 L915.5,239.1 L916.4,240.4 L917.3,241.7 L918.2,242.9 L919.1,244.2 L920.0,245.5 L920.9,246.8 L921.7,248.2 L922.6,249.5 L923.5,250.8 L924.3,252.1 L925.2,253.4 L926.0,254.8 L926.9,256.1 L927.7,257.4 L928.5,258.8 L929.4,260.1 L930.2,261.5 L931.0,262.8 L931.8,264.2 L932.6,265.5 L933.4,266.9 L934.2,268.3 L934.9,269.6 L935.7,271.0 L936.5,272.4 L937.2,273.8 L938.0,275.1 L938.7,276.5 L939.5,277.9 L940.2,279.3 L940.9,280.7 L941.6,282.1 L942.4,283.5 L943.1,284.9 L943.8,286.3 L944.5,287.7 L945.1,289.1 L945.8,290.5 L946.5,291.9 L947.2,293.3 L947.9,294.8 L948.5,296.2 L949.2,297.6 L949.8,299.0 L950.5,300.5 L951.1,301.9 L951.7,303.3 L952.4,304.8 L953.0,306.2 L953.6,307.7 L954.2,309.1 L954.8,310.5 L955.4,312.0 L956.0,313.4 L956.6,314.9 L957.2,316.3 L957.8,317.8 L958.4,319.3 L959.0,320.7 L959.5,322.2 L960.1,323.6 L960.7,325.1 L961.2,326.6 L961.8,328.1 L962.3,329.5 L962.9,331.0 L963.4,332.5 L964.0,333.9 L964.5,335.4 L965.0,336.9 L965.5,338.4 L966.1,339.9 L966.6,341.4 L967.1,342.8 L967.6,344.3 L968.1,345.8 L968.6,347.3 L969.1,348.8 L969.6,350.3 L970.1,351.8 L970.6,353.3 L971.1,354.8 L971.6,356.3 L972.0,357.8 L972.5,359.3 L973.0,360.8 L973.4,362.3 L973.9,363.8 L974.4,365.3 L974.8,366.8 L975.3,368.3 L975.8,369.8 L976.2,371.3 L976.7,372.8 L977.1,374.3 L977.5,375.8 L978.0,377.3 L978.4,378.8 L978.9,380.3 L979.3,381.9 L979.7,383.4 L980.2,384.9 L980.6,386.4 L981.0,387.9 L981.4,389.4 L981.9,390.9 L982.3,392.5 L982.7,394.0 L983.1,395.5 L983.5,397.0 L984.0,398.5 L984.4,400.0 L984.8,401.5 L985.2,403.1 L985.6,404.6 L986.0,406.1 L986.4,407.6 L986.8,409.1 L987.2,410.6 L987.6,412.2 L988.0,413.7 L988.4,415.2 L988.8,416.7 L989.2,418.2 L989.6,419.7 L990.0,421.3 L990.4,422.8 L990.8,424.3 L991.1,425.8 L991.5,427.3 L991.9,428.9 L992.3,430.4 L992.7,431.9 L993.1,433.4 L993.4,434.9 L993.8,436.4 L994.2,438.0 L994.6,439.5 L994.9,441.0 L995.3,442.5 L995.7,444.0 L996.0,445.6 L996.4,447.1 L996.8,448.6 L997.1,450.1 L997.5,451.7 L997.8,453.2 L998.2,454.7 L998.6,456.2 L998.9,457.8 L999.3,459.3 L999.6,460.8 L1000.0,462.3 L1000.3,463.9 L1000.7,465.4 L1001.0,466.9 L1001.3,468.4 L1001.7,470.0 L1002.0,471.5 L1002.4,473.0 L1002.7,474.6 L1003.0,476.1 L1003.4,477.6 L1003.7,479.1 L1004.0,480.7 L1004.4,482.2 L1004.7,483.7 L1005.0,485.3 L1005.3,486.8 L1005.6,488.4 L1006.0,489.9 L1006.3,491.4 L1006.6,493.0 L1006.9,494.5 L1007.2,496.0 L1007.5,497.6 L1007.8,499.1 L1008.1,500.7 L1008.4,502.2 L1008.7,503.8 L1009.0,505.3 L1009.3,506.8 L1009.6,508.4 L1009.9,509.9 L1010.2,511.5 L1010.5,513.0 L1010.8,514.6 L1011.1,516.1 L1011.4,517.7 L1011.7,519.2 L1011.9,520.8 L1012.2,522.4 L1012.5,523.9 L1012.8,525.5 L1013.0,527.0 L1013.3,528.6 L1013.6,530.1 L1013.8,531.7 L1014.1,533.3 L1014.4,534.8 L1014.6,536.4 L1014.9,538.0 L1015.2,539.5 L1015.4,541.1 L1015.7,542.7 L1015.9,544.2 L1016.2,545.8 L1016.4,547.4 L1016.7,549.0 L1016.9,550.5 L1017.1,552.1 L1017.4,553.7 L1017.6,555.2 L1017.9,556.8 L1018.1,558.4 L1018.4,560.0 L1018.7,561.5 L1018.9,563.1 L1019.2,564.6 L1019.5,566.2 L1019.7,567.8 L1020.0,569.3 L1020.3,570.9 L1020.6,572.4 L1020.9,574.0 L1021.2,575.5 L1021.5,577.0 L1021.9,578.6 L1022.2,580.1 L1022.6,581.6 L1022.9,583.1 L1023.3,584.6 L1023.7,586.1 L1024.1,587.6 L1024.5,589.1 L1024.9,590.6 L1025.3,592.1 L1025.7,593.5 L1026.2,595.0 L1026.7,596.5 L1027.2,597.9 L1027.7,599.3 L1028.2,600.8 L1028.7,602.2 L1029.3,603.6 L1029.8,605.0 L1030.4,606.4 L1031.0,607.8 L1031.7,609.1 L1032.3,610.5 L1033.0,611.8 L1033.7,613.2 L1034.5,614.5 L1035.3,615.7 L1036.3,616.9 L1037.4,618.0 L1038.6,619.0 L1039.5,618.2 L1040.4,617.3 L1041.2,616.4 L1042.0,615.5 L1042.7,614.6 L1043.4,613.6 L1044.1,612.7 L1044.7,611.7 L1045.4,610.7 L1045.9,609.7 L1046.5,608.6 L1047.0,607.6 L1047.5,606.5 L1048.0,605.5 L1048.4,604.4 L1048.8,603.3 L1049.2,602.1 L1049.6,601.0 L1050.0,599.9 L1050.3,598.7 L1050.6,597.6 L1050.9,596.4 L1051.2,595.2 L1051.5,594.0 L1051.7,592.8 L1052.0,591.6 L1052.2,590.4 L1052.4,589.2 L1052.6,588.0 L1052.8,586.8 L1053.0,585.6 L1053.2,584.4 L1053.4,583.2 L1053.6,581.9 L1053.8,580.7 L1054.0,579.5 L1054.2,578.3 L1054.4,577.1 L1054.6,575.9 L1054.8,574.6 L1055.0,573.4 L1055.2,572.2 L1055.4,571.0 L1055.6,569.8 L1055.8,568.6 L1056.0,567.4 L1056.2,566.2 L1056.5,565.0 L1056.7,563.8 L1056.9,562.6 L1057.1,561.4 L1057.3,560.3 L1057.6,559.1 L1057.8,557.9 L1058.0,556.7 L1058.2,555.5 L1058.5,554.3 L1058.7,553.1 L1058.9,551.9 L1059.2,550.8 L1059.4,549.6 L1059.6,548.4 L1059.9,547.2 L1060.1,546.0 L1060.3,544.8 L1060.6,543.6 L1060.8,542.4 L1061.0,541.3 L1061.3,540.1 L1061.5,538.9 L1061.8,537.7 L1062.0,536.5 L1062.2,535.3 L1062.5,534.1 L1062.7,532.9 L1063.0,531.8 L1063.2,530.6 L1063.5,529.4 L1063.7,528.2 L1063.9,527.0 L1064.2,525.8 L1064.4,524.6 L1064.7,523.4 L1064.9,522.2 L1065.2,521.0 L1065.4,519.8 L1065.7,518.7 L1065.9,517.5 L1066.2,516.3 L1066.4,515.1 L1066.7,513.9 L1066.9,512.7 L1067.2,511.5 L1067.4,510.3 L1067.7,509.1 L1067.9,507.9 L1068.2,506.7 L1068.5,505.5 L1068.7,504.4 L1069.0,503.2 L1069.2,502.0 L1069.5,500.8 L1069.7,499.6 L1070.0,498.4 L1070.3,497.2 L1070.5,496.0 L1070.8,494.8 L1071.0,493.6 L1071.3,492.4 L1071.6,491.3 L1071.8,490.1 L1072.1,488.9 L1072.4,487.7 L1072.6,486.5 L1072.9,485.3 L1073.2,484.1 L1073.4,482.9 L1073.7,481.7 L1074.0,480.6 L1074.2,479.4 L1074.5,478.2 L1074.8,477.0 L1075.1,475.8 L1075.3,474.6 L1075.6,473.4 L1075.9,472.3 L1076.1,471.1 L1076.4,469.9 L1076.7,468.7 L1077.0,467.5 L1077.2,466.4 L1077.5,465.2 L1077.8,464.0 L1078.1,462.8 L1078.4,461.6 L1078.6,460.5 L1078.9,459.3 L1079.2,458.1 L1079.5,456.9 L1079.8,455.7 L1080.1,454.6 L1080.4,453.4 L1080.6,452.2 L1080.9,451.0 L1081.2,449.9 L1081.5,448.7 L1081.8,447.5 L1082.1,446.3 L1082.4,445.2 L1082.7,444.0 L1083.0,442.8 L1083.3,441.7 L1083.6,440.5 L1083.9,439.3 L1084.2,438.2 L1084.5,437.0 L1084.8,435.8 L1085.1,434.7 L1085.4,433.5 L1085.8,432.3 L1086.1,431.2 L1086.4,430.0 L1086.7,428.8 L1087.0,427.7 L1087.3,426.5 L1087.7,425.4 L1088.0,424.2 L1088.3,423.0 L1088.7,421.9 L1089.0,420.7 L1089.3,419.6 L1089.7,418.4 L1090.0,417.3 L1090.3,416.1 L1090.7,415.0 L1091.0,413.8 L1091.4,412.6 L1091.7,411.5 L1092.1,410.3 L1092.4,409.2 L1092.8,408.0 L1093.1,406.9 L1093.5,405.8 L1093.8,404.6 L1094.2,403.5 L1094.6,402.3 L1095.0,401.2 L1095.3,400.0 L1095.7,398.9 L1096.1,397.7 L1096.5,396.6 L1096.8,395.5 L1097.2,394.3 L1097.6,393.2 L1098.0,392.1 L1098.4,390.9 L1098.8,389.8 L1099.2,388.7 L1099.6,387.5 L1100.0,386.4 L1100.4,385.3 L1100.8,384.1 L1101.2,383.0 L1101.6,381.9 L1102.1,380.7 L1102.5,379.6 L1102.9,378.5" stroke="#ff00ff" stroke-width="7.8" stroke-linecap="round" stroke-dasharray="12.343 23.155" stroke-dashoffset="23.31"/>
<path d="M1102.9,378.5 L1103.3,377.4 L1103.8,376.2 L1104.2,375.1 L1104.7,374.0 L1105.1,372.9 L1105.5,371.8 L1106.0,370.6 L1106.4,369.5 L1106.9,368.4 L1107.4,367.3 L1107.8,366.2 L1108.3,365.1 L1108.8,364.0 L1109.2,362.8 L1109.7,361.7 L1110.2,360.6 L1110.7,359.5 L1111.2,358.4 L1111.6,357.3 L1112.1,356.2 L1112.6,355.1 L1113.1,354.0 L1113.6,352.9 L1114.2,351.8 L1114.7,350.7 L1115.2,349.6 L1115.7,348.5 L1116.2,347.4 L1116.8,346.3 L1117.3,345.2 L1117.8,344.1 L1118.4,343.0 L1118.9,341.9 L1119.5,340.8 L1120.0,339.8 L1120.6,338.7 L1121.1,337.6 L1121.7,336.5 L1122.3,335.4 L1122.9,334.3 L1123.4,333.3 L1124.0,332.2 L1124.6,331.1 L1125.2,330.0 L1125.8,329.0 L1126.4,327.9 L1127.0,326.8 L1127.6,325.7 L1128.2,324.7 L1128.8,323.6 L1129.5,322.5 L1130.1,321.5 L1130.7,320.4 L1131.4,319.3 L1132.0,318.3 L1132.7,317.2 L1133.3,316.2 L1134.0,315.1 L1134.6,314.0 L1135.3,313.0 L1136.0,311.9 L1136.7,310.9 L1137.3,309.8 L1138.0,308.8 L1138.7,307.7 L1139.4,306.7 L1140.1,305.6 L1140.8,304.6 L1141.5,303.6 L1142.3,302.5 L1143.0,301.5 L1143.7,300.5 L1144.5,299.5 L1145.2,298.5 L1145.9,297.4 L1146.7,296.4 L1147.5,295.5 L1148.2,294.5 L1149.0,293.5 L1149.8,292.5 L1150.6,291.5 L1151.3,290.6 L1152.1,289.6 L1152.9,288.7 L1153.7,287.7 L1154.6,286.8 L1155.4,285.9 L1156.2,285.0 L1157.0,284.1 L1157.9,283.2 L1158.7,282.3 L1159.6,281.5 L1160.4,280.6 L1161.3,279.8 L1162.2,278.9 L1163.0,278.1 L1163.9,277.3 L1164.8,276.5 L1165.7,275.7 L1166.6,275.0 L1167.5,274.2 L1168.5,273.5 L1169.4,272.8 L1170.3,272.1 L1171.3,271.4 L1172.2,270.7 L1173.2,270.0 L1174.1,269.4 L1175.1,268.8 L1176.1,268.1 L1177.1,267.5 L1178.1,267.0 L1179.1,266.4 L1180.1,265.9 L1181.1,265.3 L1182.1,264.8 L1183.2,264.3 L1184.2,263.9 L1185.2,263.4 L1186.3,263.0 L1187.4,262.6 L1188.4,262.2 L1189.5,261.9 L1190.6,261.5 L1191.7,261.2 L1192.8,260.9 L1193.9,260.6 L1195.1,260.4 L1196.2,260.1 L1197.3,259.9 L1198.5,259.7 L1199.6,259.6 L1200.8,259.4 L1202.0,259.3 L1203.2,259.2 L1204.4,259.2 L1205.6,259.1 L1206.8,259.1 L1208.0,259.1 L1209.2,259.2 L1210.4,259.2 L1211.7,259.3 L1212.9,259.4 L1214.2,259.6 L1215.4,259.8 L1216.7,260.0 L1217.9,260.2 L1219.2,260.4 L1220.4,260.7 L1221.7,261.0 L1222.9,261.3 L1224.2,261.6 L1225.4,262.0 L1226.6,262.4 L1227.8,262.8 L1229.0,263.2 L1230.2,263.7 L1231.4,264.1 L1232.6,264.6 L1233.7,265.2 L1234.9,265.7 L1236.0,266.3 L1237.1,266.9 L1238.2,267.5 L1239.3,268.1 L1240.3,268.8 L1241.4,269.4 L1242.4,270.1 L1243.4,270.8 L1244.4,271.6 L1245.3,272.3 L1246.3,273.1 L1247.2,273.9 L1248.2,274.6 L1249.1,275.5 L1250.0,276.3 L1250.9,277.1 L1251.8,278.0 L1252.6,278.8 L1253.5,279.7 L1254.3,280.6 L1255.2,281.5 L1256.0,282.4 L1256.8,283.3 L1257.6,284.2 L1258.4,285.1 L1259.2,286.1 L1260.0,287.0 L1260.7,287.9 L1261.5,288.9 L1262.3,289.8 L1263.0,290.8 L1263.8,291.7 L1264.5,292.7 L1265.3,293.7 L1266.0,294.6 L1266.8,295.6 L1267.5,296.5 L1268.2,297.5 L1268.9,298.5 L1269.7,299.5 L1270.4,300.4 L1271.1,301.4 L1271.8,302.4 L1272.5,303.4 L1273.2,304.3 L1273.9,305.3 L1274.6,306.3 L1275.3,307.3 L1276.0,308.3 L1276.7,309.3 L1277.3,310.3 L1278.0,311.3 L1278.7,312.3 L1279.4,313.3 L1280.0,314.3 L1280.7,315.3 L1281.4,316.3 L1282.0,317.3 L1282.7,318.3 L1283.3,319.3 L1284.0,320.3 L1284.7,321.3 L1285.3,322.3 L1286.0,323.4 L1286.6,324.4 L1287.2,325.4 L1287.9,326.4 L1288.5,327.4 L1289.2,328.5 L1289.8,329.5 L1290.5,330.5 L1291.1,331.6 L1291.7,332.6 L1292.4,333.6 L1293.0,334.7 L1293.6,335.7 L1294.3,336.8 L1294.9,337.8 L1295.5,338.9 L1296.2,339.9 L1296.8,341.0 L1297.4,342.0 L1298.1,343.1 L1298.7,344.1 L1299.3,345.2 L1300.0,346.3 L1300.6,347.3 L1301.2,348.4 L1301.9,349.5 L1302.5,350.5 L1303.1,351.6 L1303.8,352.7 L1304.4,353.7 L1305.1,354.8 L1305.7,355.9 L1306.3,356.9 L1307.0,358.0 L1307.7,359.1 L1308.3,360.1 L1309.0,361.2 L1309.7,362.2 L1310.4,363.2 L1311.1,364.2 L1311.8,365.2 L1312.5,366.2 L1313.2,367.2 L1314.0,368.1 L1314.7,369.0 L1315.5,369.9 L1316.3,370.8 L1317.1,371.7 L1317.9,372.6 L1318.7,373.4 L1319.6,374.2 L1320.5,375.0 L1321.4,375.7 L1322.3,376.4 L1323.2,377.1 L1324.2,377.7 L1325.2,378.4 L1326.2,379.0 L1327.2,379.5 L1328.2,380.0 L1329.3,380.5 L1330.4,380.9 L1331.6,381.3 L1332.7,381.7 L1333.9,382.0 L1335.2,382.3 L1336.4,382.5 L1337.7,382.7 L1338.9,382.2 L1340.1,381.7 L1341.2,381.2 L1342.4,380.7 L1343.4,380.1 L1344.5,379.4 L1345.5,378.8 L1346.5,378.1 L1347.5,377.4 L1348.5,376.7 L1349.4,375.9 L1350.3,375.1 L1351.2,374.3 L1352.1,373.5 L1352.9,372.6 L1353.7,371.7 L1354.5,370.8 L1355.3,369.9 L1356.1,369.0 L1356.8,368.0 L1357.5,367.0 L1358.2,366.0 L1358.9,365.0 L1359.6,364.0 L1360.3,363.0 L1360.9,361.9 L1361.6,360.8 L1362.2,359.8 L1362.8,358.7 L1363.5,357.6 L1364.1,356.5 L1364.7,355.4 L1365.2,354.3 L1365.8,353.1 L1366.4,352.0 L1367.0,350.9 L1367.5,349.8 L1368.1,348.6 L1368.7,347.5 L1369.2,346.4 L1369.8,345.2 L1370.3,344.1 L1370.9,343.0 L1371.4,341.8 L1372.0,340.7 L1372.5,339.6 L1373.1,338.4 L1373.6,337.3 L1374.2,336.2 L1374.7,335.0 L1375.3,333.9 L1375.8,332.8 L1376.4,331.7 L1376.9,330.5 L1377.5,329.4 L1378.0,328.3 L1378.5,327.1 L1379.1,326.0 L1379.6,324.9 L1380.2,323.8 L1380.7,322.7 L1381.3,321.5 L1381.8,320.4 L1382.4,319.3 L1382.9,318.2 L1383.5,317.1 L1384.0,315.9 L1384.6,314.8 L1385.1,313.7 L1385.7,312.6 L1386.2,311.5 L1386.8,310.4 L1387.3,309.3 L1387.9,308.1 L1388.5,307.0 L1389.0,305.9 L1389.6,304.8 L1390.1,303.7 L1390.7,302.6 L1391.3,301.5 L1391.8,300.4 L1392.4,299.3 L1393.0,298.2 L1393.6,297.1 L1394.1,296.0 L1394.7,294.9 L1395.3,293.8 L1395.9,292.7 L1396.5,291.6 L1397.1,290.5 L1397.7,289.4 L1398.3,288.3 L1398.9,287.2 L1399.5,286.1 L1400.1,285.0 L1400.7,284.0 L1401.3,282.9 L1401.9,281.8 L1402.5,280.7 L1403.2,279.6 L1403.8,278.5 L1404.4,277.5 L1405.1,276.4 L1405.7,275.3 L1406.4,274.2 L1407.0,273.1 L1407.7,272.1 L1408.3,271.0 L1409.0,269.9 L1409.6,268.9 L1410.3,267.8 L1411.0,266.7 L1411.6,265.7 L1412.3,264.6 L1413.0,263.5 L1413.7,262.5 L1414.4,261.4 L1415.1,260.4 L1415.8,259.3 L1416.5,258.3 L1417.2,257.2 L1417.9,256.2 L1418.6,255.1" stroke="#ff00ff" stroke-width="7.8" stroke-linecap="round" stroke-dasharray="12.419 23.298" stroke-dashoffset="26.05"/>
<path d="M1418.6,255.1 L1419.3,254.1 L1420.1,253.1 L1420.8,252.0 L1421.5,251.0 L1422.2,250.0 L1423.0,248.9 L1423.7,247.9 L1424.5,246.9 L1425.2,245.9 L1426.0,244.9 L1426.7,243.9 L1427.5,242.8 L1428.3,241.8 L1429.0,240.8 L1429.8,239.8 L1430.6,238.8 L1431.4,237.9 L1432.2,236.9 L1432.9,235.9 L1433.7,234.9 L1434.5,233.9 L1435.3,232.9 L1436.1,232.0 L1436.9,231.0 L1437.8,230.0 L1438.6,229.1 L1439.4,228.1 L1440.2,227.2 L1441.1,226.2 L1441.9,225.3 L1442.7,224.3 L1443.6,223.4 L1444.4,222.5 L1445.3,221.5 L1446.1,220.6 L1447.0,219.7 L1447.8,218.8 L1448.7,217.9 L1449.6,217.0 L1450.4,216.1 L1451.3,215.2 L1452.2,214.3 L1453.1,213.4 L1454.0,212.5 L1454.9,211.7 L1455.8,210.8 L1456.7,209.9 L1457.6,209.1 L1458.5,208.2 L1459.4,207.4 L1460.3,206.5 L1461.2,205.7 L1462.2,204.8 L1463.1,204.0 L1464.0,203.2 L1465.0,202.4 L1465.9,201.6 L1466.9,200.8 L1467.8,200.0 L1468.8,199.2 L1469.7,198.4 L1470.7,197.6 L1471.7,196.8 L1472.6,196.0 L1473.6,195.3 L1474.6,194.5 L1475.6,193.7 L1476.6,193.0 L1477.5,192.2 L1478.5,191.5 L1479.5,190.8 L1480.5,190.0 L1481.5,189.3 L1482.5,188.6 L1483.6,187.9 L1484.6,187.2 L1485.6,186.5 L1486.6,185.7 L1487.6,185.1 L1488.7,184.4 L1489.7,183.7 L1490.7,183.0 L1491.8,182.3 L1492.8,181.7 L1493.8,181.0 L1494.9,180.3 L1495.9,179.7 L1497.0,179.0 L1498.1,178.4 L1499.1,177.7 L1500.2,177.1 L1501.2,176.5 L1502.3,175.8 L1503.4,175.2 L1504.5,174.6 L1505.5,174.0 L1506.6,173.4 L1507.7,172.8 L1508.8,172.2 L1509.9,171.6 L1511.0,171.0 L1512.1,170.4 L1513.2,169.8 L1514.3,169.2 L1515.4,168.7 L1516.5,168.1 L1517.6,167.5 L1518.7,167.0 L1519.8,166.4 L1520.9,165.9 L1522.0,165.3 L1523.2,164.8 L1524.3,164.2 L1525.4,163.7 L1526.5,163.2 L1527.7,162.7 L1528.8,162.1 L1529.9,161.6 L1531.1,161.1 L1532.2,160.6 L1533.4,160.1 L1534.5,159.6 L1535.7,159.1 L1536.8,158.6 L1538.0,158.1 L1539.1,157.7 L1540.3,157.2 L1541.4,156.7 L1542.6,156.2 L1543.7,155.8 L1544.9,155.3 L1546.1,154.8 L1547.2,154.4 L1548.4,153.9 L1549.6,153.5 L1550.7,153.0 L1551.9,152.6 L1553.1,152.2 L1554.3,151.7 L1555.5,151.3 L1556.6,150.9 L1557.8,150.5 L1559.0,150.0 L1560.2,149.6 L1561.4,149.2 L1562.6,148.8 L1563.8,148.4 L1564.9,148.0 L1566.1,147.6 L1567.3,147.2 L1568.5,146.8 L1569.7,146.4 L1570.9,146.1 L1572.1,145.7 L1573.3,145.3 L1574.5,144.9 L1575.7,144.6 L1576.9,144.2 L1578.1,143.8 L1579.3,143.5 L1580.5,143.1 L1581.8,142.8 L1583.0,142.4 L1584.2,142.1 L1585.4,141.7 L1586.6,141.4 L1587.8,141.1 L1589.0,140.7 L1590.2,140.4 L1591.5,140.1 L1592.7,139.7 L1593.9,139.4 L1595.1,139.1 L1596.3,138.8 L1597.6,138.5 L1598.8,138.2 L1600.0,137.9 L1601.2,137.6 L1602.4,137.3 L1603.7,137.0 L1604.9,136.7 L1606.1,136.4 L1607.3,136.1 L1608.6,135.8 L1609.8,135.5 L1611.0,135.2 L1612.2,135.0 L1613.5,134.7 L1614.7,134.4 L1615.9,134.1 L1617.1,133.9 L1618.4,133.6 L1619.6,133.3 L1620.8,133.1 L1622.0,132.8 L1623.3,132.6 L1624.5,132.3 L1625.7,132.1 L1627.0,131.8 L1628.2,131.6 L1629.4,131.3 L1630.6,131.1 L1631.9,130.9 L1633.1,130.6 L1634.3,130.4 L1635.5,130.2 L1636.8,129.9 L1638.0,129.7 L1639.2,129.5 L1640.5,129.3 L1641.7,129.0 L1642.9,128.8 L1644.1,128.6 L1645.4,128.4 L1646.6,128.2 L1647.8,128.0 L1649.0,127.8 L1650.2,127.6 L1651.5,127.4 L1652.7,127.2 L1653.9,127.0 L1655.1,126.8 L1656.3,126.6 L1657.6,126.4 L1658.8,126.2 L1660.0,126.0" stroke="#ff00ff" stroke-width="7.8" stroke-linecap="round" stroke-dasharray="11.839 22.211" stroke-dashoffset="32.88"/>
</g>
<line x1="120.0" y1="1214.8" x2="1655.5" y2="1214.8" stroke="#9a9a9a" stroke-width="2"/>
<rect x="143.7" y="90.0" width="1512.5" height="1122.0" fill="none" stroke="#000" stroke-width="4" stroke-linejoin="round"/>
<line x1="120.0" y1="90.0" x2="144.0" y2="90.0" stroke="#000" stroke-width="4"/>
<line x1="131.0" y1="230.2" x2="144.0" y2="230.2" stroke="#000" stroke-width="4"/>
<line x1="120.0" y1="370.5" x2="144.0" y2="370.5" stroke="#000" stroke-width="4"/>
<line x1="131.0" y1="510.8" x2="144.0" y2="510.8" stroke="#000" stroke-width="4"/>
<line x1="120.0" y1="651.0" x2="144.0" y2="651.0" stroke="#000" stroke-width="4"/>
<line x1="131.0" y1="791.2" x2="144.0" y2="791.2" stroke="#000" stroke-width="4"/>
<line x1="120.0" y1="931.5" x2="144.0" y2="931.5" stroke="#000" stroke-width="4"/>
<line x1="131.0" y1="1071.8" x2="144.0" y2="1071.8" stroke="#000" stroke-width="4"/>
<line x1="120.0" y1="1212.0" x2="144.0" y2="1212.0" stroke="#000" stroke-width="4"/>
<line x1="144.0" y1="1212.0" x2="144.0" y2="1190.0" stroke="#000" stroke-width="4"/>
<line x1="295.1" y1="1212.0" x2="295.1" y2="1200.0" stroke="#000" stroke-width="4"/>
<line x1="446.3" y1="1212.0" x2="446.3" y2="1190.0" stroke="#000" stroke-width="4"/>
<line x1="597.5" y1="1212.0" x2="597.5" y2="1200.0" stroke="#000" stroke-width="4"/>
<line x1="748.6" y1="1212.0" x2="748.6" y2="1190.0" stroke="#000" stroke-width="4"/>
<line x1="899.8" y1="1212.0" x2="899.8" y2="1200.0" stroke="#000" stroke-width="4"/>
<line x1="1050.9" y1="1212.0" x2="1050.9" y2="1190.0" stroke="#000" stroke-width="4"/>
<line x1="1202.0" y1="1212.0" x2="1202.0" y2="1200.0" stroke="#000" stroke-width="4"/>
<line x1="1353.2" y1="1212.0" x2="1353.2" y2="1190.0" stroke="#000" stroke-width="4"/>
<line x1="1504.3" y1="1212.0" x2="1504.3" y2="1200.0" stroke="#000" stroke-width="4"/>
<line x1="1655.5" y1="1212.0" x2="1655.5" y2="1190.0" stroke="#000" stroke-width="4"/>
<g font-family="Liberation Sans, Arial, sans-serif" font-size="63.5" fill="#000" text-anchor="end">
<text transform="translate(106.5 108.9) scale(1 1.045)">0</text>
<g clip-path="url(#c1y10)"><text transform="translate(106.5 389.4) scale(1 1.045)"><tspan dy="1.2">-</tspan><tspan dx="1.4" dy="-1.2">1</tspan><tspan dx="-1.4">0</tspan></text></g>
<text transform="translate(106.5 669.9) scale(1 1.045)"><tspan dy="1.2">-</tspan><tspan dy="-1.2">2</tspan>0</text>
<text transform="translate(106.5 950.4) scale(1 1.045)"><tspan dy="1.2">-</tspan><tspan dy="-1.2">3</tspan>0</text>
<text transform="translate(106.5 1230.9) scale(1 1.045)"><tspan dy="1.2">-</tspan><tspan dy="-1.2">4</tspan>0</text>
</g>
<g font-family="Liberation Sans, Arial, sans-serif" font-size="63.5" fill="#000" text-anchor="middle">
<g clip-path="url(#c1x)"><text transform="translate(145.2 1285.8) scale(1 1.045)">1</text></g>
<text transform="translate(446.3 1285.8) scale(1 1.045)">2</text>
<text transform="translate(748.6 1285.8) scale(1 1.045)">3</text>
<text transform="translate(1050.9 1285.8) scale(1 1.045)">4</text>
<text transform="translate(1353.2 1285.8) scale(1 1.045)">5</text>
<text transform="translate(1655.5 1285.8) scale(1 1.045)">6</text>
</g>
<defs><clipPath id="c1y10"><path clip-rule="evenodd" d="M0,319.4H130V409.4H0Z M41.11,384.04H53.24V390.40H41.11Z M58.85,384.04H70.48V390.40H58.85Z"/></clipPath><clipPath id="c1x"><path clip-rule="evenodd" d="M105.2,1215.8H185.2V1305.8H105.2Z M131.38,1280.44H143.51V1286.80H131.38Z M149.12,1280.44H160.76V1286.80H149.12Z"/></clipPath></defs>
<text x="160" y="68.9" font-family="Liberation Serif, Times New Roman, serif" font-size="79.3" fill="#000">Reflection Coefficient (dB)</text>
<text x="622" y="1406.3" font-family="Liberation Serif, Times New Roman, serif" font-size="79" fill="#000">Frequency (GHz)</text>
<line x1="167" y1="969.0" x2="287" y2="969.0" stroke="#ff0000" stroke-width="8.2" stroke-linecap="round"/>
<text x="299.5" y="986.0" font-family="Liberation Serif, Times New Roman, serif" font-style="italic" font-size="52.5" fill="#000">CST_DRA-00</text>
<line x1="167" y1="1033.3" x2="287" y2="1033.3" stroke="#0000ff" stroke-width="8.2" stroke-linecap="round"/>
<text x="299.5" y="1050.3" font-family="Liberation Serif, Times New Roman, serif" font-style="italic" font-size="52.5" fill="#000">CST_DRA-20</text>
<line x1="167.8" y1="1098.5" x2="286" y2="1098.5" stroke="#000000" stroke-width="8.2" stroke-linecap="round" stroke-dasharray="12.3 22.6"/>
<text x="299.5" y="1115.5" font-family="Liberation Serif, Times New Roman, serif" font-style="italic" font-size="52.5" fill="#000">ADS_DRA-00</text>
<line x1="167.8" y1="1162.9" x2="286" y2="1162.9" stroke="#ff00ff" stroke-width="8.2" stroke-linecap="round" stroke-dasharray="12.3 22.6"/>
<text x="299.5" y="1179.9" font-family="Liberation Serif, Times New Roman, serif" font-style="italic" font-size="52.5" fill="#000">ADS_DRA-20</text>
</svg>
</body></html>
